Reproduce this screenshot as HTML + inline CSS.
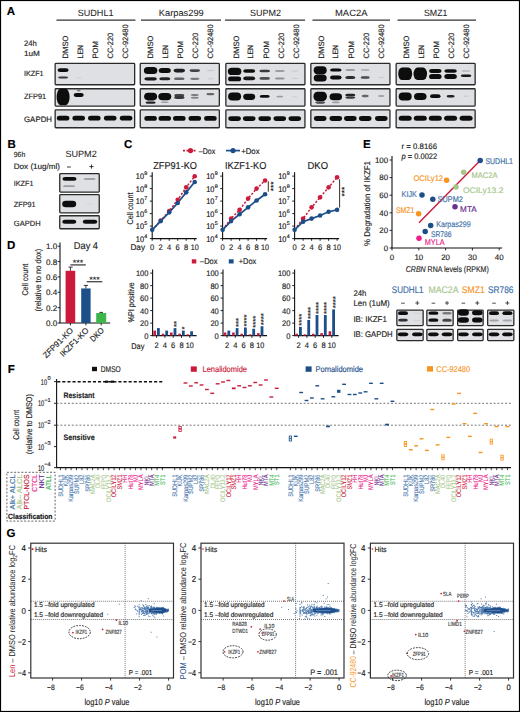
<!DOCTYPE html><html><head><meta charset="utf-8"><style>html,body{margin:0;padding:0;background:#fff;}svg{display:block;}</style></head><body><svg width="520" height="712" viewBox="0 0 520 712" font-family='"Liberation Sans", sans-serif' text-rendering="geometricPrecision">
<defs><filter id="bl" x="-50%" y="-50%" width="200%" height="200%"><feGaussianBlur stdDeviation="0.75"/></filter><filter id="bl2" x="-50%" y="-50%" width="200%" height="200%"><feGaussianBlur stdDeviation="0.9"/></filter></defs>
<rect x="0.00" y="0.00" width="520.00" height="712.00" fill="#fff" />
<text x="6.80" y="15.48" font-size="11.5" fill="#000" stroke="#000" stroke-width="0.15" font-weight="bold" >A</text>
<text x="7.60" y="147.78" font-size="11.5" fill="#000" stroke="#000" stroke-width="0.15" font-weight="bold" >B</text>
<text x="124.00" y="148.28" font-size="11.5" fill="#000" stroke="#000" stroke-width="0.15" font-weight="bold" >C</text>
<text x="7.00" y="248.78" font-size="11.5" fill="#000" stroke="#000" stroke-width="0.15" font-weight="bold" >D</text>
<text x="363.00" y="147.98" font-size="11.5" fill="#000" stroke="#000" stroke-width="0.15" font-weight="bold" >E</text>
<text x="7.80" y="373.08" font-size="11.5" fill="#000" stroke="#000" stroke-width="0.15" font-weight="bold" >F</text>
<text x="6.40" y="536.98" font-size="11.5" fill="#000" stroke="#000" stroke-width="0.15" font-weight="bold" >G</text>
<text x="77.70" y="16.08" font-size="9.1" fill="#222" stroke="#222" stroke-width="0.05" textLength="35.8" lengthAdjust="spacingAndGlyphs" >SUDHL1</text>
<line x1="56.50" y1="20.10" x2="135.40" y2="20.10" stroke="#333" stroke-width="1.1" />
<text x="158.80" y="16.08" font-size="9.1" fill="#222" stroke="#222" stroke-width="0.05" textLength="45.0" lengthAdjust="spacingAndGlyphs" >Karpas299</text>
<line x1="141.00" y1="20.10" x2="221.00" y2="20.10" stroke="#333" stroke-width="1.1" />
<text x="250.00" y="16.08" font-size="9.1" fill="#222" stroke="#222" stroke-width="0.05" textLength="31.0" lengthAdjust="spacingAndGlyphs" >SUPM2</text>
<line x1="225.00" y1="20.10" x2="305.00" y2="20.10" stroke="#333" stroke-width="1.1" />
<text x="335.00" y="16.08" font-size="9.1" fill="#222" stroke="#222" stroke-width="0.05" textLength="32.5" lengthAdjust="spacingAndGlyphs" >MAC2A</text>
<line x1="312.50" y1="20.10" x2="390.00" y2="20.10" stroke="#333" stroke-width="1.1" />
<text x="424.00" y="16.08" font-size="9.1" fill="#222" stroke="#222" stroke-width="0.05" textLength="23.5" lengthAdjust="spacingAndGlyphs" >SMZ1</text>
<line x1="397.50" y1="20.10" x2="476.00" y2="20.10" stroke="#333" stroke-width="1.1" />
<text transform="translate(68.01,58.40) rotate(-90)" font-size="7.8" fill="#222" stroke="#222" stroke-width="0.15" textLength="22.8" lengthAdjust="spacingAndGlyphs" >DMSO</text>
<text transform="translate(82.61,58.40) rotate(-90)" font-size="7.8" fill="#222" stroke="#222" stroke-width="0.15" textLength="13.5" lengthAdjust="spacingAndGlyphs" >LEN</text>
<text transform="translate(97.81,58.40) rotate(-90)" font-size="7.8" fill="#222" stroke="#222" stroke-width="0.15" textLength="17.1" lengthAdjust="spacingAndGlyphs" >POM</text>
<text transform="translate(112.81,58.40) rotate(-90)" font-size="7.8" fill="#222" stroke="#222" stroke-width="0.15" textLength="25.6" lengthAdjust="spacingAndGlyphs" >CC-220</text>
<text transform="translate(128.31,58.40) rotate(-90)" font-size="7.8" fill="#222" stroke="#222" stroke-width="0.15" textLength="34.1" lengthAdjust="spacingAndGlyphs" >CC-92480</text>
<text transform="translate(153.11,58.40) rotate(-90)" font-size="7.8" fill="#222" stroke="#222" stroke-width="0.15" textLength="22.8" lengthAdjust="spacingAndGlyphs" >DMSO</text>
<text transform="translate(167.71,58.40) rotate(-90)" font-size="7.8" fill="#222" stroke="#222" stroke-width="0.15" textLength="13.5" lengthAdjust="spacingAndGlyphs" >LEN</text>
<text transform="translate(182.91,58.40) rotate(-90)" font-size="7.8" fill="#222" stroke="#222" stroke-width="0.15" textLength="17.1" lengthAdjust="spacingAndGlyphs" >POM</text>
<text transform="translate(197.91,58.40) rotate(-90)" font-size="7.8" fill="#222" stroke="#222" stroke-width="0.15" textLength="25.6" lengthAdjust="spacingAndGlyphs" >CC-220</text>
<text transform="translate(213.41,58.40) rotate(-90)" font-size="7.8" fill="#222" stroke="#222" stroke-width="0.15" textLength="34.1" lengthAdjust="spacingAndGlyphs" >CC-92480</text>
<text transform="translate(238.71,58.40) rotate(-90)" font-size="7.8" fill="#222" stroke="#222" stroke-width="0.15" textLength="22.8" lengthAdjust="spacingAndGlyphs" >DMSO</text>
<text transform="translate(253.31,58.40) rotate(-90)" font-size="7.8" fill="#222" stroke="#222" stroke-width="0.15" textLength="13.5" lengthAdjust="spacingAndGlyphs" >LEN</text>
<text transform="translate(268.51,58.40) rotate(-90)" font-size="7.8" fill="#222" stroke="#222" stroke-width="0.15" textLength="17.1" lengthAdjust="spacingAndGlyphs" >POM</text>
<text transform="translate(283.51,58.40) rotate(-90)" font-size="7.8" fill="#222" stroke="#222" stroke-width="0.15" textLength="25.6" lengthAdjust="spacingAndGlyphs" >CC-220</text>
<text transform="translate(299.01,58.40) rotate(-90)" font-size="7.8" fill="#222" stroke="#222" stroke-width="0.15" textLength="34.1" lengthAdjust="spacingAndGlyphs" >CC-92480</text>
<text transform="translate(323.71,58.40) rotate(-90)" font-size="7.8" fill="#222" stroke="#222" stroke-width="0.15" textLength="22.8" lengthAdjust="spacingAndGlyphs" >DMSO</text>
<text transform="translate(338.31,58.40) rotate(-90)" font-size="7.8" fill="#222" stroke="#222" stroke-width="0.15" textLength="13.5" lengthAdjust="spacingAndGlyphs" >LEN</text>
<text transform="translate(353.51,58.40) rotate(-90)" font-size="7.8" fill="#222" stroke="#222" stroke-width="0.15" textLength="17.1" lengthAdjust="spacingAndGlyphs" >POM</text>
<text transform="translate(368.51,58.40) rotate(-90)" font-size="7.8" fill="#222" stroke="#222" stroke-width="0.15" textLength="25.6" lengthAdjust="spacingAndGlyphs" >CC-220</text>
<text transform="translate(384.01,58.40) rotate(-90)" font-size="7.8" fill="#222" stroke="#222" stroke-width="0.15" textLength="34.1" lengthAdjust="spacingAndGlyphs" >CC-92480</text>
<text transform="translate(409.01,58.40) rotate(-90)" font-size="7.8" fill="#222" stroke="#222" stroke-width="0.15" textLength="22.8" lengthAdjust="spacingAndGlyphs" >DMSO</text>
<text transform="translate(423.61,58.40) rotate(-90)" font-size="7.8" fill="#222" stroke="#222" stroke-width="0.15" textLength="13.5" lengthAdjust="spacingAndGlyphs" >LEN</text>
<text transform="translate(438.81,58.40) rotate(-90)" font-size="7.8" fill="#222" stroke="#222" stroke-width="0.15" textLength="17.1" lengthAdjust="spacingAndGlyphs" >POM</text>
<text transform="translate(453.81,58.40) rotate(-90)" font-size="7.8" fill="#222" stroke="#222" stroke-width="0.15" textLength="25.6" lengthAdjust="spacingAndGlyphs" >CC-220</text>
<text transform="translate(469.31,58.40) rotate(-90)" font-size="7.8" fill="#222" stroke="#222" stroke-width="0.15" textLength="34.1" lengthAdjust="spacingAndGlyphs" >CC-92480</text>
<text x="24.00" y="46.34" font-size="7.9" fill="#222" stroke="#222" stroke-width="0.15" textLength="12.8" lengthAdjust="spacingAndGlyphs" >24h</text>
<text x="24.00" y="55.84" font-size="7.6" fill="#222" stroke="#222" stroke-width="0.15" textLength="15.9" lengthAdjust="spacingAndGlyphs" >1uM</text>
<text x="24.00" y="75.96" font-size="7.4" fill="#222" stroke="#222" stroke-width="0.15" textLength="19.6" lengthAdjust="spacingAndGlyphs" >IKZF1</text>
<text x="24.00" y="99.17" font-size="7.7" fill="#222" stroke="#222" stroke-width="0.15" textLength="22.2" lengthAdjust="spacingAndGlyphs" >ZFP91</text>
<text x="24.00" y="121.74" font-size="7.9" fill="#222" stroke="#222" stroke-width="0.15" textLength="28.0" lengthAdjust="spacingAndGlyphs" >GAPDH</text>
<rect x="55.15" y="63.35" width="79.50" height="21.40" fill="#dfe0e4" stroke="#2a2a2a" stroke-width="1.3" rx="0.8" />
<rect x="57.60" y="68.20" width="11.00" height="3.80" rx="2.60" ry="1.90" fill="#0d0d0d" fill-opacity="1" filter="url(#bl)"/>
<rect x="58.10" y="76.40" width="10.00" height="2.20" rx="2.60" ry="1.10" fill="#0d0d0d" fill-opacity="0.8" filter="url(#bl)"/>
<rect x="75.20" y="77.20" width="7.00" height="1.20" rx="2.60" ry="0.60" fill="#0d0d0d" fill-opacity="0.07" filter="url(#bl)"/>
<rect x="55.15" y="88.75" width="79.50" height="17.40" fill="#dfe0e4" stroke="#2a2a2a" stroke-width="1.3" rx="0.8" />
<rect x="56.60" y="88.75" width="13.00" height="16.50" rx="4.00" ry="8.25" fill="#0d0d0d" fill-opacity="1" filter="url(#bl)"/>
<rect x="73.70" y="93.00" width="10.00" height="4.00" rx="2.60" ry="2.00" fill="#0d0d0d" fill-opacity="1" filter="url(#bl)"/>
<rect x="76.70" y="89.70" width="4.00" height="1.80" rx="2.00" ry="0.90" fill="#0d0d0d" fill-opacity="0.45" filter="url(#bl)"/>
<rect x="55.15" y="109.95" width="79.50" height="17.80" fill="#dfe0e4" stroke="#2a2a2a" stroke-width="1.3" rx="0.8" />
<rect x="56.85" y="115.80" width="12.50" height="4.80" rx="2.80" ry="2.40" fill="#0d0d0d" fill-opacity="1" filter="url(#bl)"/>
<rect x="72.45" y="115.80" width="12.50" height="4.80" rx="2.80" ry="2.40" fill="#0d0d0d" fill-opacity="1" filter="url(#bl)"/>
<rect x="88.05" y="115.80" width="12.50" height="4.80" rx="2.80" ry="2.40" fill="#0d0d0d" fill-opacity="1" filter="url(#bl)"/>
<rect x="103.95" y="115.80" width="12.50" height="4.80" rx="2.80" ry="2.40" fill="#0d0d0d" fill-opacity="1" filter="url(#bl)"/>
<rect x="119.85" y="115.80" width="12.50" height="4.80" rx="2.80" ry="2.40" fill="#0d0d0d" fill-opacity="1" filter="url(#bl)"/>
<rect x="140.25" y="63.35" width="79.10" height="21.40" fill="#dfe0e4" stroke="#2a2a2a" stroke-width="1.3" rx="0.8" />
<rect x="143.85" y="66.90" width="13.50" height="7.00" rx="3.90" ry="3.50" fill="#0d0d0d" fill-opacity="1" filter="url(#bl)"/>
<rect x="144.35" y="77.20" width="12.50" height="3.20" rx="2.60" ry="1.60" fill="#0d0d0d" fill-opacity="0.95" filter="url(#bl)"/>
<rect x="158.80" y="68.00" width="12.00" height="5.00" rx="2.90" ry="2.50" fill="#0d0d0d" fill-opacity="1" filter="url(#bl)"/>
<rect x="159.30" y="77.30" width="11.00" height="3.00" rx="2.60" ry="1.50" fill="#0d0d0d" fill-opacity="0.9" filter="url(#bl)"/>
<rect x="173.55" y="68.80" width="11.50" height="3.60" rx="2.60" ry="1.80" fill="#0d0d0d" fill-opacity="0.92" filter="url(#bl)"/>
<rect x="174.05" y="77.50" width="10.50" height="2.60" rx="2.60" ry="1.30" fill="#0d0d0d" fill-opacity="0.6" filter="url(#bl)"/>
<rect x="189.55" y="69.20" width="10.50" height="2.80" rx="2.60" ry="1.40" fill="#0d0d0d" fill-opacity="0.75" filter="url(#bl)"/>
<rect x="190.05" y="77.70" width="9.50" height="2.20" rx="2.60" ry="1.10" fill="#0d0d0d" fill-opacity="0.45" filter="url(#bl)"/>
<rect x="206.40" y="69.85" width="8.00" height="1.50" rx="2.60" ry="0.75" fill="#0d0d0d" fill-opacity="0.1" filter="url(#bl)"/>
<rect x="206.90" y="78.10" width="7.00" height="1.40" rx="2.60" ry="0.70" fill="#0d0d0d" fill-opacity="0.07" filter="url(#bl)"/>
<rect x="140.25" y="88.75" width="79.10" height="17.40" fill="#dfe0e4" stroke="#2a2a2a" stroke-width="1.3" rx="0.8" />
<rect x="144.10" y="92.80" width="13.00" height="7.60" rx="4.00" ry="3.80" fill="#0d0d0d" fill-opacity="1" filter="url(#bl)"/>
<rect x="145.60" y="101.40" width="10.00" height="2.40" rx="2.60" ry="1.20" fill="#0d0d0d" fill-opacity="0.9" filter="url(#bl)"/>
<rect x="158.30" y="92.90" width="13.00" height="7.40" rx="4.00" ry="3.70" fill="#0d0d0d" fill-opacity="1" filter="url(#bl)"/>
<rect x="160.80" y="101.40" width="8.00" height="1.60" rx="2.60" ry="0.80" fill="#0d0d0d" fill-opacity="0.3" filter="url(#bl)"/>
<rect x="174.30" y="94.00" width="10.00" height="2.80" rx="2.60" ry="1.40" fill="#0d0d0d" fill-opacity="0.75" filter="url(#bl)"/>
<rect x="174.05" y="96.20" width="10.50" height="2.80" rx="2.60" ry="1.40" fill="#0d0d0d" fill-opacity="0.8" filter="url(#bl)"/>
<rect x="190.80" y="94.00" width="8.00" height="2.00" rx="2.60" ry="1.00" fill="#0d0d0d" fill-opacity="0.45" filter="url(#bl)"/>
<rect x="190.80" y="96.80" width="8.00" height="2.00" rx="2.60" ry="1.00" fill="#0d0d0d" fill-opacity="0.4" filter="url(#bl)"/>
<rect x="206.40" y="93.10" width="8.00" height="2.20" rx="2.60" ry="1.10" fill="#0d0d0d" fill-opacity="0.6" filter="url(#bl)"/>
<rect x="140.25" y="109.95" width="79.10" height="17.80" fill="#dfe0e4" stroke="#2a2a2a" stroke-width="1.3" rx="0.8" />
<rect x="144.35" y="116.10" width="12.50" height="4.60" rx="2.70" ry="2.30" fill="#0d0d0d" fill-opacity="1" filter="url(#bl)"/>
<rect x="158.55" y="116.10" width="12.50" height="4.60" rx="2.70" ry="2.30" fill="#0d0d0d" fill-opacity="1" filter="url(#bl)"/>
<rect x="173.05" y="116.10" width="12.50" height="4.60" rx="2.70" ry="2.30" fill="#0d0d0d" fill-opacity="1" filter="url(#bl)"/>
<rect x="188.55" y="116.10" width="12.50" height="4.60" rx="2.70" ry="2.30" fill="#0d0d0d" fill-opacity="1" filter="url(#bl)"/>
<rect x="204.15" y="116.10" width="12.50" height="4.60" rx="2.70" ry="2.30" fill="#0d0d0d" fill-opacity="1" filter="url(#bl)"/>
<rect x="225.85" y="63.35" width="79.10" height="21.40" fill="#dfe0e4" stroke="#2a2a2a" stroke-width="1.3" rx="0.8" />
<rect x="227.85" y="67.70" width="13.50" height="7.40" rx="4.00" ry="3.70" fill="#0d0d0d" fill-opacity="1" filter="url(#bl)"/>
<rect x="228.10" y="76.50" width="13.00" height="4.80" rx="2.80" ry="2.40" fill="#0d0d0d" fill-opacity="1" filter="url(#bl)"/>
<rect x="243.20" y="69.20" width="12.00" height="3.60" rx="2.60" ry="1.80" fill="#0d0d0d" fill-opacity="1" filter="url(#bl)"/>
<rect x="243.20" y="76.60" width="12.00" height="3.60" rx="2.60" ry="1.80" fill="#0d0d0d" fill-opacity="0.95" filter="url(#bl)"/>
<rect x="259.45" y="69.70" width="10.50" height="2.60" rx="2.60" ry="1.30" fill="#0d0d0d" fill-opacity="0.8" filter="url(#bl)"/>
<rect x="259.45" y="77.10" width="10.50" height="2.60" rx="2.60" ry="1.30" fill="#0d0d0d" fill-opacity="0.7" filter="url(#bl)"/>
<rect x="274.80" y="70.00" width="10.00" height="2.00" rx="2.60" ry="1.00" fill="#0d0d0d" fill-opacity="0.3" filter="url(#bl)"/>
<rect x="274.80" y="77.40" width="10.00" height="2.00" rx="2.60" ry="1.00" fill="#0d0d0d" fill-opacity="0.35" filter="url(#bl)"/>
<rect x="290.80" y="70.30" width="8.00" height="1.40" rx="2.60" ry="0.70" fill="#0d0d0d" fill-opacity="0.08" filter="url(#bl)"/>
<rect x="290.80" y="77.70" width="8.00" height="1.40" rx="2.60" ry="0.70" fill="#0d0d0d" fill-opacity="0.08" filter="url(#bl)"/>
<rect x="225.85" y="88.75" width="79.10" height="17.40" fill="#dfe0e4" stroke="#2a2a2a" stroke-width="1.3" rx="0.8" />
<rect x="228.10" y="92.60" width="13.00" height="8.00" rx="4.00" ry="4.00" fill="#0d0d0d" fill-opacity="1" filter="url(#bl)"/>
<rect x="243.20" y="93.70" width="12.00" height="6.20" rx="3.50" ry="3.10" fill="#0d0d0d" fill-opacity="1" filter="url(#bl)"/>
<rect x="259.70" y="95.00" width="10.00" height="2.80" rx="2.60" ry="1.40" fill="#0d0d0d" fill-opacity="1" filter="url(#bl)"/>
<rect x="276.30" y="95.70" width="7.00" height="1.80" rx="2.60" ry="0.90" fill="#0d0d0d" fill-opacity="0.3" filter="url(#bl)"/>
<rect x="291.80" y="95.90" width="6.00" height="1.40" rx="2.60" ry="0.70" fill="#0d0d0d" fill-opacity="0.07" filter="url(#bl)"/>
<rect x="225.85" y="109.95" width="79.10" height="17.80" fill="#dfe0e4" stroke="#2a2a2a" stroke-width="1.3" rx="0.8" />
<rect x="228.35" y="116.20" width="12.50" height="4.80" rx="2.80" ry="2.40" fill="#0d0d0d" fill-opacity="1" filter="url(#bl)"/>
<rect x="242.95" y="116.20" width="12.50" height="4.80" rx="2.80" ry="2.40" fill="#0d0d0d" fill-opacity="1" filter="url(#bl)"/>
<rect x="258.45" y="116.20" width="12.50" height="4.80" rx="2.80" ry="2.40" fill="#0d0d0d" fill-opacity="1" filter="url(#bl)"/>
<rect x="273.55" y="116.20" width="12.50" height="4.80" rx="2.80" ry="2.40" fill="#0d0d0d" fill-opacity="1" filter="url(#bl)"/>
<rect x="288.55" y="116.20" width="12.50" height="4.80" rx="2.80" ry="2.40" fill="#0d0d0d" fill-opacity="1" filter="url(#bl)"/>
<rect x="310.85" y="63.35" width="79.10" height="21.40" fill="#dfe0e4" stroke="#2a2a2a" stroke-width="1.3" rx="0.8" />
<rect x="313.70" y="66.30" width="13.00" height="8.00" rx="4.00" ry="4.00" fill="#0d0d0d" fill-opacity="1" filter="url(#bl)"/>
<rect x="313.70" y="74.40" width="13.00" height="7.00" rx="3.90" ry="3.50" fill="#0d0d0d" fill-opacity="1" filter="url(#bl)"/>
<rect x="330.05" y="68.40" width="11.50" height="3.20" rx="2.60" ry="1.60" fill="#0d0d0d" fill-opacity="1" filter="url(#bl)"/>
<rect x="330.05" y="75.40" width="11.50" height="4.20" rx="2.60" ry="2.10" fill="#0d0d0d" fill-opacity="1" filter="url(#bl)"/>
<rect x="345.30" y="69.00" width="10.00" height="2.00" rx="2.60" ry="1.00" fill="#0d0d0d" fill-opacity="0.3" filter="url(#bl)"/>
<rect x="345.30" y="76.00" width="10.00" height="3.00" rx="2.60" ry="1.50" fill="#0d0d0d" fill-opacity="0.85" filter="url(#bl)"/>
<rect x="360.70" y="69.10" width="9.00" height="1.80" rx="2.60" ry="0.90" fill="#0d0d0d" fill-opacity="0.2" filter="url(#bl)"/>
<rect x="360.70" y="76.20" width="9.00" height="2.60" rx="2.60" ry="1.30" fill="#0d0d0d" fill-opacity="0.7" filter="url(#bl)"/>
<rect x="377.80" y="76.80" width="7.00" height="1.40" rx="2.60" ry="0.70" fill="#0d0d0d" fill-opacity="0.08" filter="url(#bl)"/>
<rect x="310.85" y="88.75" width="79.10" height="17.40" fill="#dfe0e4" stroke="#2a2a2a" stroke-width="1.3" rx="0.8" />
<rect x="313.45" y="91.65" width="13.50" height="9.50" rx="4.00" ry="4.75" fill="#0d0d0d" fill-opacity="1" filter="url(#bl)"/>
<rect x="315.20" y="101.50" width="10.00" height="2.20" rx="2.60" ry="1.10" fill="#0d0d0d" fill-opacity="0.7" filter="url(#bl)"/>
<rect x="329.55" y="93.30" width="12.50" height="7.00" rx="3.90" ry="3.50" fill="#0d0d0d" fill-opacity="1" filter="url(#bl)"/>
<rect x="331.80" y="101.60" width="8.00" height="1.60" rx="2.60" ry="0.80" fill="#0d0d0d" fill-opacity="0.3" filter="url(#bl)"/>
<rect x="345.30" y="93.80" width="10.00" height="2.40" rx="2.60" ry="1.20" fill="#0d0d0d" fill-opacity="0.9" filter="url(#bl)"/>
<rect x="345.30" y="96.50" width="10.00" height="2.20" rx="2.60" ry="1.10" fill="#0d0d0d" fill-opacity="0.8" filter="url(#bl)"/>
<rect x="361.70" y="94.80" width="7.00" height="2.40" rx="2.60" ry="1.20" fill="#0d0d0d" fill-opacity="0.6" filter="url(#bl)"/>
<rect x="378.05" y="95.10" width="6.50" height="1.80" rx="2.60" ry="0.90" fill="#0d0d0d" fill-opacity="0.28" filter="url(#bl)"/>
<rect x="310.85" y="109.95" width="79.10" height="17.80" fill="#dfe0e4" stroke="#2a2a2a" stroke-width="1.3" rx="0.8" />
<rect x="313.95" y="116.10" width="12.50" height="4.80" rx="2.80" ry="2.40" fill="#0d0d0d" fill-opacity="1" filter="url(#bl)"/>
<rect x="329.55" y="116.10" width="12.50" height="4.80" rx="2.80" ry="2.40" fill="#0d0d0d" fill-opacity="1" filter="url(#bl)"/>
<rect x="344.05" y="116.10" width="12.50" height="4.80" rx="2.80" ry="2.40" fill="#0d0d0d" fill-opacity="1" filter="url(#bl)"/>
<rect x="358.95" y="116.10" width="12.50" height="4.80" rx="2.80" ry="2.40" fill="#0d0d0d" fill-opacity="1" filter="url(#bl)"/>
<rect x="375.05" y="116.10" width="12.50" height="4.80" rx="2.80" ry="2.40" fill="#0d0d0d" fill-opacity="1" filter="url(#bl)"/>
<rect x="396.15" y="63.35" width="79.00" height="21.40" fill="#dfe0e4" stroke="#2a2a2a" stroke-width="1.3" rx="0.8" />
<rect x="398.20" y="67.50" width="14.00" height="12.60" rx="4.00" ry="6.30" fill="#0d0d0d" fill-opacity="1" filter="url(#bl)"/>
<rect x="413.55" y="67.60" width="13.50" height="12.40" rx="4.00" ry="6.20" fill="#0d0d0d" fill-opacity="1" filter="url(#bl)"/>
<rect x="429.05" y="69.10" width="12.50" height="3.80" rx="2.60" ry="1.90" fill="#0d0d0d" fill-opacity="1" filter="url(#bl)"/>
<rect x="429.05" y="73.90" width="12.50" height="5.20" rx="3.00" ry="2.60" fill="#0d0d0d" fill-opacity="1" filter="url(#bl)"/>
<rect x="444.35" y="69.20" width="12.50" height="3.60" rx="2.60" ry="1.80" fill="#0d0d0d" fill-opacity="1" filter="url(#bl)"/>
<rect x="444.35" y="74.00" width="12.50" height="5.00" rx="2.90" ry="2.50" fill="#0d0d0d" fill-opacity="1" filter="url(#bl)"/>
<rect x="461.60" y="70.30" width="9.00" height="1.40" rx="2.60" ry="0.70" fill="#0d0d0d" fill-opacity="0.2" filter="url(#bl)"/>
<rect x="460.85" y="74.50" width="10.50" height="2.60" rx="2.60" ry="1.30" fill="#0d0d0d" fill-opacity="0.95" filter="url(#bl)"/>
<rect x="396.15" y="88.75" width="79.00" height="17.40" fill="#dfe0e4" stroke="#2a2a2a" stroke-width="1.3" rx="0.8" />
<rect x="398.70" y="92.60" width="13.00" height="7.80" rx="4.00" ry="3.90" fill="#0d0d0d" fill-opacity="1" filter="url(#bl)"/>
<rect x="414.05" y="93.00" width="12.50" height="7.00" rx="3.90" ry="3.50" fill="#0d0d0d" fill-opacity="1" filter="url(#bl)"/>
<rect x="430.05" y="94.30" width="10.50" height="3.80" rx="2.60" ry="1.90" fill="#0d0d0d" fill-opacity="1" filter="url(#bl)"/>
<rect x="446.60" y="95.00" width="8.00" height="2.40" rx="2.60" ry="1.20" fill="#0d0d0d" fill-opacity="0.9" filter="url(#bl)"/>
<rect x="463.10" y="95.50" width="6.00" height="1.40" rx="2.60" ry="0.70" fill="#0d0d0d" fill-opacity="0.08" filter="url(#bl)"/>
<rect x="396.15" y="109.95" width="79.00" height="17.80" fill="#dfe0e4" stroke="#2a2a2a" stroke-width="1.3" rx="0.8" />
<rect x="398.70" y="115.70" width="13.00" height="5.00" rx="2.90" ry="2.50" fill="#0d0d0d" fill-opacity="1" filter="url(#bl)"/>
<rect x="413.80" y="115.70" width="13.00" height="5.00" rx="2.90" ry="2.50" fill="#0d0d0d" fill-opacity="1" filter="url(#bl)"/>
<rect x="428.80" y="115.70" width="13.00" height="5.00" rx="2.90" ry="2.50" fill="#0d0d0d" fill-opacity="1" filter="url(#bl)"/>
<rect x="444.10" y="115.70" width="13.00" height="5.00" rx="2.90" ry="2.50" fill="#0d0d0d" fill-opacity="1" filter="url(#bl)"/>
<rect x="459.60" y="115.70" width="13.00" height="5.00" rx="2.90" ry="2.50" fill="#0d0d0d" fill-opacity="1" filter="url(#bl)"/>
<text x="13.80" y="156.86" font-size="7.4" fill="#222" stroke="#222" stroke-width="0.15" textLength="11.4" lengthAdjust="spacingAndGlyphs" >96h</text>
<text x="65.40" y="156.58" font-size="9.1" fill="#222" stroke="#222" stroke-width="0.05" textLength="31.3" lengthAdjust="spacingAndGlyphs" >SUPM2</text>
<text x="13.80" y="169.41" font-size="7.8" fill="#222" stroke="#222" stroke-width="0.15" textLength="46.2" lengthAdjust="spacingAndGlyphs" >Dox (1ug/ml)</text>
<line x1="67.00" y1="167.00" x2="70.80" y2="167.00" stroke="#222" stroke-width="0.9" />
<line x1="89.40" y1="166.60" x2="93.60" y2="166.60" stroke="#222" stroke-width="0.9" />
<line x1="91.50" y1="164.50" x2="91.50" y2="168.70" stroke="#222" stroke-width="0.9" />
<text x="13.80" y="185.86" font-size="7.4" fill="#222" stroke="#222" stroke-width="0.15" textLength="19.6" lengthAdjust="spacingAndGlyphs" >IKZF1</text>
<text x="13.80" y="207.26" font-size="7.4" fill="#222" stroke="#222" stroke-width="0.15" textLength="21.8" lengthAdjust="spacingAndGlyphs" >ZFP91</text>
<text x="13.80" y="225.74" font-size="7.6" fill="#222" stroke="#222" stroke-width="0.15" textLength="26.8" lengthAdjust="spacingAndGlyphs" >GAPDH</text>
<rect x="59.75" y="173.65" width="39.50" height="18.40" fill="#dfe0e4" stroke="#2a2a2a" stroke-width="1.3" rx="0.8" />
<rect x="59.75" y="194.65" width="39.50" height="18.20" fill="#dfe0e4" stroke="#2a2a2a" stroke-width="1.3" rx="0.8" />
<rect x="59.75" y="215.75" width="39.50" height="13.00" fill="#dfe0e4" stroke="#2a2a2a" stroke-width="1.3" rx="0.8" />
<rect x="62.50" y="177.10" width="14.00" height="3.60" rx="2.60" ry="1.80" fill="#0d0d0d" fill-opacity="1" filter="url(#bl)"/>
<rect x="63.00" y="185.30" width="12.00" height="1.80" rx="2.60" ry="0.90" fill="#0d0d0d" fill-opacity="0.3" filter="url(#bl)"/>
<rect x="83.60" y="178.00" width="12.00" height="2.00" rx="2.60" ry="1.00" fill="#0d0d0d" fill-opacity="0.28" filter="url(#bl)"/>
<rect x="62.20" y="200.70" width="14.00" height="6.60" rx="3.70" ry="3.30" fill="#0d0d0d" fill-opacity="1" filter="url(#bl)"/>
<rect x="85.60" y="203.45" width="8.00" height="1.50" rx="2.60" ry="0.75" fill="#0d0d0d" fill-opacity="0.04" filter="url(#bl)"/>
<rect x="62.30" y="219.80" width="14.00" height="4.00" rx="2.60" ry="2.00" fill="#0d0d0d" fill-opacity="1" filter="url(#bl)"/>
<rect x="82.75" y="219.80" width="14.50" height="4.00" rx="2.60" ry="2.00" fill="#0d0d0d" fill-opacity="1" filter="url(#bl)"/>
<text x="198.80" y="153.55" font-size="8.2" fill="#222" stroke="#222" stroke-width="0.15" textLength="16.4" lengthAdjust="spacingAndGlyphs" >–Dox</text>
<text x="241.20" y="153.55" font-size="8.2" fill="#222" stroke="#222" stroke-width="0.15" textLength="18.4" lengthAdjust="spacingAndGlyphs" >+Dox</text>
<line x1="183.00" y1="150.60" x2="197.00" y2="150.60" stroke="#cc1a3a" stroke-width="1.6" stroke-dasharray="2,1.5" />
<circle cx="190.50" cy="150.60" r="2.6" fill="#cc1a3a"/>
<line x1="226.00" y1="150.60" x2="240.00" y2="150.60" stroke="#1c4f8a" stroke-width="1.7" />
<circle cx="233.00" cy="150.60" r="2.6" fill="#1c4f8a"/>
<text x="153.20" y="168.80" font-size="10.0" fill="#222" stroke="#222" stroke-width="0.15" textLength="43.8" lengthAdjust="spacingAndGlyphs" >ZFP91-KO</text>
<line x1="152.20" y1="172.20" x2="152.20" y2="238.60" stroke="#111" stroke-width="1.1" />
<line x1="151.70" y1="238.60" x2="196.70" y2="238.60" stroke="#111" stroke-width="1.1" />
<line x1="149.80" y1="238.60" x2="152.20" y2="238.60" stroke="#111" stroke-width="0.9" />
<text x="144.00" y="241.60" font-size="8.2" fill="#111" stroke="#111" stroke-width="0.15" text-anchor="end" textLength="8.2" lengthAdjust="spacingAndGlyphs" >10</text>
<text x="144.30" y="237.60" font-size="5.4" fill="#111" stroke="#111" stroke-width="0.15" >4</text>
<line x1="149.80" y1="226.10" x2="152.20" y2="226.10" stroke="#111" stroke-width="0.9" />
<text x="144.00" y="229.10" font-size="8.2" fill="#111" stroke="#111" stroke-width="0.15" text-anchor="end" textLength="8.2" lengthAdjust="spacingAndGlyphs" >10</text>
<text x="144.30" y="225.10" font-size="5.4" fill="#111" stroke="#111" stroke-width="0.15" >5</text>
<line x1="149.80" y1="213.60" x2="152.20" y2="213.60" stroke="#111" stroke-width="0.9" />
<text x="144.00" y="216.60" font-size="8.2" fill="#111" stroke="#111" stroke-width="0.15" text-anchor="end" textLength="8.2" lengthAdjust="spacingAndGlyphs" >10</text>
<text x="144.30" y="212.60" font-size="5.4" fill="#111" stroke="#111" stroke-width="0.15" >6</text>
<line x1="149.80" y1="201.10" x2="152.20" y2="201.10" stroke="#111" stroke-width="0.9" />
<text x="144.00" y="204.10" font-size="8.2" fill="#111" stroke="#111" stroke-width="0.15" text-anchor="end" textLength="8.2" lengthAdjust="spacingAndGlyphs" >10</text>
<text x="144.30" y="200.10" font-size="5.4" fill="#111" stroke="#111" stroke-width="0.15" >7</text>
<line x1="149.80" y1="188.60" x2="152.20" y2="188.60" stroke="#111" stroke-width="0.9" />
<text x="144.00" y="191.60" font-size="8.2" fill="#111" stroke="#111" stroke-width="0.15" text-anchor="end" textLength="8.2" lengthAdjust="spacingAndGlyphs" >10</text>
<text x="144.30" y="187.60" font-size="5.4" fill="#111" stroke="#111" stroke-width="0.15" >8</text>
<line x1="149.80" y1="176.10" x2="152.20" y2="176.10" stroke="#111" stroke-width="0.9" />
<text x="144.00" y="179.10" font-size="8.2" fill="#111" stroke="#111" stroke-width="0.15" text-anchor="end" textLength="8.2" lengthAdjust="spacingAndGlyphs" >10</text>
<text x="144.30" y="175.10" font-size="5.4" fill="#111" stroke="#111" stroke-width="0.15" >9</text>
<line x1="152.20" y1="238.60" x2="152.20" y2="240.80" stroke="#111" stroke-width="0.9" />
<text x="152.20" y="249.60" font-size="8.0" fill="#222" stroke="#222" stroke-width="0.15" text-anchor="middle" textLength="4.2" lengthAdjust="spacingAndGlyphs" >0</text>
<line x1="160.70" y1="238.60" x2="160.70" y2="240.80" stroke="#111" stroke-width="0.9" />
<text x="160.70" y="249.60" font-size="8.0" fill="#222" stroke="#222" stroke-width="0.15" text-anchor="middle" textLength="4.2" lengthAdjust="spacingAndGlyphs" >2</text>
<line x1="169.20" y1="238.60" x2="169.20" y2="240.80" stroke="#111" stroke-width="0.9" />
<text x="169.20" y="249.60" font-size="8.0" fill="#222" stroke="#222" stroke-width="0.15" text-anchor="middle" textLength="4.2" lengthAdjust="spacingAndGlyphs" >4</text>
<line x1="177.70" y1="238.60" x2="177.70" y2="240.80" stroke="#111" stroke-width="0.9" />
<text x="177.70" y="249.60" font-size="8.0" fill="#222" stroke="#222" stroke-width="0.15" text-anchor="middle" textLength="4.2" lengthAdjust="spacingAndGlyphs" >6</text>
<line x1="186.20" y1="238.60" x2="186.20" y2="240.80" stroke="#111" stroke-width="0.9" />
<text x="186.20" y="249.60" font-size="8.0" fill="#222" stroke="#222" stroke-width="0.15" text-anchor="middle" textLength="4.2" lengthAdjust="spacingAndGlyphs" >8</text>
<line x1="194.70" y1="238.60" x2="194.70" y2="240.80" stroke="#111" stroke-width="0.9" />
<text x="194.70" y="249.60" font-size="8.0" fill="#222" stroke="#222" stroke-width="0.15" text-anchor="middle" textLength="8.0" lengthAdjust="spacingAndGlyphs" >10</text>
<polyline points="152.20,229.85 160.70,220.47 169.20,211.10 177.70,199.85 186.20,187.35 194.70,176.22" fill="none" stroke="#cc1a3a" stroke-width="1.5" stroke-dasharray="2.2,1.6"/>
<polyline points="152.20,229.85 160.70,221.10 169.20,212.35 177.70,202.97 186.20,192.35 194.70,181.97" fill="none" stroke="#1c4f8a" stroke-width="1.7"/>
<circle cx="160.70" cy="220.47" r="2.3" fill="#cc1a3a"/>
<circle cx="169.20" cy="211.10" r="2.3" fill="#cc1a3a"/>
<circle cx="177.70" cy="199.85" r="2.3" fill="#cc1a3a"/>
<circle cx="186.20" cy="187.35" r="2.3" fill="#cc1a3a"/>
<circle cx="194.70" cy="176.22" r="2.3" fill="#cc1a3a"/>
<circle cx="152.20" cy="229.85" r="2.3" fill="#1c4f8a"/>
<circle cx="160.70" cy="221.10" r="2.3" fill="#1c4f8a"/>
<circle cx="169.20" cy="212.35" r="2.3" fill="#1c4f8a"/>
<circle cx="177.70" cy="202.97" r="2.3" fill="#1c4f8a"/>
<circle cx="186.20" cy="192.35" r="2.3" fill="#1c4f8a"/>
<circle cx="194.70" cy="181.97" r="2.3" fill="#1c4f8a"/>
<text x="225.00" y="168.80" font-size="10.0" fill="#222" stroke="#222" stroke-width="0.15" textLength="41.3" lengthAdjust="spacingAndGlyphs" >IKZF1-KO</text>
<line x1="222.60" y1="172.20" x2="222.60" y2="238.60" stroke="#111" stroke-width="1.1" />
<line x1="222.10" y1="238.60" x2="267.10" y2="238.60" stroke="#111" stroke-width="1.1" />
<line x1="220.20" y1="238.60" x2="222.60" y2="238.60" stroke="#111" stroke-width="0.9" />
<text x="214.40" y="241.60" font-size="8.2" fill="#111" stroke="#111" stroke-width="0.15" text-anchor="end" textLength="8.2" lengthAdjust="spacingAndGlyphs" >10</text>
<text x="214.70" y="237.60" font-size="5.4" fill="#111" stroke="#111" stroke-width="0.15" >4</text>
<line x1="220.20" y1="226.10" x2="222.60" y2="226.10" stroke="#111" stroke-width="0.9" />
<text x="214.40" y="229.10" font-size="8.2" fill="#111" stroke="#111" stroke-width="0.15" text-anchor="end" textLength="8.2" lengthAdjust="spacingAndGlyphs" >10</text>
<text x="214.70" y="225.10" font-size="5.4" fill="#111" stroke="#111" stroke-width="0.15" >5</text>
<line x1="220.20" y1="213.60" x2="222.60" y2="213.60" stroke="#111" stroke-width="0.9" />
<text x="214.40" y="216.60" font-size="8.2" fill="#111" stroke="#111" stroke-width="0.15" text-anchor="end" textLength="8.2" lengthAdjust="spacingAndGlyphs" >10</text>
<text x="214.70" y="212.60" font-size="5.4" fill="#111" stroke="#111" stroke-width="0.15" >6</text>
<line x1="220.20" y1="201.10" x2="222.60" y2="201.10" stroke="#111" stroke-width="0.9" />
<text x="214.40" y="204.10" font-size="8.2" fill="#111" stroke="#111" stroke-width="0.15" text-anchor="end" textLength="8.2" lengthAdjust="spacingAndGlyphs" >10</text>
<text x="214.70" y="200.10" font-size="5.4" fill="#111" stroke="#111" stroke-width="0.15" >7</text>
<line x1="220.20" y1="188.60" x2="222.60" y2="188.60" stroke="#111" stroke-width="0.9" />
<text x="214.40" y="191.60" font-size="8.2" fill="#111" stroke="#111" stroke-width="0.15" text-anchor="end" textLength="8.2" lengthAdjust="spacingAndGlyphs" >10</text>
<text x="214.70" y="187.60" font-size="5.4" fill="#111" stroke="#111" stroke-width="0.15" >8</text>
<line x1="220.20" y1="176.10" x2="222.60" y2="176.10" stroke="#111" stroke-width="0.9" />
<text x="214.40" y="179.10" font-size="8.2" fill="#111" stroke="#111" stroke-width="0.15" text-anchor="end" textLength="8.2" lengthAdjust="spacingAndGlyphs" >10</text>
<text x="214.70" y="175.10" font-size="5.4" fill="#111" stroke="#111" stroke-width="0.15" >9</text>
<line x1="222.60" y1="238.60" x2="222.60" y2="240.80" stroke="#111" stroke-width="0.9" />
<text x="222.60" y="249.60" font-size="8.0" fill="#222" stroke="#222" stroke-width="0.15" text-anchor="middle" textLength="4.2" lengthAdjust="spacingAndGlyphs" >0</text>
<line x1="231.10" y1="238.60" x2="231.10" y2="240.80" stroke="#111" stroke-width="0.9" />
<text x="231.10" y="249.60" font-size="8.0" fill="#222" stroke="#222" stroke-width="0.15" text-anchor="middle" textLength="4.2" lengthAdjust="spacingAndGlyphs" >2</text>
<line x1="239.60" y1="238.60" x2="239.60" y2="240.80" stroke="#111" stroke-width="0.9" />
<text x="239.60" y="249.60" font-size="8.0" fill="#222" stroke="#222" stroke-width="0.15" text-anchor="middle" textLength="4.2" lengthAdjust="spacingAndGlyphs" >4</text>
<line x1="248.10" y1="238.60" x2="248.10" y2="240.80" stroke="#111" stroke-width="0.9" />
<text x="248.10" y="249.60" font-size="8.0" fill="#222" stroke="#222" stroke-width="0.15" text-anchor="middle" textLength="4.2" lengthAdjust="spacingAndGlyphs" >6</text>
<line x1="256.60" y1="238.60" x2="256.60" y2="240.80" stroke="#111" stroke-width="0.9" />
<text x="256.60" y="249.60" font-size="8.0" fill="#222" stroke="#222" stroke-width="0.15" text-anchor="middle" textLength="4.2" lengthAdjust="spacingAndGlyphs" >8</text>
<line x1="265.10" y1="238.60" x2="265.10" y2="240.80" stroke="#111" stroke-width="0.9" />
<text x="265.10" y="249.60" font-size="8.0" fill="#222" stroke="#222" stroke-width="0.15" text-anchor="middle" textLength="8.0" lengthAdjust="spacingAndGlyphs" >10</text>
<polyline points="222.60,229.85 231.10,218.60 239.60,209.85 248.10,198.60 256.60,188.60 265.10,180.47" fill="none" stroke="#cc1a3a" stroke-width="1.5" stroke-dasharray="2.2,1.6"/>
<polyline points="222.60,229.85 231.10,221.10 239.60,214.22 248.10,207.35 256.60,200.47 265.10,194.22" fill="none" stroke="#1c4f8a" stroke-width="1.7"/>
<circle cx="231.10" cy="218.60" r="2.3" fill="#cc1a3a"/>
<circle cx="239.60" cy="209.85" r="2.3" fill="#cc1a3a"/>
<circle cx="248.10" cy="198.60" r="2.3" fill="#cc1a3a"/>
<circle cx="256.60" cy="188.60" r="2.3" fill="#cc1a3a"/>
<circle cx="265.10" cy="180.47" r="2.3" fill="#cc1a3a"/>
<circle cx="222.60" cy="229.85" r="2.3" fill="#1c4f8a"/>
<circle cx="231.10" cy="221.10" r="2.3" fill="#1c4f8a"/>
<circle cx="239.60" cy="214.22" r="2.3" fill="#1c4f8a"/>
<circle cx="248.10" cy="207.35" r="2.3" fill="#1c4f8a"/>
<circle cx="256.60" cy="200.47" r="2.3" fill="#1c4f8a"/>
<circle cx="265.10" cy="194.22" r="2.3" fill="#1c4f8a"/>
<line x1="268.30" y1="181.30" x2="268.30" y2="191.70" stroke="#333" stroke-width="1.0" />
<text transform="translate(275.55,191.20) rotate(-90)" font-size="7.6" fill="#111" stroke="#111" stroke-width="0.15" textLength="9.75" lengthAdjust="spacingAndGlyphs" >***</text>
<text x="307.50" y="168.80" font-size="10.0" fill="#222" stroke="#222" stroke-width="0.15" textLength="20.5" lengthAdjust="spacingAndGlyphs" >DKO</text>
<line x1="294.60" y1="172.20" x2="294.60" y2="238.60" stroke="#111" stroke-width="1.1" />
<line x1="294.10" y1="238.60" x2="339.10" y2="238.60" stroke="#111" stroke-width="1.1" />
<line x1="292.20" y1="238.60" x2="294.60" y2="238.60" stroke="#111" stroke-width="0.9" />
<text x="286.40" y="241.60" font-size="8.2" fill="#111" stroke="#111" stroke-width="0.15" text-anchor="end" textLength="8.2" lengthAdjust="spacingAndGlyphs" >10</text>
<text x="286.70" y="237.60" font-size="5.4" fill="#111" stroke="#111" stroke-width="0.15" >4</text>
<line x1="292.20" y1="226.10" x2="294.60" y2="226.10" stroke="#111" stroke-width="0.9" />
<text x="286.40" y="229.10" font-size="8.2" fill="#111" stroke="#111" stroke-width="0.15" text-anchor="end" textLength="8.2" lengthAdjust="spacingAndGlyphs" >10</text>
<text x="286.70" y="225.10" font-size="5.4" fill="#111" stroke="#111" stroke-width="0.15" >5</text>
<line x1="292.20" y1="213.60" x2="294.60" y2="213.60" stroke="#111" stroke-width="0.9" />
<text x="286.40" y="216.60" font-size="8.2" fill="#111" stroke="#111" stroke-width="0.15" text-anchor="end" textLength="8.2" lengthAdjust="spacingAndGlyphs" >10</text>
<text x="286.70" y="212.60" font-size="5.4" fill="#111" stroke="#111" stroke-width="0.15" >6</text>
<line x1="292.20" y1="201.10" x2="294.60" y2="201.10" stroke="#111" stroke-width="0.9" />
<text x="286.40" y="204.10" font-size="8.2" fill="#111" stroke="#111" stroke-width="0.15" text-anchor="end" textLength="8.2" lengthAdjust="spacingAndGlyphs" >10</text>
<text x="286.70" y="200.10" font-size="5.4" fill="#111" stroke="#111" stroke-width="0.15" >7</text>
<line x1="292.20" y1="188.60" x2="294.60" y2="188.60" stroke="#111" stroke-width="0.9" />
<text x="286.40" y="191.60" font-size="8.2" fill="#111" stroke="#111" stroke-width="0.15" text-anchor="end" textLength="8.2" lengthAdjust="spacingAndGlyphs" >10</text>
<text x="286.70" y="187.60" font-size="5.4" fill="#111" stroke="#111" stroke-width="0.15" >8</text>
<line x1="292.20" y1="176.10" x2="294.60" y2="176.10" stroke="#111" stroke-width="0.9" />
<text x="286.40" y="179.10" font-size="8.2" fill="#111" stroke="#111" stroke-width="0.15" text-anchor="end" textLength="8.2" lengthAdjust="spacingAndGlyphs" >10</text>
<text x="286.70" y="175.10" font-size="5.4" fill="#111" stroke="#111" stroke-width="0.15" >9</text>
<line x1="294.60" y1="238.60" x2="294.60" y2="240.80" stroke="#111" stroke-width="0.9" />
<text x="294.60" y="249.60" font-size="8.0" fill="#222" stroke="#222" stroke-width="0.15" text-anchor="middle" textLength="4.2" lengthAdjust="spacingAndGlyphs" >0</text>
<line x1="303.10" y1="238.60" x2="303.10" y2="240.80" stroke="#111" stroke-width="0.9" />
<text x="303.10" y="249.60" font-size="8.0" fill="#222" stroke="#222" stroke-width="0.15" text-anchor="middle" textLength="4.2" lengthAdjust="spacingAndGlyphs" >2</text>
<line x1="311.60" y1="238.60" x2="311.60" y2="240.80" stroke="#111" stroke-width="0.9" />
<text x="311.60" y="249.60" font-size="8.0" fill="#222" stroke="#222" stroke-width="0.15" text-anchor="middle" textLength="4.2" lengthAdjust="spacingAndGlyphs" >4</text>
<line x1="320.10" y1="238.60" x2="320.10" y2="240.80" stroke="#111" stroke-width="0.9" />
<text x="320.10" y="249.60" font-size="8.0" fill="#222" stroke="#222" stroke-width="0.15" text-anchor="middle" textLength="4.2" lengthAdjust="spacingAndGlyphs" >6</text>
<line x1="328.60" y1="238.60" x2="328.60" y2="240.80" stroke="#111" stroke-width="0.9" />
<text x="328.60" y="249.60" font-size="8.0" fill="#222" stroke="#222" stroke-width="0.15" text-anchor="middle" textLength="4.2" lengthAdjust="spacingAndGlyphs" >8</text>
<line x1="337.10" y1="238.60" x2="337.10" y2="240.80" stroke="#111" stroke-width="0.9" />
<text x="337.10" y="249.60" font-size="8.0" fill="#222" stroke="#222" stroke-width="0.15" text-anchor="middle" textLength="8.0" lengthAdjust="spacingAndGlyphs" >10</text>
<polyline points="294.60,229.85 303.10,218.60 311.60,207.35 320.10,197.35 328.60,187.35 337.10,177.35" fill="none" stroke="#cc1a3a" stroke-width="1.5" stroke-dasharray="2.2,1.6"/>
<polyline points="294.60,229.85 303.10,221.72 311.60,218.60 320.10,215.47 328.60,211.72 337.10,209.85" fill="none" stroke="#1c4f8a" stroke-width="1.7"/>
<circle cx="303.10" cy="218.60" r="2.3" fill="#cc1a3a"/>
<circle cx="311.60" cy="207.35" r="2.3" fill="#cc1a3a"/>
<circle cx="320.10" cy="197.35" r="2.3" fill="#cc1a3a"/>
<circle cx="328.60" cy="187.35" r="2.3" fill="#cc1a3a"/>
<circle cx="337.10" cy="177.35" r="2.3" fill="#cc1a3a"/>
<circle cx="294.60" cy="229.85" r="2.3" fill="#1c4f8a"/>
<circle cx="303.10" cy="221.72" r="2.3" fill="#1c4f8a"/>
<circle cx="311.60" cy="218.60" r="2.3" fill="#1c4f8a"/>
<circle cx="320.10" cy="215.47" r="2.3" fill="#1c4f8a"/>
<circle cx="328.60" cy="211.72" r="2.3" fill="#1c4f8a"/>
<circle cx="337.10" cy="209.85" r="2.3" fill="#1c4f8a"/>
<line x1="339.60" y1="179.20" x2="339.60" y2="207.60" stroke="#333" stroke-width="1.0" />
<text transform="translate(346.95,196.50) rotate(-90)" font-size="7.6" fill="#111" stroke="#111" stroke-width="0.15" textLength="9.75" lengthAdjust="spacingAndGlyphs" >***</text>
<text x="130.40" y="249.75" font-size="8.2" fill="#222" stroke="#222" stroke-width="0.15" textLength="14.6" lengthAdjust="spacingAndGlyphs" >Day</text>
<text transform="translate(132.82,224.60) rotate(-90)" font-size="8.4" fill="#222" stroke="#222" stroke-width="0.15" textLength="32.2" lengthAdjust="spacingAndGlyphs" >Cell count</text>
<rect x="191.80" y="259.30" width="4.50" height="4.20" fill="#cc1a3a" />
<text x="200.00" y="264.25" font-size="8.2" fill="#222" stroke="#222" stroke-width="0.15" textLength="17.5" lengthAdjust="spacingAndGlyphs" >–Dox</text>
<rect x="228.80" y="259.30" width="4.80" height="4.20" fill="#1c4f8a" />
<text x="238.80" y="264.25" font-size="8.2" fill="#222" stroke="#222" stroke-width="0.15" textLength="17.5" lengthAdjust="spacingAndGlyphs" >+Dox</text>
<line x1="152.60" y1="269.40" x2="152.60" y2="335.60" stroke="#111" stroke-width="1.1" />
<line x1="152.10" y1="335.60" x2="196.60" y2="335.60" stroke="#111" stroke-width="1.1" />
<line x1="150.20" y1="335.60" x2="152.60" y2="335.60" stroke="#111" stroke-width="0.9" />
<text x="148.40" y="338.60" font-size="8.0" fill="#222" stroke="#222" stroke-width="0.15" text-anchor="end" textLength="4.2" lengthAdjust="spacingAndGlyphs" >0</text>
<line x1="150.20" y1="323.10" x2="152.60" y2="323.10" stroke="#111" stroke-width="0.9" />
<text x="148.40" y="326.10" font-size="8.0" fill="#222" stroke="#222" stroke-width="0.15" text-anchor="end" textLength="8.4" lengthAdjust="spacingAndGlyphs" >20</text>
<line x1="150.20" y1="310.60" x2="152.60" y2="310.60" stroke="#111" stroke-width="0.9" />
<text x="148.40" y="313.60" font-size="8.0" fill="#222" stroke="#222" stroke-width="0.15" text-anchor="end" textLength="8.4" lengthAdjust="spacingAndGlyphs" >40</text>
<line x1="150.20" y1="298.10" x2="152.60" y2="298.10" stroke="#111" stroke-width="0.9" />
<text x="148.40" y="301.10" font-size="8.0" fill="#222" stroke="#222" stroke-width="0.15" text-anchor="end" textLength="8.4" lengthAdjust="spacingAndGlyphs" >60</text>
<line x1="150.20" y1="285.60" x2="152.60" y2="285.60" stroke="#111" stroke-width="0.9" />
<text x="148.40" y="288.60" font-size="8.0" fill="#222" stroke="#222" stroke-width="0.15" text-anchor="end" textLength="8.4" lengthAdjust="spacingAndGlyphs" >80</text>
<line x1="150.20" y1="273.10" x2="152.60" y2="273.10" stroke="#111" stroke-width="0.9" />
<text x="148.40" y="276.10" font-size="8.0" fill="#222" stroke="#222" stroke-width="0.15" text-anchor="end" textLength="12.5" lengthAdjust="spacingAndGlyphs" >100</text>
<line x1="156.60" y1="335.60" x2="156.60" y2="337.80" stroke="#111" stroke-width="0.9" />
<rect x="153.40" y="330.60" width="2.60" height="5.00" fill="#cc1a3a" />
<rect x="157.00" y="328.10" width="2.80" height="7.50" fill="#1c4f8a" />
<text x="156.60" y="348.40" font-size="8.0" fill="#222" stroke="#222" stroke-width="0.15" text-anchor="middle" textLength="4.2" lengthAdjust="spacingAndGlyphs" >2</text>
<line x1="164.90" y1="335.60" x2="164.90" y2="337.80" stroke="#111" stroke-width="0.9" />
<rect x="161.70" y="333.73" width="2.60" height="1.88" fill="#cc1a3a" />
<rect x="165.30" y="330.60" width="2.80" height="5.00" fill="#1c4f8a" />
<text x="164.90" y="348.40" font-size="8.0" fill="#222" stroke="#222" stroke-width="0.15" text-anchor="middle" textLength="4.2" lengthAdjust="spacingAndGlyphs" >4</text>
<line x1="173.20" y1="335.60" x2="173.20" y2="337.80" stroke="#111" stroke-width="0.9" />
<rect x="170.00" y="332.48" width="2.60" height="3.12" fill="#cc1a3a" />
<rect x="173.60" y="328.10" width="2.80" height="7.50" fill="#1c4f8a" />
<text x="173.20" y="348.40" font-size="8.0" fill="#222" stroke="#222" stroke-width="0.15" text-anchor="middle" textLength="4.2" lengthAdjust="spacingAndGlyphs" >6</text>
<text transform="translate(178.95,327.10) rotate(-90)" font-size="7.6" fill="#111" stroke="#111" stroke-width="0.15" textLength="6.0" lengthAdjust="spacingAndGlyphs" >**</text>
<line x1="181.50" y1="335.60" x2="181.50" y2="337.80" stroke="#111" stroke-width="0.9" />
<rect x="178.30" y="333.73" width="2.60" height="1.88" fill="#cc1a3a" />
<rect x="181.90" y="330.60" width="2.80" height="5.00" fill="#1c4f8a" />
<text x="181.50" y="348.40" font-size="8.0" fill="#222" stroke="#222" stroke-width="0.15" text-anchor="middle" textLength="4.2" lengthAdjust="spacingAndGlyphs" >8</text>
<text transform="translate(187.25,329.60) rotate(-90)" font-size="7.6" fill="#111" stroke="#111" stroke-width="0.15" textLength="3.0" lengthAdjust="spacingAndGlyphs" >*</text>
<line x1="189.80" y1="335.60" x2="189.80" y2="337.80" stroke="#111" stroke-width="0.9" />
<rect x="186.60" y="334.35" width="2.60" height="1.25" fill="#cc1a3a" />
<rect x="190.20" y="331.23" width="2.80" height="4.38" fill="#1c4f8a" />
<text x="189.80" y="348.40" font-size="8.0" fill="#222" stroke="#222" stroke-width="0.15" text-anchor="middle" textLength="8.0" lengthAdjust="spacingAndGlyphs" >10</text>
<line x1="223.00" y1="269.40" x2="223.00" y2="335.60" stroke="#111" stroke-width="1.1" />
<line x1="222.50" y1="335.60" x2="267.00" y2="335.60" stroke="#111" stroke-width="1.1" />
<line x1="220.60" y1="335.60" x2="223.00" y2="335.60" stroke="#111" stroke-width="0.9" />
<text x="218.80" y="338.60" font-size="8.0" fill="#222" stroke="#222" stroke-width="0.15" text-anchor="end" textLength="4.2" lengthAdjust="spacingAndGlyphs" >0</text>
<line x1="220.60" y1="323.10" x2="223.00" y2="323.10" stroke="#111" stroke-width="0.9" />
<text x="218.80" y="326.10" font-size="8.0" fill="#222" stroke="#222" stroke-width="0.15" text-anchor="end" textLength="8.4" lengthAdjust="spacingAndGlyphs" >20</text>
<line x1="220.60" y1="310.60" x2="223.00" y2="310.60" stroke="#111" stroke-width="0.9" />
<text x="218.80" y="313.60" font-size="8.0" fill="#222" stroke="#222" stroke-width="0.15" text-anchor="end" textLength="8.4" lengthAdjust="spacingAndGlyphs" >40</text>
<line x1="220.60" y1="298.10" x2="223.00" y2="298.10" stroke="#111" stroke-width="0.9" />
<text x="218.80" y="301.10" font-size="8.0" fill="#222" stroke="#222" stroke-width="0.15" text-anchor="end" textLength="8.4" lengthAdjust="spacingAndGlyphs" >60</text>
<line x1="220.60" y1="285.60" x2="223.00" y2="285.60" stroke="#111" stroke-width="0.9" />
<text x="218.80" y="288.60" font-size="8.0" fill="#222" stroke="#222" stroke-width="0.15" text-anchor="end" textLength="8.4" lengthAdjust="spacingAndGlyphs" >80</text>
<line x1="220.60" y1="273.10" x2="223.00" y2="273.10" stroke="#111" stroke-width="0.9" />
<text x="218.80" y="276.10" font-size="8.0" fill="#222" stroke="#222" stroke-width="0.15" text-anchor="end" textLength="12.5" lengthAdjust="spacingAndGlyphs" >100</text>
<line x1="227.00" y1="335.60" x2="227.00" y2="337.80" stroke="#111" stroke-width="0.9" />
<rect x="223.80" y="332.48" width="2.60" height="3.12" fill="#cc1a3a" />
<rect x="227.40" y="330.60" width="2.80" height="5.00" fill="#1c4f8a" />
<text x="227.00" y="348.40" font-size="8.0" fill="#222" stroke="#222" stroke-width="0.15" text-anchor="middle" textLength="4.2" lengthAdjust="spacingAndGlyphs" >2</text>
<line x1="235.30" y1="335.60" x2="235.30" y2="337.80" stroke="#111" stroke-width="0.9" />
<rect x="232.10" y="332.48" width="2.60" height="3.12" fill="#cc1a3a" />
<rect x="235.70" y="328.10" width="2.80" height="7.50" fill="#1c4f8a" />
<text x="235.30" y="348.40" font-size="8.0" fill="#222" stroke="#222" stroke-width="0.15" text-anchor="middle" textLength="4.2" lengthAdjust="spacingAndGlyphs" >4</text>
<text transform="translate(241.05,327.10) rotate(-90)" font-size="7.6" fill="#111" stroke="#111" stroke-width="0.15" textLength="9.0" lengthAdjust="spacingAndGlyphs" >***</text>
<line x1="243.60" y1="335.60" x2="243.60" y2="337.80" stroke="#111" stroke-width="0.9" />
<rect x="240.40" y="333.73" width="2.60" height="1.88" fill="#cc1a3a" />
<rect x="244.00" y="327.48" width="2.80" height="8.12" fill="#1c4f8a" />
<text x="243.60" y="348.40" font-size="8.0" fill="#222" stroke="#222" stroke-width="0.15" text-anchor="middle" textLength="4.2" lengthAdjust="spacingAndGlyphs" >6</text>
<text transform="translate(249.35,326.48) rotate(-90)" font-size="7.6" fill="#111" stroke="#111" stroke-width="0.15" textLength="12.0" lengthAdjust="spacingAndGlyphs" >****</text>
<line x1="251.90" y1="335.60" x2="251.90" y2="337.80" stroke="#111" stroke-width="0.9" />
<rect x="248.70" y="334.35" width="2.60" height="1.25" fill="#cc1a3a" />
<rect x="252.30" y="328.73" width="2.80" height="6.88" fill="#1c4f8a" />
<text x="251.90" y="348.40" font-size="8.0" fill="#222" stroke="#222" stroke-width="0.15" text-anchor="middle" textLength="4.2" lengthAdjust="spacingAndGlyphs" >8</text>
<text transform="translate(257.65,327.73) rotate(-90)" font-size="7.6" fill="#111" stroke="#111" stroke-width="0.15" textLength="12.0" lengthAdjust="spacingAndGlyphs" >****</text>
<line x1="260.20" y1="335.60" x2="260.20" y2="337.80" stroke="#111" stroke-width="0.9" />
<rect x="257.00" y="333.10" width="2.60" height="2.50" fill="#cc1a3a" />
<rect x="260.60" y="326.23" width="2.80" height="9.38" fill="#1c4f8a" />
<text x="260.20" y="348.40" font-size="8.0" fill="#222" stroke="#222" stroke-width="0.15" text-anchor="middle" textLength="8.0" lengthAdjust="spacingAndGlyphs" >10</text>
<text transform="translate(265.95,325.23) rotate(-90)" font-size="7.6" fill="#111" stroke="#111" stroke-width="0.15" textLength="12.0" lengthAdjust="spacingAndGlyphs" >****</text>
<line x1="294.60" y1="269.40" x2="294.60" y2="335.60" stroke="#111" stroke-width="1.1" />
<line x1="294.10" y1="335.60" x2="338.60" y2="335.60" stroke="#111" stroke-width="1.1" />
<line x1="292.20" y1="335.60" x2="294.60" y2="335.60" stroke="#111" stroke-width="0.9" />
<text x="290.40" y="338.60" font-size="8.0" fill="#222" stroke="#222" stroke-width="0.15" text-anchor="end" textLength="4.2" lengthAdjust="spacingAndGlyphs" >0</text>
<line x1="292.20" y1="323.10" x2="294.60" y2="323.10" stroke="#111" stroke-width="0.9" />
<text x="290.40" y="326.10" font-size="8.0" fill="#222" stroke="#222" stroke-width="0.15" text-anchor="end" textLength="8.4" lengthAdjust="spacingAndGlyphs" >20</text>
<line x1="292.20" y1="310.60" x2="294.60" y2="310.60" stroke="#111" stroke-width="0.9" />
<text x="290.40" y="313.60" font-size="8.0" fill="#222" stroke="#222" stroke-width="0.15" text-anchor="end" textLength="8.4" lengthAdjust="spacingAndGlyphs" >40</text>
<line x1="292.20" y1="298.10" x2="294.60" y2="298.10" stroke="#111" stroke-width="0.9" />
<text x="290.40" y="301.10" font-size="8.0" fill="#222" stroke="#222" stroke-width="0.15" text-anchor="end" textLength="8.4" lengthAdjust="spacingAndGlyphs" >60</text>
<line x1="292.20" y1="285.60" x2="294.60" y2="285.60" stroke="#111" stroke-width="0.9" />
<text x="290.40" y="288.60" font-size="8.0" fill="#222" stroke="#222" stroke-width="0.15" text-anchor="end" textLength="8.4" lengthAdjust="spacingAndGlyphs" >80</text>
<line x1="292.20" y1="273.10" x2="294.60" y2="273.10" stroke="#111" stroke-width="0.9" />
<text x="290.40" y="276.10" font-size="8.0" fill="#222" stroke="#222" stroke-width="0.15" text-anchor="end" textLength="12.5" lengthAdjust="spacingAndGlyphs" >100</text>
<line x1="298.60" y1="335.60" x2="298.60" y2="337.80" stroke="#111" stroke-width="0.9" />
<rect x="295.40" y="333.73" width="2.60" height="1.88" fill="#cc1a3a" />
<rect x="299.00" y="326.85" width="2.80" height="8.75" fill="#1c4f8a" />
<text x="298.60" y="348.40" font-size="8.0" fill="#222" stroke="#222" stroke-width="0.15" text-anchor="middle" textLength="4.2" lengthAdjust="spacingAndGlyphs" >2</text>
<text transform="translate(304.35,325.85) rotate(-90)" font-size="7.6" fill="#111" stroke="#111" stroke-width="0.15" textLength="12.0" lengthAdjust="spacingAndGlyphs" >****</text>
<line x1="306.90" y1="335.60" x2="306.90" y2="337.80" stroke="#111" stroke-width="0.9" />
<rect x="303.70" y="334.35" width="2.60" height="1.25" fill="#cc1a3a" />
<rect x="307.30" y="319.98" width="2.80" height="15.62" fill="#1c4f8a" />
<text x="306.90" y="348.40" font-size="8.0" fill="#222" stroke="#222" stroke-width="0.15" text-anchor="middle" textLength="4.2" lengthAdjust="spacingAndGlyphs" >4</text>
<text transform="translate(312.65,318.98) rotate(-90)" font-size="7.6" fill="#111" stroke="#111" stroke-width="0.15" textLength="12.0" lengthAdjust="spacingAndGlyphs" >****</text>
<line x1="315.20" y1="335.60" x2="315.20" y2="337.80" stroke="#111" stroke-width="0.9" />
<rect x="312.00" y="333.73" width="2.60" height="1.88" fill="#cc1a3a" />
<rect x="315.60" y="314.98" width="2.80" height="20.62" fill="#1c4f8a" />
<text x="315.20" y="348.40" font-size="8.0" fill="#222" stroke="#222" stroke-width="0.15" text-anchor="middle" textLength="4.2" lengthAdjust="spacingAndGlyphs" >6</text>
<text transform="translate(320.95,313.98) rotate(-90)" font-size="7.6" fill="#111" stroke="#111" stroke-width="0.15" textLength="12.0" lengthAdjust="spacingAndGlyphs" >****</text>
<line x1="323.50" y1="335.60" x2="323.50" y2="337.80" stroke="#111" stroke-width="0.9" />
<rect x="320.30" y="333.10" width="2.60" height="2.50" fill="#cc1a3a" />
<rect x="323.90" y="314.98" width="2.80" height="20.62" fill="#1c4f8a" />
<text x="323.50" y="348.40" font-size="8.0" fill="#222" stroke="#222" stroke-width="0.15" text-anchor="middle" textLength="4.2" lengthAdjust="spacingAndGlyphs" >8</text>
<text transform="translate(329.25,313.98) rotate(-90)" font-size="7.6" fill="#111" stroke="#111" stroke-width="0.15" textLength="12.0" lengthAdjust="spacingAndGlyphs" >****</text>
<line x1="331.80" y1="335.60" x2="331.80" y2="337.80" stroke="#111" stroke-width="0.9" />
<rect x="328.60" y="331.23" width="2.60" height="4.38" fill="#cc1a3a" />
<rect x="332.20" y="309.35" width="2.80" height="26.25" fill="#1c4f8a" />
<text x="331.80" y="348.40" font-size="8.0" fill="#222" stroke="#222" stroke-width="0.15" text-anchor="middle" textLength="8.0" lengthAdjust="spacingAndGlyphs" >10</text>
<text transform="translate(337.55,308.35) rotate(-90)" font-size="7.6" fill="#111" stroke="#111" stroke-width="0.15" textLength="12.0" lengthAdjust="spacingAndGlyphs" >****</text>
<text x="131.20" y="348.55" font-size="8.2" fill="#222" stroke="#222" stroke-width="0.15" textLength="13.2" lengthAdjust="spacingAndGlyphs" >Day</text>
<text transform="translate(133.82,322.60) rotate(-90)" font-size="8.4" fill="#222" stroke="#222" stroke-width="0.15" textLength="40.2" lengthAdjust="spacingAndGlyphs" >%PI positive</text>
<text x="73.80" y="249.20" font-size="10.0" fill="#222" stroke="#222" stroke-width="0.15" textLength="24.2" lengthAdjust="spacingAndGlyphs" >Day 4</text>
<line x1="60.00" y1="242.60" x2="60.00" y2="323.00" stroke="#111" stroke-width="1.1" />
<line x1="59.50" y1="323.00" x2="110.20" y2="323.00" stroke="#111" stroke-width="1.1" />
<line x1="57.60" y1="323.00" x2="60.00" y2="323.00" stroke="#111" stroke-width="0.9" />
<text x="57.20" y="326.00" font-size="8.0" fill="#222" stroke="#222" stroke-width="0.15" text-anchor="end" textLength="11.2" lengthAdjust="spacingAndGlyphs" >0.0</text>
<line x1="57.60" y1="307.64" x2="60.00" y2="307.64" stroke="#111" stroke-width="0.9" />
<text x="57.20" y="310.64" font-size="8.0" fill="#222" stroke="#222" stroke-width="0.15" text-anchor="end" textLength="11.2" lengthAdjust="spacingAndGlyphs" >0.2</text>
<line x1="57.60" y1="292.28" x2="60.00" y2="292.28" stroke="#111" stroke-width="0.9" />
<text x="57.20" y="295.28" font-size="8.0" fill="#222" stroke="#222" stroke-width="0.15" text-anchor="end" textLength="11.2" lengthAdjust="spacingAndGlyphs" >0.4</text>
<line x1="57.60" y1="276.92" x2="60.00" y2="276.92" stroke="#111" stroke-width="0.9" />
<text x="57.20" y="279.92" font-size="8.0" fill="#222" stroke="#222" stroke-width="0.15" text-anchor="end" textLength="11.2" lengthAdjust="spacingAndGlyphs" >0.6</text>
<line x1="57.60" y1="261.56" x2="60.00" y2="261.56" stroke="#111" stroke-width="0.9" />
<text x="57.20" y="264.56" font-size="8.0" fill="#222" stroke="#222" stroke-width="0.15" text-anchor="end" textLength="11.2" lengthAdjust="spacingAndGlyphs" >0.8</text>
<line x1="57.60" y1="246.20" x2="60.00" y2="246.20" stroke="#111" stroke-width="0.9" />
<text x="57.20" y="249.20" font-size="8.0" fill="#222" stroke="#222" stroke-width="0.15" text-anchor="end" textLength="11.2" lengthAdjust="spacingAndGlyphs" >1.0</text>
<rect x="65.60" y="270.78" width="9.60" height="52.22" fill="#cc1a3a" />
<line x1="70.40" y1="270.78" x2="70.40" y2="267.10" stroke="#222" stroke-width="0.9" />
<line x1="68.50" y1="267.10" x2="72.70" y2="267.10" stroke="#222" stroke-width="0.9" />
<rect x="81.20" y="288.44" width="9.40" height="34.56" fill="#1c4f8a" />
<line x1="85.90" y1="288.44" x2="85.90" y2="285.40" stroke="#222" stroke-width="0.9" />
<line x1="83.80" y1="285.40" x2="88.00" y2="285.40" stroke="#222" stroke-width="0.9" />
<rect x="96.20" y="313.02" width="10.00" height="9.98" fill="#3cb54a" />
<line x1="101.20" y1="313.02" x2="101.20" y2="312.40" stroke="#222" stroke-width="0.9" />
<line x1="99.40" y1="312.40" x2="103.00" y2="312.40" stroke="#222" stroke-width="0.9" />
<line x1="70.40" y1="323.00" x2="70.40" y2="325.40" stroke="#111" stroke-width="0.9" />
<line x1="85.90" y1="323.00" x2="85.90" y2="325.40" stroke="#111" stroke-width="0.9" />
<line x1="101.20" y1="323.00" x2="101.20" y2="325.40" stroke="#111" stroke-width="0.9" />
<line x1="70.40" y1="264.90" x2="85.80" y2="264.90" stroke="#444" stroke-width="1.3" />
<text x="77.90" y="264.77" font-size="7.6" fill="#111" stroke="#111" stroke-width="0.15" text-anchor="middle" textLength="10.5" lengthAdjust="spacingAndGlyphs" >***</text>
<line x1="86.70" y1="281.70" x2="102.30" y2="281.70" stroke="#444" stroke-width="1.3" />
<text x="94.50" y="281.97" font-size="7.6" fill="#111" stroke="#111" stroke-width="0.15" text-anchor="middle" textLength="10.5" lengthAdjust="spacingAndGlyphs" >***</text>
<text transform="translate(28.22,295.60) rotate(-90)" font-size="8.4" fill="#222" stroke="#222" stroke-width="0.15" textLength="31.8" lengthAdjust="spacingAndGlyphs" >Cell count</text>
<text transform="translate(40.62,311.40) rotate(-90)" font-size="8.4" fill="#222" stroke="#222" stroke-width="0.15" textLength="62.6" lengthAdjust="spacingAndGlyphs" >(relative to no dox)</text>
<text transform="translate(73.80,331.00) rotate(-45)" font-size="8.2" fill="#222" stroke="#222" stroke-width="0.15" text-anchor="end" textLength="39" lengthAdjust="spacingAndGlyphs" >ZFP91-KO</text>
<text transform="translate(89.30,331.00) rotate(-45)" font-size="8.2" fill="#222" stroke="#222" stroke-width="0.15" text-anchor="end" textLength="37" lengthAdjust="spacingAndGlyphs" >IKZF1-KO</text>
<text transform="translate(104.60,331.00) rotate(-45)" font-size="8.2" fill="#222" stroke="#222" stroke-width="0.15" text-anchor="end" textLength="16" lengthAdjust="spacingAndGlyphs" >DKO</text>
<text x="401.60" y="149.48" font-size="8.0" fill="#222" stroke="#222" stroke-width="0.15" textLength="35.4" lengthAdjust="spacingAndGlyphs" >r = 0.8166</text>
<text x="401.60" y="158.90" font-size="8.0" fill="#222" stroke="#222" stroke-width="0.15" textLength="35.6" lengthAdjust="spacingAndGlyphs" ><tspan font-style="italic">p</tspan> = 0.0022</text>
<line x1="392.00" y1="156.00" x2="392.00" y2="248.00" stroke="#111" stroke-width="1.1" />
<line x1="391.50" y1="248.00" x2="502.20" y2="248.00" stroke="#111" stroke-width="1.1" />
<line x1="389.60" y1="248.00" x2="392.00" y2="248.00" stroke="#111" stroke-width="0.9" />
<text x="388.10" y="250.85" font-size="7.9" fill="#222" stroke="#222" stroke-width="0.15" text-anchor="end" >0</text>
<line x1="389.60" y1="230.40" x2="392.00" y2="230.40" stroke="#111" stroke-width="0.9" />
<text x="388.10" y="233.25" font-size="7.9" fill="#222" stroke="#222" stroke-width="0.15" text-anchor="end" >20</text>
<line x1="389.60" y1="212.80" x2="392.00" y2="212.80" stroke="#111" stroke-width="0.9" />
<text x="388.10" y="215.65" font-size="7.9" fill="#222" stroke="#222" stroke-width="0.15" text-anchor="end" >40</text>
<line x1="389.60" y1="195.20" x2="392.00" y2="195.20" stroke="#111" stroke-width="0.9" />
<text x="388.10" y="198.05" font-size="7.9" fill="#222" stroke="#222" stroke-width="0.15" text-anchor="end" >60</text>
<line x1="389.60" y1="177.60" x2="392.00" y2="177.60" stroke="#111" stroke-width="0.9" />
<text x="388.10" y="180.45" font-size="7.9" fill="#222" stroke="#222" stroke-width="0.15" text-anchor="end" >80</text>
<line x1="389.60" y1="160.00" x2="392.00" y2="160.00" stroke="#111" stroke-width="0.9" />
<text x="388.10" y="162.85" font-size="7.9" fill="#222" stroke="#222" stroke-width="0.15" text-anchor="end" >100</text>
<line x1="392.00" y1="248.00" x2="392.00" y2="250.40" stroke="#111" stroke-width="0.9" />
<text x="392.00" y="259.80" font-size="7.9" fill="#222" stroke="#222" stroke-width="0.15" text-anchor="middle" >0</text>
<line x1="418.80" y1="248.00" x2="418.80" y2="250.40" stroke="#111" stroke-width="0.9" />
<text x="418.80" y="259.80" font-size="7.9" fill="#222" stroke="#222" stroke-width="0.15" text-anchor="middle" >10</text>
<line x1="445.60" y1="248.00" x2="445.60" y2="250.40" stroke="#111" stroke-width="0.9" />
<text x="445.60" y="259.80" font-size="7.9" fill="#222" stroke="#222" stroke-width="0.15" text-anchor="middle" >20</text>
<line x1="472.40" y1="248.00" x2="472.40" y2="250.40" stroke="#111" stroke-width="0.9" />
<text x="472.40" y="259.80" font-size="7.9" fill="#222" stroke="#222" stroke-width="0.15" text-anchor="middle" >30</text>
<line x1="499.20" y1="248.00" x2="499.20" y2="250.40" stroke="#111" stroke-width="0.9" />
<text x="499.20" y="259.80" font-size="7.9" fill="#222" stroke="#222" stroke-width="0.15" text-anchor="middle" >40</text>
<text x="405.80" y="272.00" font-size="8.4" fill="#222" stroke="#222" stroke-width="0.15" textLength="83.0" lengthAdjust="spacingAndGlyphs" ><tspan font-style="italic">CRBN</tspan> RNA levels (RPKM)</text>
<text transform="translate(370.02,246.00) rotate(-90)" font-size="8.4" fill="#222" stroke="#222" stroke-width="0.15" textLength="85.0" lengthAdjust="spacingAndGlyphs" >% Degradation of IKZF1</text>
<line x1="419.00" y1="222.80" x2="480.20" y2="160.60" stroke="#cc1a3a" stroke-width="1.4" />
<circle cx="480.20" cy="160.50" r="2.75" fill="#1c4f8a"/>
<text x="485.40" y="163.75" font-size="8.2" fill="#3a6ea8" stroke="#3a6ea8" stroke-width="0.15" textLength="27.6" lengthAdjust="spacingAndGlyphs" >SUDHL1</text>
<circle cx="463.60" cy="172.20" r="2.75" fill="#a6c68a"/>
<text x="471.50" y="178.15" font-size="8.2" fill="#a6c68a" stroke="#a6c68a" stroke-width="0.15" textLength="26.0" lengthAdjust="spacingAndGlyphs" >MAC2A</text>
<circle cx="446.60" cy="180.20" r="2.75" fill="#f7941d"/>
<text x="413.40" y="180.75" font-size="8.2" fill="#f7941d" stroke="#f7941d" stroke-width="0.15" textLength="29.7" lengthAdjust="spacingAndGlyphs" >OCILy12</text>
<circle cx="456.00" cy="187.10" r="2.75" fill="#a6c68a"/>
<text x="462.90" y="192.55" font-size="8.2" fill="#a6c68a" stroke="#a6c68a" stroke-width="0.15" textLength="40.5" lengthAdjust="spacingAndGlyphs" >OCILy13.2</text>
<circle cx="422.00" cy="195.00" r="2.75" fill="#1c4f8a"/>
<text x="401.60" y="197.35" font-size="8.2" fill="#3a6ea8" stroke="#3a6ea8" stroke-width="0.15" textLength="15.2" lengthAdjust="spacingAndGlyphs" >KIJK</text>
<circle cx="432.80" cy="199.20" r="2.75" fill="#1c4f8a"/>
<text x="437.60" y="202.15" font-size="8.2" fill="#3a6ea8" stroke="#3a6ea8" stroke-width="0.15" textLength="25.3" lengthAdjust="spacingAndGlyphs" >SUPM2</text>
<circle cx="455.00" cy="206.80" r="2.75" fill="#6b2d8f"/>
<text x="460.10" y="211.85" font-size="8.2" fill="#6b2d8f" stroke="#6b2d8f" stroke-width="0.15" textLength="16.6" lengthAdjust="spacingAndGlyphs" >MTA</text>
<circle cx="418.60" cy="213.80" r="2.75" fill="#f7941d"/>
<text x="396.00" y="213.25" font-size="8.2" fill="#f7941d" stroke="#f7941d" stroke-width="0.15" textLength="18.4" lengthAdjust="spacingAndGlyphs" >SMZ1</text>
<circle cx="430.70" cy="225.50" r="2.75" fill="#1c4f8a"/>
<text x="436.20" y="227.15" font-size="8.2" fill="#3a6ea8" stroke="#3a6ea8" stroke-width="0.15" textLength="34.6" lengthAdjust="spacingAndGlyphs" >Karpas299</text>
<circle cx="425.20" cy="231.40" r="2.75" fill="#1c4f8a"/>
<text x="431.00" y="236.75" font-size="8.2" fill="#3a6ea8" stroke="#3a6ea8" stroke-width="0.15" textLength="20.5" lengthAdjust="spacingAndGlyphs" >SR786</text>
<circle cx="419.00" cy="238.30" r="2.75" fill="#ec1c8c"/>
<text x="424.80" y="245.05" font-size="8.2" fill="#ec1c8c" stroke="#ec1c8c" stroke-width="0.15" textLength="19.7" lengthAdjust="spacingAndGlyphs" >MYLA</text>
<text x="353.40" y="295.95" font-size="8.2" fill="#222" stroke="#222" stroke-width="0.15" textLength="13.0" lengthAdjust="spacingAndGlyphs" >24h</text>
<text x="353.40" y="305.85" font-size="8.2" fill="#222" stroke="#222" stroke-width="0.15" textLength="36.4" lengthAdjust="spacingAndGlyphs" >Len (1uM)</text>
<text x="391.80" y="293.26" font-size="9.6" fill="#3a6ea8" stroke="#3a6ea8" stroke-width="0.15" textLength="31.8" lengthAdjust="spacingAndGlyphs" >SUDHL1</text>
<text x="428.50" y="293.26" font-size="9.6" fill="#a6c68a" stroke="#a6c68a" stroke-width="0.15" textLength="30.0" lengthAdjust="spacingAndGlyphs" >MAC2A</text>
<text x="461.80" y="293.26" font-size="9.6" fill="#f7941d" stroke="#f7941d" stroke-width="0.15" textLength="22.9" lengthAdjust="spacingAndGlyphs" >SMZ1</text>
<text x="488.00" y="293.26" font-size="9.6" fill="#3a6ea8" stroke="#3a6ea8" stroke-width="0.15" textLength="25.5" lengthAdjust="spacingAndGlyphs" >SR786</text>
<text x="353.40" y="322.15" font-size="8.2" fill="#222" stroke="#222" stroke-width="0.15" textLength="33.4" lengthAdjust="spacingAndGlyphs" >IB: IKZF1</text>
<text x="353.40" y="336.95" font-size="8.2" fill="#222" stroke="#222" stroke-width="0.15" textLength="39.2" lengthAdjust="spacingAndGlyphs" >IB: GAPDH</text>
<line x1="401.20" y1="303.20" x2="404.80" y2="303.20" stroke="#222" stroke-width="0.8" />
<line x1="415.30" y1="303.00" x2="419.30" y2="303.00" stroke="#222" stroke-width="0.8" />
<line x1="417.30" y1="301.00" x2="417.30" y2="305.00" stroke="#222" stroke-width="0.8" />
<line x1="431.60" y1="303.20" x2="435.20" y2="303.20" stroke="#222" stroke-width="0.8" />
<line x1="445.00" y1="303.00" x2="449.00" y2="303.00" stroke="#222" stroke-width="0.8" />
<line x1="447.00" y1="301.00" x2="447.00" y2="305.00" stroke="#222" stroke-width="0.8" />
<line x1="461.60" y1="303.20" x2="465.20" y2="303.20" stroke="#222" stroke-width="0.8" />
<line x1="475.30" y1="303.00" x2="479.30" y2="303.00" stroke="#222" stroke-width="0.8" />
<line x1="477.30" y1="301.00" x2="477.30" y2="305.00" stroke="#222" stroke-width="0.8" />
<line x1="492.20" y1="303.20" x2="495.80" y2="303.20" stroke="#222" stroke-width="0.8" />
<line x1="505.40" y1="303.00" x2="509.40" y2="303.00" stroke="#222" stroke-width="0.8" />
<line x1="507.40" y1="301.00" x2="507.40" y2="305.00" stroke="#222" stroke-width="0.8" />
<rect x="396.85" y="310.05" width="26.30" height="15.60" fill="#dfe0e4" stroke="#2a2a2a" stroke-width="1.3" rx="0.8" />
<rect x="396.85" y="329.35" width="26.30" height="11.30" fill="#dfe0e4" stroke="#2a2a2a" stroke-width="1.3" rx="0.8" />
<rect x="426.85" y="310.05" width="26.30" height="15.60" fill="#dfe0e4" stroke="#2a2a2a" stroke-width="1.3" rx="0.8" />
<rect x="426.85" y="329.35" width="26.30" height="11.30" fill="#dfe0e4" stroke="#2a2a2a" stroke-width="1.3" rx="0.8" />
<rect x="457.65" y="310.05" width="25.50" height="15.60" fill="#dfe0e4" stroke="#2a2a2a" stroke-width="1.3" rx="0.8" />
<rect x="457.65" y="329.35" width="25.50" height="11.30" fill="#dfe0e4" stroke="#2a2a2a" stroke-width="1.3" rx="0.8" />
<rect x="487.65" y="310.05" width="26.20" height="15.60" fill="#dfe0e4" stroke="#2a2a2a" stroke-width="1.3" rx="0.8" />
<rect x="487.65" y="329.35" width="26.20" height="11.30" fill="#dfe0e4" stroke="#2a2a2a" stroke-width="1.3" rx="0.8" />
<rect x="398.00" y="311.30" width="10.00" height="3.80" rx="2.60" ry="1.90" fill="#0d0d0d" fill-opacity="1" filter="url(#bl)"/>
<rect x="398.25" y="318.80" width="9.50" height="2.80" rx="2.60" ry="1.40" fill="#0d0d0d" fill-opacity="0.85" filter="url(#bl)"/>
<rect x="413.05" y="312.70" width="8.50" height="1.40" rx="2.60" ry="0.70" fill="#0d0d0d" fill-opacity="0.06" filter="url(#bl)"/>
<rect x="413.30" y="319.70" width="8.00" height="1.40" rx="2.60" ry="0.70" fill="#0d0d0d" fill-opacity="0.06" filter="url(#bl)"/>
<rect x="397.75" y="332.40" width="10.50" height="3.80" rx="2.60" ry="1.90" fill="#0d0d0d" fill-opacity="1" filter="url(#bl)"/>
<rect x="412.05" y="332.40" width="10.50" height="3.80" rx="2.60" ry="1.90" fill="#0d0d0d" fill-opacity="1" filter="url(#bl)"/>
<rect x="428.40" y="311.60" width="10.00" height="3.20" rx="2.60" ry="1.60" fill="#0d0d0d" fill-opacity="1" filter="url(#bl)"/>
<rect x="428.40" y="318.60" width="10.00" height="3.20" rx="2.60" ry="1.60" fill="#0d0d0d" fill-opacity="1" filter="url(#bl)"/>
<rect x="442.25" y="311.90" width="9.50" height="2.60" rx="2.60" ry="1.30" fill="#0d0d0d" fill-opacity="0.45" filter="url(#bl)"/>
<rect x="442.25" y="318.70" width="9.50" height="3.00" rx="2.60" ry="1.50" fill="#0d0d0d" fill-opacity="0.75" filter="url(#bl)"/>
<rect x="428.15" y="332.40" width="10.50" height="3.80" rx="2.60" ry="1.90" fill="#0d0d0d" fill-opacity="1" filter="url(#bl)"/>
<rect x="441.75" y="332.40" width="10.50" height="3.80" rx="2.60" ry="1.90" fill="#0d0d0d" fill-opacity="1" filter="url(#bl)"/>
<rect x="457.90" y="309.15" width="11.00" height="6.50" rx="3.65" ry="3.25" fill="#0d0d0d" fill-opacity="1" filter="url(#bl)"/>
<rect x="457.90" y="317.25" width="11.00" height="5.50" rx="3.15" ry="2.75" fill="#0d0d0d" fill-opacity="1" filter="url(#bl)"/>
<rect x="472.05" y="310.30" width="10.50" height="5.00" rx="2.90" ry="2.50" fill="#0d0d0d" fill-opacity="1" filter="url(#bl)"/>
<rect x="472.05" y="317.50" width="10.50" height="5.00" rx="2.90" ry="2.50" fill="#0d0d0d" fill-opacity="1" filter="url(#bl)"/>
<rect x="458.15" y="332.40" width="10.50" height="3.80" rx="2.60" ry="1.90" fill="#0d0d0d" fill-opacity="1" filter="url(#bl)"/>
<rect x="472.05" y="332.40" width="10.50" height="3.80" rx="2.60" ry="1.90" fill="#0d0d0d" fill-opacity="1" filter="url(#bl)"/>
<rect x="489.00" y="311.30" width="10.00" height="3.80" rx="2.60" ry="1.90" fill="#0d0d0d" fill-opacity="1" filter="url(#bl)"/>
<rect x="489.25" y="319.40" width="9.50" height="2.00" rx="2.60" ry="1.00" fill="#0d0d0d" fill-opacity="0.28" filter="url(#bl)"/>
<rect x="502.40" y="311.30" width="10.00" height="3.80" rx="2.60" ry="1.90" fill="#0d0d0d" fill-opacity="1" filter="url(#bl)"/>
<rect x="502.65" y="319.40" width="9.50" height="2.00" rx="2.60" ry="1.00" fill="#0d0d0d" fill-opacity="0.25" filter="url(#bl)"/>
<rect x="488.75" y="332.40" width="10.50" height="3.80" rx="2.60" ry="1.90" fill="#0d0d0d" fill-opacity="1" filter="url(#bl)"/>
<rect x="502.15" y="332.40" width="10.50" height="3.80" rx="2.60" ry="1.90" fill="#0d0d0d" fill-opacity="1" filter="url(#bl)"/>
<line x1="56.60" y1="379.00" x2="56.60" y2="467.60" stroke="#111" stroke-width="1.1" />
<line x1="56.10" y1="467.60" x2="511.00" y2="467.60" stroke="#111" stroke-width="1.1" />
<line x1="54.00" y1="381.60" x2="56.60" y2="381.60" stroke="#111" stroke-width="0.9" />
<text x="50.60" y="380.00" font-size="5.6" fill="#222" stroke="#222" stroke-width="0.15" text-anchor="end" >0</text>
<text x="47.00" y="384.60" font-size="8.2" fill="#222" stroke="#222" stroke-width="0.15" text-anchor="end" textLength="6.2" lengthAdjust="spacingAndGlyphs" >10</text>
<line x1="54.00" y1="403.30" x2="56.60" y2="403.30" stroke="#111" stroke-width="0.9" />
<text x="50.60" y="401.70" font-size="5.6" fill="#222" stroke="#222" stroke-width="0.15" text-anchor="end" >−1</text>
<text x="44.20" y="406.30" font-size="8.2" fill="#222" stroke="#222" stroke-width="0.15" text-anchor="end" textLength="6.2" lengthAdjust="spacingAndGlyphs" >10</text>
<line x1="54.00" y1="425.20" x2="56.60" y2="425.20" stroke="#111" stroke-width="0.9" />
<text x="50.60" y="423.60" font-size="5.6" fill="#222" stroke="#222" stroke-width="0.15" text-anchor="end" >−2</text>
<text x="44.20" y="428.20" font-size="8.2" fill="#222" stroke="#222" stroke-width="0.15" text-anchor="end" textLength="6.2" lengthAdjust="spacingAndGlyphs" >10</text>
<line x1="54.00" y1="446.60" x2="56.60" y2="446.60" stroke="#111" stroke-width="0.9" />
<text x="50.60" y="445.00" font-size="5.6" fill="#222" stroke="#222" stroke-width="0.15" text-anchor="end" >−3</text>
<text x="44.20" y="449.60" font-size="8.2" fill="#222" stroke="#222" stroke-width="0.15" text-anchor="end" textLength="6.2" lengthAdjust="spacingAndGlyphs" >10</text>
<line x1="54.00" y1="467.60" x2="56.60" y2="467.60" stroke="#111" stroke-width="0.9" />
<text x="50.60" y="466.00" font-size="5.6" fill="#222" stroke="#222" stroke-width="0.15" text-anchor="end" >−4</text>
<text x="44.20" y="470.60" font-size="8.2" fill="#222" stroke="#222" stroke-width="0.15" text-anchor="end" textLength="6.2" lengthAdjust="spacingAndGlyphs" >10</text>
<line x1="56.60" y1="403.30" x2="512.00" y2="403.30" stroke="#555" stroke-width="0.8" stroke-dasharray="2,1.8" />
<line x1="56.60" y1="425.20" x2="512.00" y2="425.20" stroke="#555" stroke-width="0.8" stroke-dasharray="2,1.8" />
<line x1="57.20" y1="381.70" x2="162.40" y2="381.70" stroke="#111" stroke-width="1.4" stroke-dasharray="3.1,2.0" />
<rect x="105.00" y="380.60" width="3.20" height="2.20" fill="#111" />
<rect x="110.80" y="380.60" width="3.20" height="2.20" fill="#111" />
<text x="63.50" y="397.88" font-size="8.0" fill="#222" stroke="#222" stroke-width="0.15" font-weight="bold" textLength="31.1" lengthAdjust="spacingAndGlyphs" >Resistant</text>
<text x="63.50" y="439.78" font-size="8.0" fill="#222" stroke="#222" stroke-width="0.15" font-weight="bold" textLength="31.1" lengthAdjust="spacingAndGlyphs" >Sensitive</text>
<text transform="translate(19.42,439.80) rotate(-90)" font-size="8.4" fill="#222" stroke="#222" stroke-width="0.15" textLength="29.8" lengthAdjust="spacingAndGlyphs" >Cell count</text>
<text transform="translate(31.82,454.20) rotate(-90)" font-size="8.4" fill="#222" stroke="#222" stroke-width="0.15" textLength="60.0" lengthAdjust="spacingAndGlyphs" >(relative to DMSO)</text>
<rect x="92.00" y="366.80" width="5.00" height="4.40" fill="#111" />
<text x="100.80" y="372.02" font-size="8.4" fill="#222" stroke="#222" stroke-width="0.15" textLength="20.0" lengthAdjust="spacingAndGlyphs" >DMSO</text>
<rect x="190.80" y="366.40" width="6.00" height="5.40" fill="#cc1a3a" />
<text x="202.50" y="372.42" font-size="8.4" fill="#cc1a3a" stroke="#cc1a3a" stroke-width="0.15" textLength="44.5" lengthAdjust="spacingAndGlyphs" >Lenalidomide</text>
<rect x="305.60" y="366.40" width="6.00" height="5.40" fill="#1c4f8a" />
<text x="315.50" y="371.92" font-size="8.4" fill="#1c4f8a" stroke="#1c4f8a" stroke-width="0.15" textLength="47.5" lengthAdjust="spacingAndGlyphs" >Pomalidomide</text>
<rect x="427.00" y="366.20" width="6.00" height="5.40" fill="#f7941d" />
<text x="436.30" y="371.92" font-size="8.4" fill="#f7941d" stroke="#f7941d" stroke-width="0.15" textLength="33.7" lengthAdjust="spacingAndGlyphs" >CC-92480</text>
<line x1="60.40" y1="467.60" x2="60.40" y2="470.20" stroke="#111" stroke-width="0.8" />
<text transform="translate(62.70,474.6) rotate(-90) scale(0.84,1)" font-size="6.7" fill="#3a6ea8" text-anchor="end" stroke="#3a6ea8" stroke-width="0.08">SUDHL1</text>
<line x1="65.77" y1="467.60" x2="65.77" y2="470.20" stroke="#111" stroke-width="0.8" />
<text transform="translate(68.07,474.6) rotate(-90) scale(0.84,1)" font-size="6.7" fill="#3a6ea8" text-anchor="end" stroke="#3a6ea8" stroke-width="0.08">KIJK</text>
<line x1="71.14" y1="467.60" x2="71.14" y2="470.20" stroke="#111" stroke-width="0.8" />
<text transform="translate(73.44,474.6) rotate(-90) scale(0.84,1)" font-size="6.7" fill="#3a6ea8" text-anchor="end" stroke="#3a6ea8" stroke-width="0.08">Karpas299</text>
<line x1="76.51" y1="467.60" x2="76.51" y2="470.20" stroke="#111" stroke-width="0.8" />
<text transform="translate(78.81,474.6) rotate(-90) scale(0.84,1)" font-size="6.7" fill="#3a6ea8" text-anchor="end" stroke="#3a6ea8" stroke-width="0.08">SUPM2</text>
<line x1="81.88" y1="467.60" x2="81.88" y2="470.20" stroke="#111" stroke-width="0.8" />
<text transform="translate(84.18,474.6) rotate(-90) scale(0.84,1)" font-size="6.7" fill="#3a6ea8" text-anchor="end" stroke="#3a6ea8" stroke-width="0.08">L82</text>
<line x1="87.25" y1="467.60" x2="87.25" y2="470.20" stroke="#111" stroke-width="0.8" />
<text transform="translate(89.55,474.6) rotate(-90) scale(0.84,1)" font-size="6.7" fill="#3a6ea8" text-anchor="end" stroke="#3a6ea8" stroke-width="0.08">SR786</text>
<line x1="92.62" y1="467.60" x2="92.62" y2="470.20" stroke="#111" stroke-width="0.8" />
<text transform="translate(94.92,474.6) rotate(-90) scale(0.84,1)" font-size="6.7" fill="#a6c68a" text-anchor="end" stroke="#a6c68a" stroke-width="0.08">MAC2A</text>
<line x1="97.99" y1="467.60" x2="97.99" y2="470.20" stroke="#111" stroke-width="0.8" />
<text transform="translate(100.29,474.6) rotate(-90) scale(0.84,1)" font-size="6.7" fill="#a6c68a" text-anchor="end" stroke="#a6c68a" stroke-width="0.08">DL40</text>
<line x1="103.36" y1="467.60" x2="103.36" y2="470.20" stroke="#111" stroke-width="0.8" />
<text transform="translate(105.66,474.6) rotate(-90) scale(0.84,1)" font-size="6.7" fill="#a6c68a" text-anchor="end" stroke="#a6c68a" stroke-width="0.08">FEPD</text>
<line x1="108.73" y1="467.60" x2="108.73" y2="470.20" stroke="#111" stroke-width="0.8" />
<text transform="translate(111.03,474.6) rotate(-90) scale(0.84,1)" font-size="6.7" fill="#a6c68a" text-anchor="end" stroke="#a6c68a" stroke-width="0.08">OCILY13.2</text>
<line x1="114.10" y1="467.60" x2="114.10" y2="470.20" stroke="#111" stroke-width="0.8" />
<text transform="translate(116.40,474.6) rotate(-90) scale(0.84,1)" font-size="6.7" fill="#cc1a3a" text-anchor="end" stroke="#cc1a3a" stroke-width="0.08">OCILY12</text>
<line x1="119.47" y1="467.60" x2="119.47" y2="470.20" stroke="#111" stroke-width="0.8" />
<text transform="translate(121.77,474.6) rotate(-90) scale(0.84,1)" font-size="6.7" fill="#cc1a3a" text-anchor="end" stroke="#cc1a3a" stroke-width="0.08">SMZ1</text>
<line x1="124.84" y1="467.60" x2="124.84" y2="470.20" stroke="#111" stroke-width="0.8" />
<text transform="translate(127.14,474.6) rotate(-90) scale(0.84,1)" font-size="6.7" fill="#ec1c8c" text-anchor="end" stroke="#ec1c8c" stroke-width="0.08">HH</text>
<line x1="130.21" y1="467.60" x2="130.21" y2="470.20" stroke="#111" stroke-width="0.8" />
<text transform="translate(132.51,474.6) rotate(-90) scale(0.84,1)" font-size="6.7" fill="#ec1c8c" text-anchor="end" stroke="#ec1c8c" stroke-width="0.08">Hut78</text>
<line x1="135.58" y1="467.60" x2="135.58" y2="470.20" stroke="#111" stroke-width="0.8" />
<text transform="translate(137.88,474.6) rotate(-90) scale(0.84,1)" font-size="6.7" fill="#ec1c8c" text-anchor="end" stroke="#ec1c8c" stroke-width="0.08">MJ</text>
<line x1="140.95" y1="467.60" x2="140.95" y2="470.20" stroke="#111" stroke-width="0.8" />
<text transform="translate(143.25,474.6) rotate(-90) scale(0.84,1)" font-size="6.7" fill="#ec1c8c" text-anchor="end" stroke="#ec1c8c" stroke-width="0.08">MYLA</text>
<line x1="146.32" y1="467.60" x2="146.32" y2="470.20" stroke="#111" stroke-width="0.8" />
<text transform="translate(148.62,474.6) rotate(-90) scale(0.84,1)" font-size="6.7" fill="#6b2d8f" text-anchor="end" stroke="#6b2d8f" stroke-width="0.08">NKL</text>
<line x1="151.69" y1="467.60" x2="151.69" y2="470.20" stroke="#111" stroke-width="0.8" />
<text transform="translate(153.99,474.6) rotate(-90) scale(0.84,1)" font-size="6.7" fill="#6b2d8f" text-anchor="end" stroke="#6b2d8f" stroke-width="0.08">MTA</text>
<line x1="157.06" y1="467.60" x2="157.06" y2="470.20" stroke="#111" stroke-width="0.8" />
<text transform="translate(159.36,474.6) rotate(-90) scale(0.84,1)" font-size="6.7" fill="#3cb54a" text-anchor="end" stroke="#3cb54a" stroke-width="0.08">MT4</text>
<line x1="162.43" y1="467.60" x2="162.43" y2="470.20" stroke="#111" stroke-width="0.8" />
<text transform="translate(164.73,474.6) rotate(-90) scale(0.84,1)" font-size="6.7" fill="#3cb54a" text-anchor="end" stroke="#3cb54a" stroke-width="0.08">ST1</text>
<line x1="174.70" y1="467.60" x2="174.70" y2="470.20" stroke="#111" stroke-width="0.8" />
<text transform="translate(177.00,474.6) rotate(-90) scale(0.84,1)" font-size="6.7" fill="#3a6ea8" text-anchor="end" stroke="#3a6ea8" stroke-width="0.08">SUDHL1</text>
<line x1="180.07" y1="467.60" x2="180.07" y2="470.20" stroke="#111" stroke-width="0.8" />
<text transform="translate(182.37,474.6) rotate(-90) scale(0.84,1)" font-size="6.7" fill="#3a6ea8" text-anchor="end" stroke="#3a6ea8" stroke-width="0.08">KIJK</text>
<line x1="185.44" y1="467.60" x2="185.44" y2="470.20" stroke="#111" stroke-width="0.8" />
<text transform="translate(187.74,474.6) rotate(-90) scale(0.84,1)" font-size="6.7" fill="#3a6ea8" text-anchor="end" stroke="#3a6ea8" stroke-width="0.08">Karpas299</text>
<line x1="190.81" y1="467.60" x2="190.81" y2="470.20" stroke="#111" stroke-width="0.8" />
<text transform="translate(193.11,474.6) rotate(-90) scale(0.84,1)" font-size="6.7" fill="#3a6ea8" text-anchor="end" stroke="#3a6ea8" stroke-width="0.08">SUPM2</text>
<line x1="196.18" y1="467.60" x2="196.18" y2="470.20" stroke="#111" stroke-width="0.8" />
<text transform="translate(198.48,474.6) rotate(-90) scale(0.84,1)" font-size="6.7" fill="#3a6ea8" text-anchor="end" stroke="#3a6ea8" stroke-width="0.08">L82</text>
<line x1="201.55" y1="467.60" x2="201.55" y2="470.20" stroke="#111" stroke-width="0.8" />
<text transform="translate(203.85,474.6) rotate(-90) scale(0.84,1)" font-size="6.7" fill="#3a6ea8" text-anchor="end" stroke="#3a6ea8" stroke-width="0.08">SR786</text>
<line x1="206.92" y1="467.60" x2="206.92" y2="470.20" stroke="#111" stroke-width="0.8" />
<text transform="translate(209.22,474.6) rotate(-90) scale(0.84,1)" font-size="6.7" fill="#a6c68a" text-anchor="end" stroke="#a6c68a" stroke-width="0.08">MAC2A</text>
<line x1="212.29" y1="467.60" x2="212.29" y2="470.20" stroke="#111" stroke-width="0.8" />
<text transform="translate(214.59,474.6) rotate(-90) scale(0.84,1)" font-size="6.7" fill="#a6c68a" text-anchor="end" stroke="#a6c68a" stroke-width="0.08">DL40</text>
<line x1="217.66" y1="467.60" x2="217.66" y2="470.20" stroke="#111" stroke-width="0.8" />
<text transform="translate(219.96,474.6) rotate(-90) scale(0.84,1)" font-size="6.7" fill="#a6c68a" text-anchor="end" stroke="#a6c68a" stroke-width="0.08">FEPD</text>
<line x1="223.03" y1="467.60" x2="223.03" y2="470.20" stroke="#111" stroke-width="0.8" />
<text transform="translate(225.33,474.6) rotate(-90) scale(0.84,1)" font-size="6.7" fill="#a6c68a" text-anchor="end" stroke="#a6c68a" stroke-width="0.08">OCILY13.2</text>
<line x1="228.40" y1="467.60" x2="228.40" y2="470.20" stroke="#111" stroke-width="0.8" />
<text transform="translate(230.70,474.6) rotate(-90) scale(0.84,1)" font-size="6.7" fill="#cc1a3a" text-anchor="end" stroke="#cc1a3a" stroke-width="0.08">OCILY12</text>
<line x1="233.77" y1="467.60" x2="233.77" y2="470.20" stroke="#111" stroke-width="0.8" />
<text transform="translate(236.07,474.6) rotate(-90) scale(0.84,1)" font-size="6.7" fill="#cc1a3a" text-anchor="end" stroke="#cc1a3a" stroke-width="0.08">SMZ1</text>
<line x1="239.14" y1="467.60" x2="239.14" y2="470.20" stroke="#111" stroke-width="0.8" />
<text transform="translate(241.44,474.6) rotate(-90) scale(0.84,1)" font-size="6.7" fill="#ec1c8c" text-anchor="end" stroke="#ec1c8c" stroke-width="0.08">HH</text>
<line x1="244.51" y1="467.60" x2="244.51" y2="470.20" stroke="#111" stroke-width="0.8" />
<text transform="translate(246.81,474.6) rotate(-90) scale(0.84,1)" font-size="6.7" fill="#ec1c8c" text-anchor="end" stroke="#ec1c8c" stroke-width="0.08">Hut78</text>
<line x1="249.88" y1="467.60" x2="249.88" y2="470.20" stroke="#111" stroke-width="0.8" />
<text transform="translate(252.18,474.6) rotate(-90) scale(0.84,1)" font-size="6.7" fill="#ec1c8c" text-anchor="end" stroke="#ec1c8c" stroke-width="0.08">MJ</text>
<line x1="255.25" y1="467.60" x2="255.25" y2="470.20" stroke="#111" stroke-width="0.8" />
<text transform="translate(257.55,474.6) rotate(-90) scale(0.84,1)" font-size="6.7" fill="#ec1c8c" text-anchor="end" stroke="#ec1c8c" stroke-width="0.08">MYLA</text>
<line x1="260.62" y1="467.60" x2="260.62" y2="470.20" stroke="#111" stroke-width="0.8" />
<text transform="translate(262.92,474.6) rotate(-90) scale(0.84,1)" font-size="6.7" fill="#6b2d8f" text-anchor="end" stroke="#6b2d8f" stroke-width="0.08">NKL</text>
<line x1="265.99" y1="467.60" x2="265.99" y2="470.20" stroke="#111" stroke-width="0.8" />
<text transform="translate(268.29,474.6) rotate(-90) scale(0.84,1)" font-size="6.7" fill="#6b2d8f" text-anchor="end" stroke="#6b2d8f" stroke-width="0.08">MTA</text>
<line x1="271.36" y1="467.60" x2="271.36" y2="470.20" stroke="#111" stroke-width="0.8" />
<text transform="translate(273.66,474.6) rotate(-90) scale(0.84,1)" font-size="6.7" fill="#3cb54a" text-anchor="end" stroke="#3cb54a" stroke-width="0.08">MT4</text>
<line x1="276.73" y1="467.60" x2="276.73" y2="470.20" stroke="#111" stroke-width="0.8" />
<text transform="translate(279.03,474.6) rotate(-90) scale(0.84,1)" font-size="6.7" fill="#3cb54a" text-anchor="end" stroke="#3cb54a" stroke-width="0.08">ST1</text>
<line x1="290.40" y1="467.60" x2="290.40" y2="470.20" stroke="#111" stroke-width="0.8" />
<text transform="translate(292.70,474.6) rotate(-90) scale(0.84,1)" font-size="6.7" fill="#3a6ea8" text-anchor="end" stroke="#3a6ea8" stroke-width="0.08">SUDHL1</text>
<line x1="295.77" y1="467.60" x2="295.77" y2="470.20" stroke="#111" stroke-width="0.8" />
<text transform="translate(298.07,474.6) rotate(-90) scale(0.84,1)" font-size="6.7" fill="#3a6ea8" text-anchor="end" stroke="#3a6ea8" stroke-width="0.08">KIJK</text>
<line x1="301.14" y1="467.60" x2="301.14" y2="470.20" stroke="#111" stroke-width="0.8" />
<text transform="translate(303.44,474.6) rotate(-90) scale(0.84,1)" font-size="6.7" fill="#3a6ea8" text-anchor="end" stroke="#3a6ea8" stroke-width="0.08">Karpas299</text>
<line x1="306.51" y1="467.60" x2="306.51" y2="470.20" stroke="#111" stroke-width="0.8" />
<text transform="translate(308.81,474.6) rotate(-90) scale(0.84,1)" font-size="6.7" fill="#3a6ea8" text-anchor="end" stroke="#3a6ea8" stroke-width="0.08">SUPM2</text>
<line x1="311.88" y1="467.60" x2="311.88" y2="470.20" stroke="#111" stroke-width="0.8" />
<text transform="translate(314.18,474.6) rotate(-90) scale(0.84,1)" font-size="6.7" fill="#3a6ea8" text-anchor="end" stroke="#3a6ea8" stroke-width="0.08">L82</text>
<line x1="317.25" y1="467.60" x2="317.25" y2="470.20" stroke="#111" stroke-width="0.8" />
<text transform="translate(319.55,474.6) rotate(-90) scale(0.84,1)" font-size="6.7" fill="#3a6ea8" text-anchor="end" stroke="#3a6ea8" stroke-width="0.08">SR786</text>
<line x1="322.62" y1="467.60" x2="322.62" y2="470.20" stroke="#111" stroke-width="0.8" />
<text transform="translate(324.92,474.6) rotate(-90) scale(0.84,1)" font-size="6.7" fill="#a6c68a" text-anchor="end" stroke="#a6c68a" stroke-width="0.08">MAC2A</text>
<line x1="327.99" y1="467.60" x2="327.99" y2="470.20" stroke="#111" stroke-width="0.8" />
<text transform="translate(330.29,474.6) rotate(-90) scale(0.84,1)" font-size="6.7" fill="#a6c68a" text-anchor="end" stroke="#a6c68a" stroke-width="0.08">DL40</text>
<line x1="333.36" y1="467.60" x2="333.36" y2="470.20" stroke="#111" stroke-width="0.8" />
<text transform="translate(335.66,474.6) rotate(-90) scale(0.84,1)" font-size="6.7" fill="#a6c68a" text-anchor="end" stroke="#a6c68a" stroke-width="0.08">FEPD</text>
<line x1="338.73" y1="467.60" x2="338.73" y2="470.20" stroke="#111" stroke-width="0.8" />
<text transform="translate(341.03,474.6) rotate(-90) scale(0.84,1)" font-size="6.7" fill="#a6c68a" text-anchor="end" stroke="#a6c68a" stroke-width="0.08">OCILY13.2</text>
<line x1="344.10" y1="467.60" x2="344.10" y2="470.20" stroke="#111" stroke-width="0.8" />
<text transform="translate(346.40,474.6) rotate(-90) scale(0.84,1)" font-size="6.7" fill="#cc1a3a" text-anchor="end" stroke="#cc1a3a" stroke-width="0.08">OCILY12</text>
<line x1="349.47" y1="467.60" x2="349.47" y2="470.20" stroke="#111" stroke-width="0.8" />
<text transform="translate(351.77,474.6) rotate(-90) scale(0.84,1)" font-size="6.7" fill="#cc1a3a" text-anchor="end" stroke="#cc1a3a" stroke-width="0.08">SMZ1</text>
<line x1="354.84" y1="467.60" x2="354.84" y2="470.20" stroke="#111" stroke-width="0.8" />
<text transform="translate(357.14,474.6) rotate(-90) scale(0.84,1)" font-size="6.7" fill="#ec1c8c" text-anchor="end" stroke="#ec1c8c" stroke-width="0.08">HH</text>
<line x1="360.21" y1="467.60" x2="360.21" y2="470.20" stroke="#111" stroke-width="0.8" />
<text transform="translate(362.51,474.6) rotate(-90) scale(0.84,1)" font-size="6.7" fill="#ec1c8c" text-anchor="end" stroke="#ec1c8c" stroke-width="0.08">Hut78</text>
<line x1="365.58" y1="467.60" x2="365.58" y2="470.20" stroke="#111" stroke-width="0.8" />
<text transform="translate(367.88,474.6) rotate(-90) scale(0.84,1)" font-size="6.7" fill="#ec1c8c" text-anchor="end" stroke="#ec1c8c" stroke-width="0.08">MJ</text>
<line x1="370.95" y1="467.60" x2="370.95" y2="470.20" stroke="#111" stroke-width="0.8" />
<text transform="translate(373.25,474.6) rotate(-90) scale(0.84,1)" font-size="6.7" fill="#ec1c8c" text-anchor="end" stroke="#ec1c8c" stroke-width="0.08">MYLA</text>
<line x1="376.32" y1="467.60" x2="376.32" y2="470.20" stroke="#111" stroke-width="0.8" />
<text transform="translate(378.62,474.6) rotate(-90) scale(0.84,1)" font-size="6.7" fill="#6b2d8f" text-anchor="end" stroke="#6b2d8f" stroke-width="0.08">NKL</text>
<line x1="381.69" y1="467.60" x2="381.69" y2="470.20" stroke="#111" stroke-width="0.8" />
<text transform="translate(383.99,474.6) rotate(-90) scale(0.84,1)" font-size="6.7" fill="#6b2d8f" text-anchor="end" stroke="#6b2d8f" stroke-width="0.08">MTA</text>
<line x1="387.06" y1="467.60" x2="387.06" y2="470.20" stroke="#111" stroke-width="0.8" />
<text transform="translate(389.36,474.6) rotate(-90) scale(0.84,1)" font-size="6.7" fill="#3cb54a" text-anchor="end" stroke="#3cb54a" stroke-width="0.08">MT4</text>
<line x1="392.43" y1="467.60" x2="392.43" y2="470.20" stroke="#111" stroke-width="0.8" />
<text transform="translate(394.73,474.6) rotate(-90) scale(0.84,1)" font-size="6.7" fill="#3cb54a" text-anchor="end" stroke="#3cb54a" stroke-width="0.08">ST1</text>
<line x1="405.40" y1="467.60" x2="405.40" y2="470.20" stroke="#111" stroke-width="0.8" />
<text transform="translate(407.70,474.6) rotate(-90) scale(0.84,1)" font-size="6.7" fill="#3a6ea8" text-anchor="end" stroke="#3a6ea8" stroke-width="0.08">SUDHL1</text>
<line x1="410.77" y1="467.60" x2="410.77" y2="470.20" stroke="#111" stroke-width="0.8" />
<text transform="translate(413.07,474.6) rotate(-90) scale(0.84,1)" font-size="6.7" fill="#3a6ea8" text-anchor="end" stroke="#3a6ea8" stroke-width="0.08">KIJK</text>
<line x1="416.14" y1="467.60" x2="416.14" y2="470.20" stroke="#111" stroke-width="0.8" />
<text transform="translate(418.44,474.6) rotate(-90) scale(0.84,1)" font-size="6.7" fill="#3a6ea8" text-anchor="end" stroke="#3a6ea8" stroke-width="0.08">Karpas299</text>
<line x1="421.51" y1="467.60" x2="421.51" y2="470.20" stroke="#111" stroke-width="0.8" />
<text transform="translate(423.81,474.6) rotate(-90) scale(0.84,1)" font-size="6.7" fill="#3a6ea8" text-anchor="end" stroke="#3a6ea8" stroke-width="0.08">SUPM2</text>
<line x1="426.88" y1="467.60" x2="426.88" y2="470.20" stroke="#111" stroke-width="0.8" />
<text transform="translate(429.18,474.6) rotate(-90) scale(0.84,1)" font-size="6.7" fill="#3a6ea8" text-anchor="end" stroke="#3a6ea8" stroke-width="0.08">L82</text>
<line x1="432.25" y1="467.60" x2="432.25" y2="470.20" stroke="#111" stroke-width="0.8" />
<text transform="translate(434.55,474.6) rotate(-90) scale(0.84,1)" font-size="6.7" fill="#3a6ea8" text-anchor="end" stroke="#3a6ea8" stroke-width="0.08">SR786</text>
<line x1="437.62" y1="467.60" x2="437.62" y2="470.20" stroke="#111" stroke-width="0.8" />
<text transform="translate(439.92,474.6) rotate(-90) scale(0.84,1)" font-size="6.7" fill="#a6c68a" text-anchor="end" stroke="#a6c68a" stroke-width="0.08">MAC2A</text>
<line x1="442.99" y1="467.60" x2="442.99" y2="470.20" stroke="#111" stroke-width="0.8" />
<text transform="translate(445.29,474.6) rotate(-90) scale(0.84,1)" font-size="6.7" fill="#a6c68a" text-anchor="end" stroke="#a6c68a" stroke-width="0.08">DL40</text>
<line x1="448.36" y1="467.60" x2="448.36" y2="470.20" stroke="#111" stroke-width="0.8" />
<text transform="translate(450.66,474.6) rotate(-90) scale(0.84,1)" font-size="6.7" fill="#a6c68a" text-anchor="end" stroke="#a6c68a" stroke-width="0.08">FEPD</text>
<line x1="453.73" y1="467.60" x2="453.73" y2="470.20" stroke="#111" stroke-width="0.8" />
<text transform="translate(456.03,474.6) rotate(-90) scale(0.84,1)" font-size="6.7" fill="#a6c68a" text-anchor="end" stroke="#a6c68a" stroke-width="0.08">OCILY13.2</text>
<line x1="459.10" y1="467.60" x2="459.10" y2="470.20" stroke="#111" stroke-width="0.8" />
<text transform="translate(461.40,474.6) rotate(-90) scale(0.84,1)" font-size="6.7" fill="#cc1a3a" text-anchor="end" stroke="#cc1a3a" stroke-width="0.08">OCILY12</text>
<line x1="464.47" y1="467.60" x2="464.47" y2="470.20" stroke="#111" stroke-width="0.8" />
<text transform="translate(466.77,474.6) rotate(-90) scale(0.84,1)" font-size="6.7" fill="#cc1a3a" text-anchor="end" stroke="#cc1a3a" stroke-width="0.08">SMZ1</text>
<line x1="469.84" y1="467.60" x2="469.84" y2="470.20" stroke="#111" stroke-width="0.8" />
<text transform="translate(472.14,474.6) rotate(-90) scale(0.84,1)" font-size="6.7" fill="#ec1c8c" text-anchor="end" stroke="#ec1c8c" stroke-width="0.08">HH</text>
<line x1="475.21" y1="467.60" x2="475.21" y2="470.20" stroke="#111" stroke-width="0.8" />
<text transform="translate(477.51,474.6) rotate(-90) scale(0.84,1)" font-size="6.7" fill="#ec1c8c" text-anchor="end" stroke="#ec1c8c" stroke-width="0.08">Hut78</text>
<line x1="480.58" y1="467.60" x2="480.58" y2="470.20" stroke="#111" stroke-width="0.8" />
<text transform="translate(482.88,474.6) rotate(-90) scale(0.84,1)" font-size="6.7" fill="#ec1c8c" text-anchor="end" stroke="#ec1c8c" stroke-width="0.08">MJ</text>
<line x1="485.95" y1="467.60" x2="485.95" y2="470.20" stroke="#111" stroke-width="0.8" />
<text transform="translate(488.25,474.6) rotate(-90) scale(0.84,1)" font-size="6.7" fill="#ec1c8c" text-anchor="end" stroke="#ec1c8c" stroke-width="0.08">MYLA</text>
<line x1="491.32" y1="467.60" x2="491.32" y2="470.20" stroke="#111" stroke-width="0.8" />
<text transform="translate(493.62,474.6) rotate(-90) scale(0.84,1)" font-size="6.7" fill="#6b2d8f" text-anchor="end" stroke="#6b2d8f" stroke-width="0.08">NKL</text>
<line x1="496.69" y1="467.60" x2="496.69" y2="470.20" stroke="#111" stroke-width="0.8" />
<text transform="translate(498.99,474.6) rotate(-90) scale(0.84,1)" font-size="6.7" fill="#6b2d8f" text-anchor="end" stroke="#6b2d8f" stroke-width="0.08">MTA</text>
<line x1="502.06" y1="467.60" x2="502.06" y2="470.20" stroke="#111" stroke-width="0.8" />
<text transform="translate(504.36,474.6) rotate(-90) scale(0.84,1)" font-size="6.7" fill="#3cb54a" text-anchor="end" stroke="#3cb54a" stroke-width="0.08">MT4</text>
<line x1="507.43" y1="467.60" x2="507.43" y2="470.20" stroke="#111" stroke-width="0.8" />
<text transform="translate(509.73,474.6) rotate(-90) scale(0.84,1)" font-size="6.7" fill="#3cb54a" text-anchor="end" stroke="#3cb54a" stroke-width="0.08">ST1</text>
<rect x="173.20" y="436.40" width="3.00" height="2.20" fill="#cc1a3a" />
<rect x="178.87" y="426.40" width="2.40" height="2.20" fill="none" stroke="#cc1a3a" stroke-width="0.8" />
<rect x="178.87" y="429.20" width="2.40" height="2.20" fill="none" stroke="#cc1a3a" stroke-width="0.8" />
<rect x="183.54" y="382.30" width="3.80" height="1.40" fill="#cc1a3a" />
<rect x="188.91" y="385.30" width="3.80" height="1.40" fill="#cc1a3a" />
<rect x="194.28" y="382.10" width="3.80" height="1.40" fill="#cc1a3a" />
<rect x="199.65" y="384.30" width="3.80" height="1.40" fill="#cc1a3a" />
<rect x="205.02" y="388.80" width="3.80" height="1.40" fill="#cc1a3a" />
<rect x="210.39" y="392.60" width="3.80" height="1.40" fill="#cc1a3a" />
<rect x="215.76" y="383.10" width="3.80" height="1.40" fill="#cc1a3a" />
<rect x="221.13" y="381.30" width="3.80" height="1.40" fill="#cc1a3a" />
<rect x="226.50" y="379.80" width="3.80" height="1.40" fill="#cc1a3a" />
<rect x="231.87" y="387.40" width="3.80" height="1.80" fill="#cc1a3a" />
<rect x="237.24" y="385.10" width="3.80" height="1.40" fill="#cc1a3a" />
<rect x="242.61" y="386.80" width="3.80" height="1.40" fill="#cc1a3a" />
<rect x="247.98" y="385.10" width="3.80" height="1.40" fill="#cc1a3a" />
<rect x="253.35" y="381.80" width="3.80" height="1.40" fill="#cc1a3a" />
<rect x="258.72" y="384.30" width="3.80" height="1.40" fill="#cc1a3a" />
<rect x="264.09" y="379.30" width="3.80" height="1.40" fill="#cc1a3a" />
<rect x="269.46" y="396.30" width="3.80" height="1.40" fill="#cc1a3a" />
<rect x="274.83" y="387.60" width="3.80" height="1.40" fill="#cc1a3a" />
<rect x="289.20" y="436.00" width="2.40" height="2.20" fill="none" stroke="#1c4f8a" stroke-width="0.8" />
<rect x="289.20" y="438.80" width="2.40" height="2.20" fill="none" stroke="#1c4f8a" stroke-width="0.8" />
<rect x="293.87" y="435.60" width="3.80" height="1.40" fill="#1c4f8a" />
<rect x="299.24" y="391.80" width="3.80" height="1.40" fill="#1c4f8a" />
<rect x="304.61" y="399.80" width="3.80" height="1.40" fill="#1c4f8a" />
<rect x="309.98" y="397.30" width="3.80" height="1.40" fill="#1c4f8a" />
<rect x="315.35" y="385.10" width="3.80" height="1.40" fill="#1c4f8a" />
<rect x="320.72" y="398.10" width="3.80" height="1.40" fill="#1c4f8a" />
<rect x="326.09" y="425.50" width="3.80" height="1.80" fill="#1c4f8a" />
<rect x="331.46" y="396.10" width="3.80" height="1.40" fill="#1c4f8a" />
<rect x="337.03" y="389.80" width="3.40" height="3.00" fill="#1c4f8a" />
<rect x="342.20" y="383.60" width="3.80" height="1.40" fill="#1c4f8a" />
<rect x="347.57" y="393.80" width="3.80" height="1.40" fill="#1c4f8a" />
<rect x="352.94" y="393.80" width="3.80" height="1.40" fill="#1c4f8a" />
<rect x="358.31" y="392.30" width="3.80" height="1.40" fill="#1c4f8a" />
<rect x="363.68" y="391.10" width="3.80" height="1.40" fill="#1c4f8a" />
<rect x="369.05" y="382.60" width="3.80" height="1.40" fill="#1c4f8a" />
<rect x="374.42" y="398.10" width="3.80" height="1.40" fill="#1c4f8a" />
<rect x="379.79" y="382.60" width="3.80" height="1.40" fill="#1c4f8a" />
<rect x="385.16" y="423.70" width="3.80" height="1.80" fill="#1c4f8a" />
<rect x="390.53" y="400.60" width="3.80" height="1.40" fill="#1c4f8a" />
<rect x="404.20" y="441.50" width="2.40" height="2.20" fill="none" stroke="#f7941d" stroke-width="0.8" />
<rect x="404.20" y="444.30" width="2.40" height="2.20" fill="none" stroke="#f7941d" stroke-width="0.8" />
<rect x="408.87" y="449.00" width="3.80" height="1.40" fill="#f7941d" />
<rect x="414.24" y="445.10" width="3.80" height="1.40" fill="#f7941d" />
<rect x="419.61" y="438.10" width="3.80" height="1.40" fill="#f7941d" />
<rect x="424.98" y="449.70" width="3.80" height="1.40" fill="#f7941d" />
<rect x="430.35" y="408.80" width="3.80" height="1.40" fill="#f7941d" />
<rect x="435.72" y="444.20" width="3.80" height="1.40" fill="#f7941d" />
<rect x="441.79" y="454.80" width="2.40" height="2.20" fill="none" stroke="#f7941d" stroke-width="0.8" />
<rect x="441.79" y="457.60" width="2.40" height="2.20" fill="none" stroke="#f7941d" stroke-width="0.8" />
<rect x="446.46" y="436.70" width="3.80" height="1.40" fill="#f7941d" />
<rect x="451.83" y="403.30" width="3.80" height="1.40" fill="#f7941d" />
<rect x="457.20" y="392.70" width="3.80" height="1.40" fill="#f7941d" />
<rect x="462.57" y="423.00" width="3.80" height="1.40" fill="#f7941d" />
<rect x="467.94" y="435.70" width="3.80" height="1.40" fill="#f7941d" />
<rect x="473.31" y="412.70" width="3.80" height="1.40" fill="#f7941d" />
<rect x="478.68" y="451.80" width="3.80" height="1.40" fill="#f7941d" />
<rect x="484.05" y="423.00" width="3.80" height="1.40" fill="#f7941d" />
<rect x="490.12" y="439.10" width="2.40" height="2.20" fill="none" stroke="#f7941d" stroke-width="0.8" />
<rect x="490.12" y="441.90" width="2.40" height="2.20" fill="none" stroke="#f7941d" stroke-width="0.8" />
<rect x="494.79" y="425.90" width="3.80" height="1.40" fill="#f7941d" />
<rect x="500.86" y="455.20" width="2.40" height="2.20" fill="none" stroke="#f7941d" stroke-width="0.8" />
<rect x="500.86" y="458.00" width="2.40" height="2.20" fill="none" stroke="#f7941d" stroke-width="0.8" />
<rect x="505.53" y="425.90" width="3.80" height="1.40" fill="#f7941d" />
<rect x="6.90" y="472.30" width="48.20" height="48.80" fill="none" stroke="#555" stroke-width="0.9" stroke-dasharray="2,1.6"/>
<text transform="translate(14.69,509.60) rotate(-90)" font-size="7.2" fill="#3a6ea8" stroke="#3a6ea8" stroke-width="0.15" textLength="35.2" lengthAdjust="spacingAndGlyphs" >Alk+ ALCL</text>
<text transform="translate(21.59,509.60) rotate(-90)" font-size="7.2" fill="#a6c68a" stroke="#a6c68a" stroke-width="0.15" textLength="35.2" lengthAdjust="spacingAndGlyphs" >Alk– ALCL</text>
<text transform="translate(28.89,509.60) rotate(-90)" font-size="7.2" fill="#cc1a3a" stroke="#cc1a3a" stroke-width="0.15" textLength="35.2" lengthAdjust="spacingAndGlyphs" >PTCL-NOS</text>
<text transform="translate(36.59,491.70) rotate(-90)" font-size="7.2" fill="#ec1c8c" stroke="#ec1c8c" stroke-width="0.15" textLength="17.3" lengthAdjust="spacingAndGlyphs" >CTCL</text>
<text transform="translate(43.59,488.30) rotate(-90)" font-size="7.2" fill="#6b2d8f" stroke="#6b2d8f" stroke-width="0.15" textLength="13.9" lengthAdjust="spacingAndGlyphs" >NKT</text>
<text transform="translate(51.09,490.00) rotate(-90)" font-size="7.2" fill="#3cb54a" stroke="#3cb54a" stroke-width="0.15" textLength="15.6" lengthAdjust="spacingAndGlyphs" >ATLL</text>
<text x="8.10" y="518.74" font-size="7.6" fill="#111" stroke="#111" stroke-width="0.15" font-weight="bold" textLength="44.4" lengthAdjust="spacingAndGlyphs" >Classification</text>
<line x1="125.10" y1="543.20" x2="125.10" y2="678.00" stroke="#444" stroke-width="0.8" stroke-dasharray="0.9,1.1" />
<line x1="30.80" y1="601.27" x2="173.50" y2="601.27" stroke="#444" stroke-width="0.8" stroke-dasharray="0.9,1.1" />
<line x1="30.80" y1="619.53" x2="173.50" y2="619.53" stroke="#444" stroke-width="0.8" stroke-dasharray="0.9,1.1" />
<path d="M151.3 607.1h1v1h-1zM167.2 610.3h1v1h-1zM153.8 609.8h1v1h-1zM154.8 612.2h1v1h-1zM165.5 609.8h1v1h-1zM161.0 610.9h1v1h-1zM168.0 609.9h1v1h-1zM148.4 608.7h1v1h-1zM163.9 607.9h1v1h-1zM165.5 610.0h1v1h-1zM152.0 609.5h1v1h-1zM156.2 610.4h1v1h-1zM165.3 609.2h1v1h-1zM159.0 609.7h1v1h-1zM154.0 609.2h1v1h-1zM167.1 609.5h1v1h-1zM165.3 609.1h1v1h-1zM167.4 609.8h1v1h-1zM159.4 611.2h1v1h-1zM162.9 610.4h1v1h-1zM142.3 610.2h1v1h-1zM159.6 609.2h1v1h-1zM164.4 611.1h1v1h-1zM155.5 610.5h1v1h-1zM158.7 611.6h1v1h-1zM162.4 608.7h1v1h-1zM149.4 612.6h1v1h-1zM150.7 610.0h1v1h-1zM158.6 609.7h1v1h-1zM164.1 610.7h1v1h-1zM160.4 608.6h1v1h-1zM162.4 611.3h1v1h-1zM158.2 608.9h1v1h-1zM145.5 610.1h1v1h-1zM155.2 610.1h1v1h-1zM164.9 609.9h1v1h-1zM148.5 609.0h1v1h-1zM150.7 610.2h1v1h-1zM161.8 609.5h1v1h-1zM138.7 610.0h1v1h-1zM166.0 610.7h1v1h-1zM162.0 610.5h1v1h-1zM138.7 610.5h1v1h-1zM155.3 610.7h1v1h-1zM166.1 609.1h1v1h-1zM166.8 609.9h1v1h-1zM163.0 611.5h1v1h-1zM151.9 611.9h1v1h-1zM162.4 611.0h1v1h-1zM155.4 610.5h1v1h-1zM143.4 608.1h1v1h-1zM160.2 610.2h1v1h-1zM153.1 610.0h1v1h-1zM160.6 609.1h1v1h-1zM150.4 610.6h1v1h-1zM157.1 610.9h1v1h-1zM158.8 609.7h1v1h-1zM160.5 608.6h1v1h-1zM153.1 612.3h1v1h-1zM161.1 611.8h1v1h-1zM167.3 608.9h1v1h-1zM165.6 610.2h1v1h-1zM165.9 609.9h1v1h-1zM167.8 610.3h1v1h-1zM154.0 608.4h1v1h-1zM165.3 609.7h1v1h-1zM159.5 608.7h1v1h-1zM163.0 609.3h1v1h-1zM164.7 610.7h1v1h-1zM161.6 608.9h1v1h-1zM155.3 609.7h1v1h-1zM160.7 609.6h1v1h-1zM146.4 606.7h1v1h-1zM159.2 610.0h1v1h-1zM149.2 612.3h1v1h-1zM165.6 609.9h1v1h-1zM155.5 607.9h1v1h-1zM157.2 608.0h1v1h-1zM161.0 611.1h1v1h-1zM161.6 607.1h1v1h-1zM163.4 610.9h1v1h-1zM164.9 608.8h1v1h-1zM154.6 608.6h1v1h-1zM160.1 608.4h1v1h-1zM157.9 609.5h1v1h-1zM142.0 611.0h1v1h-1zM159.1 607.6h1v1h-1zM156.7 606.7h1v1h-1zM167.6 610.4h1v1h-1zM168.1 609.8h1v1h-1zM165.5 610.0h1v1h-1zM154.0 613.8h1v1h-1zM160.9 610.2h1v1h-1zM144.4 614.9h1v1h-1zM163.7 610.9h1v1h-1zM159.4 609.1h1v1h-1zM162.7 608.6h1v1h-1zM160.3 609.6h1v1h-1zM152.8 608.3h1v1h-1zM163.7 608.9h1v1h-1zM156.0 607.2h1v1h-1zM166.1 610.0h1v1h-1zM164.6 609.2h1v1h-1zM145.4 610.2h1v1h-1zM163.3 609.4h1v1h-1zM156.7 612.4h1v1h-1zM157.2 610.4h1v1h-1zM153.4 611.7h1v1h-1zM138.7 609.1h1v1h-1zM166.1 608.9h1v1h-1zM161.2 609.6h1v1h-1zM160.4 610.3h1v1h-1zM167.1 610.7h1v1h-1zM161.3 610.7h1v1h-1zM162.3 609.2h1v1h-1zM156.2 611.4h1v1h-1zM141.9 611.5h1v1h-1zM157.2 608.6h1v1h-1zM165.2 609.8h1v1h-1zM144.6 607.7h1v1h-1zM162.3 611.7h1v1h-1zM158.4 608.4h1v1h-1zM165.6 610.6h1v1h-1zM159.7 610.3h1v1h-1zM159.1 609.4h1v1h-1zM155.1 611.2h1v1h-1zM155.2 610.7h1v1h-1zM164.2 608.5h1v1h-1zM167.1 610.0h1v1h-1zM165.4 610.2h1v1h-1zM147.7 606.8h1v1h-1zM158.7 609.7h1v1h-1zM154.5 610.0h1v1h-1zM162.2 609.5h1v1h-1zM166.9 609.0h1v1h-1zM145.2 606.7h1v1h-1zM143.1 605.1h1v1h-1zM158.9 610.5h1v1h-1zM167.8 609.3h1v1h-1zM152.8 608.4h1v1h-1zM166.3 609.9h1v1h-1zM157.2 610.0h1v1h-1zM156.4 610.8h1v1h-1zM166.3 609.7h1v1h-1zM138.7 614.0h1v1h-1zM161.9 610.0h1v1h-1zM164.2 608.8h1v1h-1zM151.9 610.2h1v1h-1zM160.8 611.4h1v1h-1zM167.2 609.2h1v1h-1zM164.6 609.4h1v1h-1zM158.9 609.4h1v1h-1zM154.0 610.1h1v1h-1zM157.3 611.5h1v1h-1zM156.0 610.4h1v1h-1zM164.0 609.2h1v1h-1zM157.8 607.5h1v1h-1zM159.4 610.5h1v1h-1zM159.8 608.6h1v1h-1zM152.7 611.1h1v1h-1zM168.0 609.8h1v1h-1zM167.9 609.7h1v1h-1zM163.4 610.0h1v1h-1zM151.6 608.7h1v1h-1zM162.2 608.2h1v1h-1zM142.1 609.7h1v1h-1zM159.4 608.7h1v1h-1zM166.6 610.1h1v1h-1zM160.5 610.1h1v1h-1zM161.9 612.8h1v1h-1zM163.1 610.6h1v1h-1zM155.8 608.8h1v1h-1zM158.6 610.4h1v1h-1zM162.4 610.2h1v1h-1zM165.3 610.0h1v1h-1zM156.7 607.0h1v1h-1zM158.7 612.5h1v1h-1zM156.4 612.0h1v1h-1zM165.1 610.3h1v1h-1zM161.1 609.6h1v1h-1zM163.9 611.1h1v1h-1zM168.0 609.7h1v1h-1zM145.0 610.9h1v1h-1zM152.6 610.6h1v1h-1zM159.6 611.0h1v1h-1zM158.7 609.2h1v1h-1zM168.0 609.8h1v1h-1zM159.9 610.9h1v1h-1zM163.9 610.0h1v1h-1zM163.7 609.5h1v1h-1zM161.0 609.3h1v1h-1zM161.8 610.8h1v1h-1zM153.5 608.5h1v1h-1zM167.9 609.8h1v1h-1zM153.0 610.3h1v1h-1zM159.8 610.9h1v1h-1zM159.9 611.7h1v1h-1zM167.0 609.2h1v1h-1zM158.9 609.8h1v1h-1zM153.8 608.8h1v1h-1zM143.8 613.1h1v1h-1zM165.1 608.9h1v1h-1zM163.3 609.8h1v1h-1zM141.4 610.3h1v1h-1zM156.1 607.7h1v1h-1zM159.7 610.6h1v1h-1zM159.1 612.2h1v1h-1zM154.1 608.0h1v1h-1zM166.6 610.7h1v1h-1zM150.9 613.2h1v1h-1zM151.6 610.5h1v1h-1zM163.7 609.3h1v1h-1zM164.7 608.9h1v1h-1zM167.9 610.1h1v1h-1zM159.5 611.7h1v1h-1zM159.0 608.7h1v1h-1zM157.3 608.0h1v1h-1zM138.7 607.8h1v1h-1zM161.6 611.3h1v1h-1zM164.9 608.3h1v1h-1zM161.2 610.0h1v1h-1zM164.1 611.4h1v1h-1zM157.2 611.7h1v1h-1zM140.2 607.7h1v1h-1zM155.5 610.2h1v1h-1zM163.6 610.8h1v1h-1zM162.2 609.2h1v1h-1zM148.1 606.5h1v1h-1zM161.7 610.0h1v1h-1zM157.3 610.7h1v1h-1zM160.0 609.2h1v1h-1zM167.9 609.1h1v1h-1zM159.6 609.9h1v1h-1zM165.6 609.8h1v1h-1zM155.7 611.4h1v1h-1zM163.6 610.4h1v1h-1zM164.6 609.0h1v1h-1zM165.6 609.0h1v1h-1zM168.0 609.2h1v1h-1zM162.0 611.6h1v1h-1zM151.9 610.3h1v1h-1zM142.5 609.6h1v1h-1zM166.1 610.7h1v1h-1zM160.2 609.3h1v1h-1zM149.7 607.6h1v1h-1zM152.1 607.8h1v1h-1zM138.7 612.1h1v1h-1zM165.7 611.7h1v1h-1zM158.0 608.7h1v1h-1zM158.0 610.4h1v1h-1zM155.8 609.9h1v1h-1zM167.6 609.9h1v1h-1zM154.8 609.3h1v1h-1zM163.7 609.1h1v1h-1zM164.0 611.1h1v1h-1zM149.3 609.8h1v1h-1zM161.8 609.4h1v1h-1zM157.6 609.9h1v1h-1zM146.1 612.7h1v1h-1zM160.6 611.1h1v1h-1zM153.6 610.1h1v1h-1zM161.3 610.8h1v1h-1zM166.8 611.6h1v1h-1zM165.4 609.5h1v1h-1zM156.4 611.1h1v1h-1zM167.4 609.9h1v1h-1zM157.6 609.0h1v1h-1zM146.6 607.3h1v1h-1zM149.8 611.6h1v1h-1zM150.7 611.9h1v1h-1zM146.5 609.7h1v1h-1zM156.1 611.6h1v1h-1zM158.9 610.8h1v1h-1zM155.4 611.5h1v1h-1zM147.1 611.4h1v1h-1zM155.4 612.1h1v1h-1zM161.0 611.2h1v1h-1zM162.1 609.3h1v1h-1zM161.2 612.0h1v1h-1zM160.9 610.1h1v1h-1zM160.6 611.0h1v1h-1zM164.2 609.8h1v1h-1zM146.6 610.1h1v1h-1zM157.3 609.3h1v1h-1zM166.7 610.0h1v1h-1zM138.7 610.2h1v1h-1zM163.3 610.7h1v1h-1zM161.4 611.2h1v1h-1zM165.8 609.5h1v1h-1zM160.3 610.5h1v1h-1zM146.2 607.9h1v1h-1zM155.7 610.1h1v1h-1zM146.8 610.2h1v1h-1zM158.8 608.3h1v1h-1zM162.6 611.6h1v1h-1zM165.9 609.0h1v1h-1zM166.2 609.1h1v1h-1zM157.3 607.7h1v1h-1zM160.3 610.7h1v1h-1zM162.3 607.4h1v1h-1zM161.3 611.8h1v1h-1zM140.6 608.7h1v1h-1zM159.9 610.6h1v1h-1zM148.0 608.4h1v1h-1zM166.2 610.3h1v1h-1zM162.6 610.3h1v1h-1zM154.2 610.2h1v1h-1zM150.1 611.6h1v1h-1zM160.1 610.5h1v1h-1zM161.1 610.0h1v1h-1zM154.7 607.9h1v1h-1zM154.1 607.8h1v1h-1zM166.9 609.0h1v1h-1zM165.9 610.4h1v1h-1zM157.8 609.1h1v1h-1zM162.1 609.9h1v1h-1zM166.4 609.7h1v1h-1zM145.7 612.8h1v1h-1zM167.4 609.8h1v1h-1zM161.3 611.8h1v1h-1zM150.6 610.5h1v1h-1zM154.4 607.3h1v1h-1zM153.3 608.1h1v1h-1zM157.2 609.1h1v1h-1zM155.4 609.9h1v1h-1zM163.5 609.4h1v1h-1zM161.9 610.9h1v1h-1zM160.2 610.3h1v1h-1zM165.5 610.5h1v1h-1zM144.3 613.0h1v1h-1zM164.1 609.9h1v1h-1zM160.5 612.0h1v1h-1zM162.7 609.1h1v1h-1zM142.5 612.8h1v1h-1zM146.4 607.1h1v1h-1zM167.7 610.2h1v1h-1zM166.1 610.0h1v1h-1zM156.3 608.2h1v1h-1zM156.2 609.4h1v1h-1zM158.1 608.8h1v1h-1zM152.9 613.2h1v1h-1zM163.6 609.8h1v1h-1zM166.0 610.1h1v1h-1zM167.1 609.6h1v1h-1zM165.5 609.8h1v1h-1zM154.1 612.0h1v1h-1zM158.3 612.2h1v1h-1zM161.4 610.8h1v1h-1zM144.7 614.7h1v1h-1zM162.0 610.5h1v1h-1zM139.7 607.4h1v1h-1zM157.9 610.6h1v1h-1zM154.9 611.2h1v1h-1zM163.5 609.9h1v1h-1zM160.0 608.9h1v1h-1zM159.7 607.6h1v1h-1zM151.0 608.6h1v1h-1zM163.2 611.3h1v1h-1zM164.2 611.2h1v1h-1zM167.7 608.5h1v1h-1zM151.1 606.4h1v1h-1zM152.5 612.7h1v1h-1zM162.7 609.8h1v1h-1zM162.4 610.9h1v1h-1zM142.2 604.2h1v1h-1zM152.5 609.3h1v1h-1zM161.7 609.7h1v1h-1zM151.9 608.1h1v1h-1zM165.9 610.0h1v1h-1zM162.5 610.0h1v1h-1zM166.4 610.1h1v1h-1zM155.5 609.6h1v1h-1zM166.9 610.4h1v1h-1zM152.2 607.5h1v1h-1zM159.1 612.2h1v1h-1zM163.6 609.0h1v1h-1zM167.6 609.2h1v1h-1zM162.4 609.1h1v1h-1zM161.3 612.5h1v1h-1zM162.8 610.1h1v1h-1zM159.9 610.9h1v1h-1zM147.4 610.2h1v1h-1zM157.8 611.7h1v1h-1zM141.0 611.2h1v1h-1zM162.8 610.6h1v1h-1zM161.2 609.0h1v1h-1zM162.2 610.0h1v1h-1zM158.5 608.5h1v1h-1zM145.0 608.7h1v1h-1zM161.5 610.6h1v1h-1zM164.5 609.2h1v1h-1zM158.2 608.0h1v1h-1zM152.2 609.9h1v1h-1zM150.9 606.4h1v1h-1zM162.8 609.2h1v1h-1zM138.7 606.4h1v1h-1zM139.5 609.1h1v1h-1zM138.7 613.4h1v1h-1zM156.2 613.0h1v1h-1zM147.4 611.8h1v1h-1zM157.6 608.6h1v1h-1zM138.7 614.2h1v1h-1zM163.8 611.2h1v1h-1zM167.8 610.4h1v1h-1zM150.6 610.9h1v1h-1zM156.2 608.9h1v1h-1zM152.1 610.2h1v1h-1zM164.4 609.5h1v1h-1zM161.7 611.1h1v1h-1zM161.2 610.3h1v1h-1zM150.2 608.2h1v1h-1zM162.4 609.8h1v1h-1zM158.3 610.2h1v1h-1zM160.1 609.3h1v1h-1zM157.3 611.2h1v1h-1zM163.6 609.7h1v1h-1zM157.0 611.5h1v1h-1zM156.1 607.2h1v1h-1zM155.7 609.7h1v1h-1zM156.3 611.8h1v1h-1zM162.3 607.9h1v1h-1zM146.8 612.6h1v1h-1zM157.4 610.8h1v1h-1zM160.7 611.1h1v1h-1zM146.1 611.3h1v1h-1zM164.5 611.3h1v1h-1zM158.1 609.9h1v1h-1zM161.6 608.3h1v1h-1zM166.1 610.7h1v1h-1zM154.9 609.8h1v1h-1zM150.9 612.2h1v1h-1zM164.9 610.0h1v1h-1zM159.5 611.0h1v1h-1zM164.0 609.3h1v1h-1zM167.6 610.0h1v1h-1zM160.0 609.2h1v1h-1zM151.7 611.9h1v1h-1zM152.0 610.3h1v1h-1zM153.2 610.9h1v1h-1zM152.0 610.3h1v1h-1zM154.6 613.6h1v1h-1zM152.7 608.5h1v1h-1zM164.2 609.3h1v1h-1zM150.8 610.0h1v1h-1zM138.7 612.4h1v1h-1zM158.4 608.3h1v1h-1zM146.8 610.0h1v1h-1zM156.6 610.5h1v1h-1zM143.1 606.3h1v1h-1zM152.7 611.5h1v1h-1zM144.2 613.3h1v1h-1zM160.8 610.8h1v1h-1zM145.4 608.9h1v1h-1zM153.0 607.8h1v1h-1zM156.4 609.7h1v1h-1zM161.8 609.8h1v1h-1zM159.8 608.9h1v1h-1zM160.1 609.8h1v1h-1zM166.4 608.7h1v1h-1zM159.0 610.4h1v1h-1zM158.0 609.9h1v1h-1zM146.8 610.2h1v1h-1zM163.1 610.8h1v1h-1zM165.6 610.7h1v1h-1zM164.8 610.8h1v1h-1zM147.7 610.5h1v1h-1zM162.3 609.6h1v1h-1zM158.9 610.1h1v1h-1zM158.3 609.7h1v1h-1zM138.7 609.0h1v1h-1zM151.2 608.1h1v1h-1zM165.2 610.2h1v1h-1zM138.7 616.3h1v1h-1zM152.7 610.6h1v1h-1zM150.1 605.9h1v1h-1zM162.1 610.0h1v1h-1zM155.2 610.4h1v1h-1zM165.0 610.2h1v1h-1zM167.1 609.5h1v1h-1zM145.1 609.3h1v1h-1zM153.7 612.2h1v1h-1zM165.6 610.2h1v1h-1zM153.2 608.2h1v1h-1zM163.8 608.9h1v1h-1zM162.7 610.2h1v1h-1zM164.4 610.2h1v1h-1zM146.7 606.6h1v1h-1zM163.3 608.9h1v1h-1zM144.5 607.3h1v1h-1zM157.3 610.0h1v1h-1zM140.4 609.6h1v1h-1zM159.4 610.1h1v1h-1zM167.4 610.4h1v1h-1zM166.4 609.9h1v1h-1zM149.0 610.1h1v1h-1zM138.7 613.4h1v1h-1zM166.3 609.1h1v1h-1zM147.6 608.5h1v1h-1zM162.9 610.4h1v1h-1zM165.0 608.8h1v1h-1zM162.2 609.6h1v1h-1zM162.5 608.7h1v1h-1zM141.1 614.0h1v1h-1zM150.6 610.5h1v1h-1zM160.1 608.9h1v1h-1zM164.4 608.7h1v1h-1zM167.1 609.5h1v1h-1zM158.2 608.8h1v1h-1zM158.7 608.4h1v1h-1zM156.8 607.2h1v1h-1zM162.6 611.0h1v1h-1zM157.3 609.5h1v1h-1zM161.2 611.3h1v1h-1zM157.7 612.6h1v1h-1zM162.0 608.8h1v1h-1zM164.8 609.6h1v1h-1zM161.7 609.3h1v1h-1zM154.3 608.8h1v1h-1zM163.2 611.0h1v1h-1zM164.4 610.4h1v1h-1zM162.8 608.8h1v1h-1zM157.9 610.8h1v1h-1zM165.5 609.9h1v1h-1zM162.0 608.6h1v1h-1zM160.1 609.5h1v1h-1zM152.1 614.7h1v1h-1zM158.5 608.4h1v1h-1zM165.3 609.9h1v1h-1zM164.7 609.5h1v1h-1zM168.0 609.1h1v1h-1zM166.5 610.1h1v1h-1zM149.6 608.4h1v1h-1zM159.0 609.2h1v1h-1zM167.6 609.7h1v1h-1zM161.1 609.8h1v1h-1zM143.6 606.3h1v1h-1zM161.8 610.5h1v1h-1zM163.6 610.5h1v1h-1zM156.7 610.0h1v1h-1zM156.6 610.3h1v1h-1zM161.9 611.3h1v1h-1zM158.2 611.4h1v1h-1zM159.0 610.8h1v1h-1zM160.3 611.3h1v1h-1zM151.5 610.3h1v1h-1zM155.4 610.2h1v1h-1zM153.3 611.4h1v1h-1zM164.0 610.0h1v1h-1zM160.0 609.9h1v1h-1zM165.1 609.1h1v1h-1zM158.6 610.2h1v1h-1zM166.0 609.1h1v1h-1zM155.0 609.6h1v1h-1zM158.1 609.1h1v1h-1zM158.9 611.2h1v1h-1zM143.9 611.3h1v1h-1zM164.8 611.0h1v1h-1zM157.1 609.7h1v1h-1zM165.0 610.3h1v1h-1zM161.9 610.2h1v1h-1zM161.5 610.4h1v1h-1zM154.3 612.6h1v1h-1zM154.1 606.9h1v1h-1zM154.5 607.2h1v1h-1zM157.8 608.9h1v1h-1zM155.0 608.4h1v1h-1zM165.7 608.9h1v1h-1zM162.7 611.1h1v1h-1zM138.7 609.5h1v1h-1zM151.7 611.2h1v1h-1zM155.9 608.6h1v1h-1zM157.4 610.9h1v1h-1zM164.9 610.9h1v1h-1zM141.3 606.9h1v1h-1zM153.2 608.6h1v1h-1zM154.2 609.3h1v1h-1zM148.3 609.1h1v1h-1zM164.3 609.9h1v1h-1zM162.6 609.6h1v1h-1zM155.9 610.0h1v1h-1zM163.2 607.4h1v1h-1zM152.1 611.4h1v1h-1zM160.3 611.9h1v1h-1zM167.4 608.9h1v1h-1zM167.0 609.2h1v1h-1zM163.3 609.5h1v1h-1zM163.2 611.9h1v1h-1zM157.6 607.3h1v1h-1zM157.2 608.2h1v1h-1zM145.7 610.0h1v1h-1zM155.0 609.3h1v1h-1zM160.3 609.2h1v1h-1zM162.4 610.8h1v1h-1zM162.3 611.2h1v1h-1zM163.7 609.9h1v1h-1zM155.3 612.8h1v1h-1zM159.3 608.3h1v1h-1zM156.2 609.8h1v1h-1zM159.4 613.1h1v1h-1zM140.5 609.1h1v1h-1zM149.7 607.3h1v1h-1zM158.7 608.1h1v1h-1zM158.5 609.2h1v1h-1zM149.4 610.5h1v1h-1zM165.0 610.7h1v1h-1zM153.1 609.5h1v1h-1zM165.1 611.1h1v1h-1zM163.2 609.0h1v1h-1zM151.7 610.5h1v1h-1zM145.7 611.9h1v1h-1zM160.6 609.0h1v1h-1zM165.8 609.8h1v1h-1zM160.7 609.6h1v1h-1zM166.1 610.8h1v1h-1zM164.9 610.5h1v1h-1zM148.6 605.1h1v1h-1zM153.6 613.6h1v1h-1zM155.1 609.7h1v1h-1zM153.9 612.0h1v1h-1zM154.3 611.0h1v1h-1zM167.1 609.9h1v1h-1zM155.8 614.0h1v1h-1zM152.0 611.4h1v1h-1zM162.8 609.3h1v1h-1zM163.3 611.9h1v1h-1zM160.2 610.1h1v1h-1zM154.6 610.9h1v1h-1zM147.3 608.1h1v1h-1zM148.8 611.2h1v1h-1zM162.0 611.4h1v1h-1zM158.9 611.2h1v1h-1zM167.8 609.0h1v1h-1zM154.4 608.3h1v1h-1zM155.4 608.6h1v1h-1zM158.7 611.0h1v1h-1zM158.5 610.0h1v1h-1zM138.7 609.3h1v1h-1zM164.1 609.3h1v1h-1zM153.0 608.7h1v1h-1zM147.7 610.2h1v1h-1zM161.4 608.7h1v1h-1zM153.5 609.3h1v1h-1zM161.2 609.6h1v1h-1zM157.8 609.1h1v1h-1zM160.8 608.0h1v1h-1zM163.3 609.5h1v1h-1zM145.1 611.8h1v1h-1zM164.6 611.0h1v1h-1zM166.7 610.4h1v1h-1zM161.8 609.3h1v1h-1zM161.9 609.2h1v1h-1zM160.8 609.8h1v1h-1zM161.3 609.3h1v1h-1zM160.4 608.0h1v1h-1zM159.7 610.1h1v1h-1zM144.2 607.7h1v1h-1zM153.5 610.9h1v1h-1zM161.4 609.5h1v1h-1zM164.4 610.1h1v1h-1zM167.1 610.1h1v1h-1zM167.8 610.4h1v1h-1zM160.9 611.2h1v1h-1zM156.9 608.6h1v1h-1zM159.4 609.5h1v1h-1zM160.2 609.3h1v1h-1zM147.9 615.4h1v1h-1zM152.6 607.2h1v1h-1zM164.9 608.7h1v1h-1zM158.8 608.6h1v1h-1zM147.3 607.7h1v1h-1zM164.4 609.0h1v1h-1zM162.1 608.2h1v1h-1zM153.0 611.2h1v1h-1zM167.8 610.3h1v1h-1zM145.2 608.3h1v1h-1zM158.5 607.7h1v1h-1zM150.4 610.7h1v1h-1zM147.7 607.3h1v1h-1zM161.5 610.5h1v1h-1zM164.0 609.0h1v1h-1zM147.6 606.5h1v1h-1zM161.8 611.7h1v1h-1zM146.1 606.3h1v1h-1zM154.3 607.9h1v1h-1zM168.1 609.9h1v1h-1zM161.8 609.4h1v1h-1zM167.0 610.4h1v1h-1zM150.2 609.6h1v1h-1zM166.0 609.0h1v1h-1zM154.2 613.2h1v1h-1zM142.4 610.0h1v1h-1zM146.2 610.7h1v1h-1zM159.0 609.4h1v1h-1zM148.0 607.5h1v1h-1zM156.6 608.5h1v1h-1zM164.3 609.8h1v1h-1zM162.7 608.2h1v1h-1zM139.3 611.5h1v1h-1zM163.2 610.1h1v1h-1zM166.4 610.1h1v1h-1zM155.6 609.1h1v1h-1zM151.2 610.6h1v1h-1zM162.4 608.8h1v1h-1zM159.5 610.0h1v1h-1zM151.1 606.8h1v1h-1zM145.6 610.4h1v1h-1zM142.0 607.6h1v1h-1zM144.2 608.7h1v1h-1zM164.8 609.5h1v1h-1zM159.2 610.5h1v1h-1zM153.3 609.4h1v1h-1zM143.3 610.2h1v1h-1zM138.7 604.2h1v1h-1zM160.9 611.9h1v1h-1zM160.2 610.8h1v1h-1zM155.9 610.9h1v1h-1zM152.9 610.8h1v1h-1zM155.6 610.8h1v1h-1zM152.5 608.8h1v1h-1zM165.1 609.5h1v1h-1zM146.5 612.3h1v1h-1zM163.6 608.2h1v1h-1zM162.9 611.4h1v1h-1zM138.7 604.3h1v1h-1zM163.8 611.0h1v1h-1zM155.2 608.6h1v1h-1zM140.1 609.3h1v1h-1zM161.6 609.1h1v1h-1zM150.5 610.8h1v1h-1zM155.1 610.8h1v1h-1zM151.3 612.7h1v1h-1zM153.6 609.2h1v1h-1zM167.7 609.9h1v1h-1zM161.9 609.2h1v1h-1zM161.9 607.8h1v1h-1zM164.4 609.6h1v1h-1zM161.7 608.8h1v1h-1zM149.4 616.1h1v1h-1zM157.4 611.4h1v1h-1zM163.5 609.8h1v1h-1zM151.6 612.5h1v1h-1zM164.7 607.9h1v1h-1zM151.9 610.7h1v1h-1zM164.3 610.1h1v1h-1zM153.4 606.3h1v1h-1zM167.5 609.7h1v1h-1zM163.8 608.6h1v1h-1zM167.4 609.5h1v1h-1zM165.6 609.1h1v1h-1zM167.2 610.4h1v1h-1zM143.2 615.0h1v1h-1zM165.8 610.1h1v1h-1zM156.2 606.8h1v1h-1zM163.7 610.3h1v1h-1zM156.5 609.4h1v1h-1zM168.0 610.0h1v1h-1zM159.4 608.0h1v1h-1zM165.3 610.0h1v1h-1zM151.7 611.4h1v1h-1zM158.5 610.9h1v1h-1zM159.6 610.0h1v1h-1zM162.9 609.6h1v1h-1zM162.4 610.2h1v1h-1zM167.2 609.5h1v1h-1zM138.7 607.3h1v1h-1zM151.0 605.6h1v1h-1zM166.6 610.3h1v1h-1zM166.5 609.9h1v1h-1zM164.8 609.9h1v1h-1zM167.8 609.3h1v1h-1zM145.9 609.7h1v1h-1zM147.4 607.8h1v1h-1zM152.5 609.4h1v1h-1zM165.4 609.3h1v1h-1zM155.5 609.8h1v1h-1zM153.3 608.3h1v1h-1zM165.3 609.5h1v1h-1zM163.7 610.6h1v1h-1zM155.5 610.6h1v1h-1zM165.3 609.9h1v1h-1zM162.0 609.8h1v1h-1zM154.5 611.6h1v1h-1zM154.8 610.4h1v1h-1zM165.0 610.6h1v1h-1zM155.9 609.2h1v1h-1zM161.0 611.8h1v1h-1zM144.6 611.3h1v1h-1zM152.9 610.8h1v1h-1zM153.2 609.9h1v1h-1zM160.9 611.2h1v1h-1zM159.2 611.0h1v1h-1zM143.9 609.0h1v1h-1zM160.9 611.1h1v1h-1zM146.3 611.5h1v1h-1zM160.2 610.5h1v1h-1zM161.5 608.6h1v1h-1zM154.3 609.4h1v1h-1zM160.7 610.4h1v1h-1zM149.1 608.8h1v1h-1zM150.1 611.3h1v1h-1zM159.1 610.8h1v1h-1zM150.8 608.8h1v1h-1zM153.9 607.6h1v1h-1zM146.4 609.7h1v1h-1zM167.5 610.3h1v1h-1zM156.3 609.8h1v1h-1zM148.7 611.9h1v1h-1zM162.0 610.4h1v1h-1zM162.4 609.7h1v1h-1zM149.4 610.1h1v1h-1zM154.3 608.1h1v1h-1zM150.8 610.6h1v1h-1zM164.4 607.9h1v1h-1zM165.6 610.3h1v1h-1zM166.5 610.6h1v1h-1zM157.0 610.5h1v1h-1zM164.4 609.1h1v1h-1zM153.8 610.2h1v1h-1zM164.7 610.1h1v1h-1zM158.4 607.0h1v1h-1zM154.0 611.4h1v1h-1zM161.4 610.5h1v1h-1zM161.0 609.4h1v1h-1zM145.3 603.9h1v1h-1zM167.1 611.0h1v1h-1zM147.7 609.9h1v1h-1zM162.7 608.9h1v1h-1zM166.6 610.0h1v1h-1zM156.7 608.6h1v1h-1zM157.1 611.1h1v1h-1zM160.8 608.5h1v1h-1zM158.7 610.4h1v1h-1zM158.1 610.2h1v1h-1zM156.9 609.8h1v1h-1zM155.1 608.9h1v1h-1zM141.7 609.9h1v1h-1zM167.8 610.7h1v1h-1zM157.9 610.0h1v1h-1zM161.5 609.4h1v1h-1zM155.5 608.8h1v1h-1zM161.2 609.9h1v1h-1zM138.7 613.8h1v1h-1zM167.2 609.9h1v1h-1zM148.5 608.6h1v1h-1zM165.2 610.1h1v1h-1zM151.9 609.8h1v1h-1zM166.8 609.8h1v1h-1zM159.1 609.9h1v1h-1zM164.7 609.3h1v1h-1zM158.7 610.2h1v1h-1zM167.2 609.5h1v1h-1zM160.8 610.4h1v1h-1zM154.6 610.5h1v1h-1zM161.6 609.0h1v1h-1zM159.8 609.8h1v1h-1zM154.0 612.1h1v1h-1zM166.5 609.5h1v1h-1zM163.2 610.1h1v1h-1zM160.7 612.1h1v1h-1zM153.1 607.3h1v1h-1zM165.8 609.7h1v1h-1zM165.4 609.3h1v1h-1zM156.2 610.8h1v1h-1zM162.9 611.2h1v1h-1zM161.7 609.4h1v1h-1zM167.9 610.1h1v1h-1zM145.3 611.2h1v1h-1zM166.1 609.4h1v1h-1zM167.9 609.4h1v1h-1zM168.1 609.8h1v1h-1zM168.0 609.6h1v1h-1zM159.7 608.8h1v1h-1zM154.6 611.6h1v1h-1zM148.6 612.8h1v1h-1zM157.7 609.0h1v1h-1zM167.3 608.9h1v1h-1zM147.5 613.3h1v1h-1zM163.0 610.2h1v1h-1zM147.1 608.1h1v1h-1zM156.0 611.1h1v1h-1zM141.6 612.9h1v1h-1zM167.7 610.4h1v1h-1zM156.4 609.5h1v1h-1zM156.4 608.9h1v1h-1zM161.3 609.8h1v1h-1zM159.8 608.6h1v1h-1zM153.9 611.8h1v1h-1zM159.6 608.8h1v1h-1zM163.2 610.2h1v1h-1zM152.3 608.7h1v1h-1zM166.4 609.0h1v1h-1zM155.9 607.3h1v1h-1zM163.0 609.0h1v1h-1zM142.2 611.6h1v1h-1zM146.3 612.2h1v1h-1zM166.1 610.1h1v1h-1zM161.9 608.8h1v1h-1zM147.2 610.2h1v1h-1zM163.7 609.2h1v1h-1zM153.0 610.4h1v1h-1zM137.2 606.1h1v1h-1zM144.7 614.6h1v1h-1zM143.5 610.9h1v1h-1zM134.9 608.4h1v1h-1zM162.8 610.5h1v1h-1zM134.4 605.2h1v1h-1zM157.4 609.8h1v1h-1zM153.8 603.2h1v1h-1zM151.5 610.6h1v1h-1zM135.1 609.1h1v1h-1zM142.5 608.3h1v1h-1zM159.6 609.8h1v1h-1zM152.5 608.4h1v1h-1zM156.8 611.1h1v1h-1zM154.3 617.3h1v1h-1zM147.3 610.4h1v1h-1zM136.2 613.4h1v1h-1zM137.2 610.9h1v1h-1zM146.1 614.0h1v1h-1zM152.9 609.3h1v1h-1zM150.6 607.8h1v1h-1zM140.5 608.9h1v1h-1zM159.7 609.4h1v1h-1zM152.7 607.9h1v1h-1zM162.2 612.9h1v1h-1zM143.1 606.3h1v1h-1zM137.3 605.7h1v1h-1zM157.8 607.3h1v1h-1zM153.3 615.7h1v1h-1zM143.3 612.9h1v1h-1zM133.7 606.9h1v1h-1zM149.1 609.6h1v1h-1zM162.6 606.8h1v1h-1zM146.7 608.8h1v1h-1zM159.6 607.2h1v1h-1zM141.2 608.6h1v1h-1zM146.5 605.2h1v1h-1zM136.6 610.0h1v1h-1zM146.3 613.4h1v1h-1zM161.6 609.5h1v1h-1zM161.8 613.6h1v1h-1zM163.2 615.6h1v1h-1zM158.3 611.3h1v1h-1zM138.3 607.3h1v1h-1zM156.1 611.3h1v1h-1zM134.8 606.2h1v1h-1zM154.8 610.6h1v1h-1zM150.6 610.7h1v1h-1zM135.5 609.2h1v1h-1zM143.8 606.7h1v1h-1zM146.5 614.1h1v1h-1zM143.2 612.1h1v1h-1zM153.9 612.0h1v1h-1zM147.8 607.1h1v1h-1zM146.5 607.5h1v1h-1zM150.7 631.7h1v1h-1zM156.5 636.4h1v1h-1zM118.8 603.7h1v1h-1zM107.2 613.8h1v1h-1zM140.6 600.2h1v1h-1zM147.8 598.2h1v1h-1z" fill="#2b5e9c" fill-opacity="0.8"/>
<path d="M149.0 609.0 L162.1 607.4 L168.9 610.4 L162.1 613.4 L149.0 611.8 Z" fill="#1d4f8c"/>
<path d="M151.2 610.6 L162.1 610.6" stroke="#fff" stroke-opacity="0.5" stroke-width="0.6"/>
<rect x="30.80" y="543.20" width="142.70" height="134.80" fill="none" stroke="#333" stroke-width="1.2" />
<line x1="28.20" y1="548.00" x2="30.80" y2="548.00" stroke="#222" stroke-width="0.9" />
<text x="25.90" y="551.10" font-size="8.6" fill="#222" stroke="#222" stroke-width="0.15" text-anchor="end" textLength="4.4" lengthAdjust="spacingAndGlyphs" >4</text>
<line x1="28.20" y1="579.20" x2="30.80" y2="579.20" stroke="#222" stroke-width="0.9" />
<text x="25.90" y="582.30" font-size="8.6" fill="#222" stroke="#222" stroke-width="0.15" text-anchor="end" textLength="4.4" lengthAdjust="spacingAndGlyphs" >2</text>
<line x1="28.20" y1="610.40" x2="30.80" y2="610.40" stroke="#222" stroke-width="0.9" />
<text x="25.90" y="613.50" font-size="8.6" fill="#222" stroke="#222" stroke-width="0.15" text-anchor="end" textLength="4.4" lengthAdjust="spacingAndGlyphs" >0</text>
<line x1="28.20" y1="641.60" x2="30.80" y2="641.60" stroke="#222" stroke-width="0.9" />
<text x="25.90" y="644.70" font-size="8.6" fill="#222" stroke="#222" stroke-width="0.15" text-anchor="end" textLength="8.2" lengthAdjust="spacingAndGlyphs" >−2</text>
<line x1="28.20" y1="672.80" x2="30.80" y2="672.80" stroke="#222" stroke-width="0.9" />
<text x="25.90" y="675.90" font-size="8.6" fill="#222" stroke="#222" stroke-width="0.15" text-anchor="end" textLength="8.2" lengthAdjust="spacingAndGlyphs" >−4</text>
<line x1="52.60" y1="678.00" x2="52.60" y2="680.60" stroke="#222" stroke-width="0.9" />
<text x="54.90" y="689.90" font-size="7.8" fill="#222" stroke="#222" stroke-width="0.15" text-anchor="end" textLength="7.8" lengthAdjust="spacingAndGlyphs" >−8</text>
<line x1="81.60" y1="678.00" x2="81.60" y2="680.60" stroke="#222" stroke-width="0.9" />
<text x="83.90" y="689.90" font-size="7.8" fill="#222" stroke="#222" stroke-width="0.15" text-anchor="end" textLength="7.8" lengthAdjust="spacingAndGlyphs" >−6</text>
<line x1="110.60" y1="678.00" x2="110.60" y2="680.60" stroke="#222" stroke-width="0.9" />
<text x="112.90" y="689.90" font-size="7.8" fill="#222" stroke="#222" stroke-width="0.15" text-anchor="end" textLength="7.8" lengthAdjust="spacingAndGlyphs" >−4</text>
<line x1="139.60" y1="678.00" x2="139.60" y2="680.60" stroke="#222" stroke-width="0.9" />
<text x="141.90" y="689.90" font-size="7.8" fill="#222" stroke="#222" stroke-width="0.15" text-anchor="end" textLength="7.8" lengthAdjust="spacingAndGlyphs" >−2</text>
<line x1="168.60" y1="678.00" x2="168.60" y2="680.60" stroke="#222" stroke-width="0.9" />
<text x="168.60" y="689.90" font-size="7.8" fill="#222" stroke="#222" stroke-width="0.15" text-anchor="middle" textLength="4.3" lengthAdjust="spacingAndGlyphs" >0</text>
<text x="106.97" y="704.60" font-size="8.8" fill="#222" stroke="#222" stroke-width="0.15" text-anchor="middle" textLength="45.0" lengthAdjust="spacingAndGlyphs" >log10 <tspan font-style="italic">P</tspan> value</text>
<text x="33.90" y="606.85" font-size="6.8" fill="#222" stroke="#222" stroke-width="0.15" textLength="60.6" lengthAdjust="spacingAndGlyphs" >1.5 –fold upregulated</text>
<text x="33.90" y="617.25" font-size="6.8" fill="#222" stroke="#222" stroke-width="0.15" textLength="69.2" lengthAdjust="spacingAndGlyphs" >1.5 –fold downregulated</text>
<text x="34.90" y="551.84" font-size="7.6" fill="#222" stroke="#222" stroke-width="0.15" textLength="12.1" lengthAdjust="spacingAndGlyphs" >Hits</text>
<circle cx="32.80" cy="549.00" r="0.8" fill="#cc1a3a"/>
<text x="128.80" y="675.19" font-size="7.2" fill="#222" stroke="#222" stroke-width="0.15" textLength="23.5" lengthAdjust="spacingAndGlyphs" >P = .001</text>
<circle cx="72.90" cy="632.55" r="0.85" fill="#cc1a3a"/>
<text x="75.50" y="634.26" font-size="6.0" fill="#333" stroke="#333" stroke-width="0.15" textLength="11.7" lengthAdjust="spacingAndGlyphs" >IKZF1</text>
<circle cx="102.62" cy="629.43" r="0.85" fill="#cc1a3a"/>
<text x="105.60" y="634.26" font-size="6.0" fill="#333" stroke="#333" stroke-width="0.15" textLength="16.2" lengthAdjust="spacingAndGlyphs" >ZNF827</text>
<circle cx="116.40" cy="620.07" r="0.85" fill="#cc1a3a"/>
<text x="118.40" y="624.96" font-size="6.0" fill="#333" stroke="#333" stroke-width="0.15" textLength="9.6" lengthAdjust="spacingAndGlyphs" >IL10</text>
<circle cx="32.30" cy="549.25" r="0.85" fill="#cc1a3a"/>
<ellipse cx="79.60" cy="632.10" rx="10.70" ry="6.60" fill="none" fill-opacity="1" stroke="#333" stroke-width="0.95" stroke-dasharray="1.8,1.1"/>
<text transform="translate(15.00,677.10) rotate(-90)" font-size="8.6" fill="#222" textLength="132.1" lengthAdjust="spacingAndGlyphs"><tspan fill="#cc1a3a">Len</tspan> – DMSO relative abundance log<tspan font-size="5.8" dy="1.8">2</tspan><tspan dy="-1.8">FC</tspan></text>
<line x1="295.60" y1="543.20" x2="295.60" y2="678.00" stroke="#444" stroke-width="0.8" stroke-dasharray="0.9,1.1" />
<line x1="201.00" y1="601.27" x2="344.00" y2="601.27" stroke="#444" stroke-width="0.8" stroke-dasharray="0.9,1.1" />
<line x1="201.00" y1="619.53" x2="344.00" y2="619.53" stroke="#444" stroke-width="0.8" stroke-dasharray="0.9,1.1" />
<path d="M299.5 611.9h1v1h-1zM331.7 609.8h1v1h-1zM324.1 611.9h1v1h-1zM331.4 610.6h1v1h-1zM319.9 611.3h1v1h-1zM329.7 610.2h1v1h-1zM322.8 609.3h1v1h-1zM329.1 613.4h1v1h-1zM317.9 610.6h1v1h-1zM325.7 609.6h1v1h-1zM334.6 609.9h1v1h-1zM323.7 609.6h1v1h-1zM311.8 606.7h1v1h-1zM316.6 610.3h1v1h-1zM338.3 609.8h1v1h-1zM334.3 609.5h1v1h-1zM299.5 610.6h1v1h-1zM333.6 610.3h1v1h-1zM314.2 612.2h1v1h-1zM334.9 611.4h1v1h-1zM336.1 611.0h1v1h-1zM308.9 604.6h1v1h-1zM328.6 610.1h1v1h-1zM337.9 610.7h1v1h-1zM317.8 609.4h1v1h-1zM299.5 609.5h1v1h-1zM305.8 609.9h1v1h-1zM316.7 606.8h1v1h-1zM323.0 610.9h1v1h-1zM302.9 612.5h1v1h-1zM335.3 610.7h1v1h-1zM335.9 609.3h1v1h-1zM335.3 610.3h1v1h-1zM327.1 610.4h1v1h-1zM325.9 610.5h1v1h-1zM312.3 610.8h1v1h-1zM317.6 610.0h1v1h-1zM325.1 611.3h1v1h-1zM334.1 609.4h1v1h-1zM299.5 610.4h1v1h-1zM333.7 610.1h1v1h-1zM326.6 611.7h1v1h-1zM329.1 610.3h1v1h-1zM338.4 610.1h1v1h-1zM330.6 610.5h1v1h-1zM333.4 608.3h1v1h-1zM322.0 608.7h1v1h-1zM330.7 610.5h1v1h-1zM329.8 607.8h1v1h-1zM314.1 608.4h1v1h-1zM322.4 609.6h1v1h-1zM326.3 608.2h1v1h-1zM301.1 606.3h1v1h-1zM310.8 609.3h1v1h-1zM325.3 609.8h1v1h-1zM334.7 610.3h1v1h-1zM327.8 608.3h1v1h-1zM334.7 609.8h1v1h-1zM328.6 609.9h1v1h-1zM323.0 609.6h1v1h-1zM317.1 611.9h1v1h-1zM326.6 609.2h1v1h-1zM320.0 609.5h1v1h-1zM335.7 611.0h1v1h-1zM314.8 611.8h1v1h-1zM320.9 611.8h1v1h-1zM326.3 609.7h1v1h-1zM330.5 610.6h1v1h-1zM323.4 609.0h1v1h-1zM332.2 610.2h1v1h-1zM323.6 610.6h1v1h-1zM328.9 610.0h1v1h-1zM325.6 610.2h1v1h-1zM324.3 610.8h1v1h-1zM316.5 609.6h1v1h-1zM334.8 609.7h1v1h-1zM328.5 609.8h1v1h-1zM318.2 608.5h1v1h-1zM299.5 610.3h1v1h-1zM299.5 613.8h1v1h-1zM336.5 609.3h1v1h-1zM338.5 609.3h1v1h-1zM316.4 612.3h1v1h-1zM335.2 610.4h1v1h-1zM319.8 608.9h1v1h-1zM333.9 609.9h1v1h-1zM331.5 609.7h1v1h-1zM336.5 610.3h1v1h-1zM329.7 609.5h1v1h-1zM337.2 609.5h1v1h-1zM319.3 610.1h1v1h-1zM329.5 608.5h1v1h-1zM329.7 607.7h1v1h-1zM311.2 610.7h1v1h-1zM319.6 609.1h1v1h-1zM333.7 610.0h1v1h-1zM320.1 608.9h1v1h-1zM335.4 609.6h1v1h-1zM333.2 610.6h1v1h-1zM299.6 610.7h1v1h-1zM327.5 610.5h1v1h-1zM321.9 610.1h1v1h-1zM312.3 609.5h1v1h-1zM326.6 609.3h1v1h-1zM324.6 611.6h1v1h-1zM319.6 609.7h1v1h-1zM321.6 608.9h1v1h-1zM332.6 608.8h1v1h-1zM325.9 609.4h1v1h-1zM310.2 606.0h1v1h-1zM312.7 608.2h1v1h-1zM330.6 608.7h1v1h-1zM323.5 608.9h1v1h-1zM338.2 610.4h1v1h-1zM332.2 609.6h1v1h-1zM308.9 607.7h1v1h-1zM310.7 614.4h1v1h-1zM337.2 610.0h1v1h-1zM322.3 612.1h1v1h-1zM335.2 610.7h1v1h-1zM326.6 608.8h1v1h-1zM334.4 610.5h1v1h-1zM319.0 610.2h1v1h-1zM308.4 611.1h1v1h-1zM308.5 611.8h1v1h-1zM334.9 609.4h1v1h-1zM325.1 609.8h1v1h-1zM315.0 608.6h1v1h-1zM318.5 611.0h1v1h-1zM335.4 610.2h1v1h-1zM301.0 602.0h1v1h-1zM327.7 608.9h1v1h-1zM331.9 609.7h1v1h-1zM299.5 615.4h1v1h-1zM333.1 610.2h1v1h-1zM335.0 609.4h1v1h-1zM326.0 611.6h1v1h-1zM318.9 609.1h1v1h-1zM322.1 608.7h1v1h-1zM310.8 611.1h1v1h-1zM321.3 608.8h1v1h-1zM335.7 610.4h1v1h-1zM323.3 610.9h1v1h-1zM333.5 610.7h1v1h-1zM308.2 610.0h1v1h-1zM329.9 610.2h1v1h-1zM334.6 609.8h1v1h-1zM308.9 612.7h1v1h-1zM329.8 608.8h1v1h-1zM321.0 609.7h1v1h-1zM328.5 612.4h1v1h-1zM333.2 610.8h1v1h-1zM323.4 610.2h1v1h-1zM337.9 610.7h1v1h-1zM336.1 611.1h1v1h-1zM334.8 608.9h1v1h-1zM317.5 608.3h1v1h-1zM314.2 610.3h1v1h-1zM319.2 609.8h1v1h-1zM330.0 612.0h1v1h-1zM319.8 612.4h1v1h-1zM299.5 609.1h1v1h-1zM335.5 610.8h1v1h-1zM308.6 612.7h1v1h-1zM312.8 607.6h1v1h-1zM337.4 610.3h1v1h-1zM337.8 610.6h1v1h-1zM327.3 607.9h1v1h-1zM323.1 608.4h1v1h-1zM326.4 609.5h1v1h-1zM320.7 610.6h1v1h-1zM325.9 606.7h1v1h-1zM337.4 609.9h1v1h-1zM305.6 609.4h1v1h-1zM322.7 612.0h1v1h-1zM312.6 609.6h1v1h-1zM331.6 609.3h1v1h-1zM334.5 609.9h1v1h-1zM313.0 608.2h1v1h-1zM325.2 607.9h1v1h-1zM334.8 610.6h1v1h-1zM324.7 612.0h1v1h-1zM332.4 610.3h1v1h-1zM329.7 609.0h1v1h-1zM324.4 609.6h1v1h-1zM316.4 609.7h1v1h-1zM322.3 610.2h1v1h-1zM322.0 610.3h1v1h-1zM305.7 608.1h1v1h-1zM329.6 608.5h1v1h-1zM317.1 609.7h1v1h-1zM332.6 610.1h1v1h-1zM331.9 610.6h1v1h-1zM319.8 612.3h1v1h-1zM328.7 610.8h1v1h-1zM334.5 610.2h1v1h-1zM327.0 610.8h1v1h-1zM305.3 610.9h1v1h-1zM331.3 611.2h1v1h-1zM334.1 609.4h1v1h-1zM326.4 609.7h1v1h-1zM331.1 607.5h1v1h-1zM314.1 607.4h1v1h-1zM326.6 609.1h1v1h-1zM335.7 609.7h1v1h-1zM328.5 609.7h1v1h-1zM325.1 609.5h1v1h-1zM307.6 613.3h1v1h-1zM315.4 608.9h1v1h-1zM324.6 610.4h1v1h-1zM328.2 609.4h1v1h-1zM328.9 608.4h1v1h-1zM327.1 609.1h1v1h-1zM335.1 610.4h1v1h-1zM329.7 611.3h1v1h-1zM312.4 607.5h1v1h-1zM319.0 606.9h1v1h-1zM320.2 610.8h1v1h-1zM323.0 613.2h1v1h-1zM337.2 610.8h1v1h-1zM310.8 613.8h1v1h-1zM337.5 611.4h1v1h-1zM332.3 608.7h1v1h-1zM330.6 610.7h1v1h-1zM330.1 609.5h1v1h-1zM322.9 610.3h1v1h-1zM302.2 609.0h1v1h-1zM321.4 606.2h1v1h-1zM335.7 609.8h1v1h-1zM328.9 609.1h1v1h-1zM307.3 612.5h1v1h-1zM337.2 610.5h1v1h-1zM326.3 610.1h1v1h-1zM329.9 610.8h1v1h-1zM333.2 608.8h1v1h-1zM329.7 609.2h1v1h-1zM331.6 610.1h1v1h-1zM331.2 609.4h1v1h-1zM338.5 609.4h1v1h-1zM338.6 609.5h1v1h-1zM338.3 609.5h1v1h-1zM326.5 610.6h1v1h-1zM317.9 607.7h1v1h-1zM329.6 609.7h1v1h-1zM327.7 610.9h1v1h-1zM336.9 610.2h1v1h-1zM305.3 610.6h1v1h-1zM323.0 607.8h1v1h-1zM325.2 610.8h1v1h-1zM321.2 609.9h1v1h-1zM314.7 609.4h1v1h-1zM325.1 607.6h1v1h-1zM319.6 611.2h1v1h-1zM299.5 612.0h1v1h-1zM305.3 610.2h1v1h-1zM321.4 609.4h1v1h-1zM333.3 609.9h1v1h-1zM299.5 603.7h1v1h-1zM310.2 606.0h1v1h-1zM322.1 613.0h1v1h-1zM325.5 609.4h1v1h-1zM337.9 610.0h1v1h-1zM325.9 609.2h1v1h-1zM334.0 609.5h1v1h-1zM334.9 610.2h1v1h-1zM313.8 610.4h1v1h-1zM303.2 608.1h1v1h-1zM337.5 609.3h1v1h-1zM329.7 610.1h1v1h-1zM332.5 609.9h1v1h-1zM326.5 607.2h1v1h-1zM329.3 611.1h1v1h-1zM323.9 612.5h1v1h-1zM325.7 608.7h1v1h-1zM332.7 609.6h1v1h-1zM329.3 609.4h1v1h-1zM327.2 609.6h1v1h-1zM321.0 608.4h1v1h-1zM314.8 613.3h1v1h-1zM334.4 610.8h1v1h-1zM329.6 610.2h1v1h-1zM313.3 607.5h1v1h-1zM330.3 610.4h1v1h-1zM328.1 609.2h1v1h-1zM321.9 609.2h1v1h-1zM313.6 607.7h1v1h-1zM330.2 611.1h1v1h-1zM324.6 609.7h1v1h-1zM333.7 612.2h1v1h-1zM335.0 608.8h1v1h-1zM330.6 611.3h1v1h-1zM317.0 609.4h1v1h-1zM335.2 609.5h1v1h-1zM316.6 611.2h1v1h-1zM318.4 612.0h1v1h-1zM332.8 610.8h1v1h-1zM310.0 608.7h1v1h-1zM323.9 612.3h1v1h-1zM334.6 610.0h1v1h-1zM335.8 609.6h1v1h-1zM324.3 611.2h1v1h-1zM321.7 606.3h1v1h-1zM301.7 610.7h1v1h-1zM324.5 609.6h1v1h-1zM330.3 608.1h1v1h-1zM334.3 610.5h1v1h-1zM320.1 611.1h1v1h-1zM323.2 609.1h1v1h-1zM335.1 610.7h1v1h-1zM333.8 610.2h1v1h-1zM334.5 610.5h1v1h-1zM328.4 610.3h1v1h-1zM327.8 608.6h1v1h-1zM322.0 608.7h1v1h-1zM328.2 610.3h1v1h-1zM334.9 611.0h1v1h-1zM334.3 610.7h1v1h-1zM323.2 609.5h1v1h-1zM325.4 609.7h1v1h-1zM331.4 608.9h1v1h-1zM331.6 608.9h1v1h-1zM325.2 610.4h1v1h-1zM327.2 608.5h1v1h-1zM330.7 610.4h1v1h-1zM319.5 611.6h1v1h-1zM318.9 611.6h1v1h-1zM334.4 609.4h1v1h-1zM331.0 610.6h1v1h-1zM303.5 609.5h1v1h-1zM333.8 609.3h1v1h-1zM333.0 609.3h1v1h-1zM336.0 610.5h1v1h-1zM321.7 609.3h1v1h-1zM336.9 610.0h1v1h-1zM330.5 610.2h1v1h-1zM324.7 608.4h1v1h-1zM334.1 609.7h1v1h-1zM305.8 612.9h1v1h-1zM326.1 611.1h1v1h-1zM326.5 612.5h1v1h-1zM330.1 609.2h1v1h-1zM299.9 611.4h1v1h-1zM330.7 608.4h1v1h-1zM322.2 611.3h1v1h-1zM332.3 610.9h1v1h-1zM337.4 609.5h1v1h-1zM314.8 608.8h1v1h-1zM322.9 608.3h1v1h-1zM324.2 609.0h1v1h-1zM321.5 610.2h1v1h-1zM321.8 609.7h1v1h-1zM335.9 609.5h1v1h-1zM307.2 610.8h1v1h-1zM303.2 606.3h1v1h-1zM336.0 610.1h1v1h-1zM333.9 610.7h1v1h-1zM330.6 609.9h1v1h-1zM317.6 610.0h1v1h-1zM334.0 610.9h1v1h-1zM330.7 611.4h1v1h-1zM337.9 609.8h1v1h-1zM329.5 609.8h1v1h-1zM329.0 609.2h1v1h-1zM315.2 610.5h1v1h-1zM313.4 613.9h1v1h-1zM320.8 608.7h1v1h-1zM316.4 608.4h1v1h-1zM329.8 609.7h1v1h-1zM329.1 608.4h1v1h-1zM299.5 608.7h1v1h-1zM328.9 609.1h1v1h-1zM317.6 611.1h1v1h-1zM314.8 607.7h1v1h-1zM311.0 605.8h1v1h-1zM317.9 612.4h1v1h-1zM322.1 611.0h1v1h-1zM334.7 609.9h1v1h-1zM320.7 607.3h1v1h-1zM312.6 609.7h1v1h-1zM311.0 609.9h1v1h-1zM334.1 610.1h1v1h-1zM315.5 610.6h1v1h-1zM321.9 609.3h1v1h-1zM336.0 610.3h1v1h-1zM316.2 609.2h1v1h-1zM306.7 610.9h1v1h-1zM331.8 610.6h1v1h-1zM334.5 610.0h1v1h-1zM338.0 609.0h1v1h-1zM324.7 610.8h1v1h-1zM331.5 610.1h1v1h-1zM333.3 610.1h1v1h-1zM337.4 609.5h1v1h-1zM320.9 609.8h1v1h-1zM324.5 609.9h1v1h-1zM335.3 610.1h1v1h-1zM317.4 610.1h1v1h-1zM306.9 606.7h1v1h-1zM325.8 608.9h1v1h-1zM322.3 609.5h1v1h-1zM316.2 610.3h1v1h-1zM320.0 610.1h1v1h-1zM299.5 607.1h1v1h-1zM331.0 611.2h1v1h-1zM326.4 608.5h1v1h-1zM327.4 609.1h1v1h-1zM311.7 609.4h1v1h-1zM314.0 610.3h1v1h-1zM326.6 610.3h1v1h-1zM320.4 609.3h1v1h-1zM326.4 609.4h1v1h-1zM333.1 608.5h1v1h-1zM307.7 611.2h1v1h-1zM335.6 610.0h1v1h-1zM327.9 607.8h1v1h-1zM317.0 610.3h1v1h-1zM314.5 611.2h1v1h-1zM338.1 609.1h1v1h-1zM316.3 607.1h1v1h-1zM313.7 609.2h1v1h-1zM318.4 610.7h1v1h-1zM299.5 608.1h1v1h-1zM338.1 610.4h1v1h-1zM301.5 610.1h1v1h-1zM338.1 610.6h1v1h-1zM330.2 610.0h1v1h-1zM318.7 611.3h1v1h-1zM299.5 607.7h1v1h-1zM321.6 610.2h1v1h-1zM316.5 612.1h1v1h-1zM333.1 610.6h1v1h-1zM333.8 610.6h1v1h-1zM323.1 608.2h1v1h-1zM328.1 610.8h1v1h-1zM299.5 609.8h1v1h-1zM332.3 610.7h1v1h-1zM319.4 611.1h1v1h-1zM317.8 608.4h1v1h-1zM330.8 611.9h1v1h-1zM326.2 611.6h1v1h-1zM334.5 609.8h1v1h-1zM330.4 609.8h1v1h-1zM323.2 610.4h1v1h-1zM316.3 611.8h1v1h-1zM324.3 607.5h1v1h-1zM335.3 609.7h1v1h-1zM324.3 610.7h1v1h-1zM322.1 610.7h1v1h-1zM335.8 609.8h1v1h-1zM318.7 609.5h1v1h-1zM337.3 610.1h1v1h-1zM329.1 608.8h1v1h-1zM301.6 614.4h1v1h-1zM321.0 611.5h1v1h-1zM327.6 610.3h1v1h-1zM330.6 610.3h1v1h-1zM327.9 607.8h1v1h-1zM313.1 611.3h1v1h-1zM324.8 609.7h1v1h-1zM315.9 610.0h1v1h-1zM336.9 608.8h1v1h-1zM327.7 610.0h1v1h-1zM337.0 608.9h1v1h-1zM336.4 610.3h1v1h-1zM327.6 610.3h1v1h-1zM323.5 611.4h1v1h-1zM328.3 609.9h1v1h-1zM322.3 608.9h1v1h-1zM331.5 609.5h1v1h-1zM330.0 608.4h1v1h-1zM308.7 612.0h1v1h-1zM315.5 612.2h1v1h-1zM330.6 609.4h1v1h-1zM338.3 609.9h1v1h-1zM312.5 608.0h1v1h-1zM335.0 609.5h1v1h-1zM312.4 607.4h1v1h-1zM303.0 609.5h1v1h-1zM331.0 608.7h1v1h-1zM329.9 609.8h1v1h-1zM328.1 610.1h1v1h-1zM326.5 612.3h1v1h-1zM299.5 607.7h1v1h-1zM329.5 609.7h1v1h-1zM331.8 609.9h1v1h-1zM331.0 611.0h1v1h-1zM334.3 610.5h1v1h-1zM302.6 608.9h1v1h-1zM333.9 609.1h1v1h-1zM322.3 608.5h1v1h-1zM327.3 609.7h1v1h-1zM323.3 609.6h1v1h-1zM336.5 610.2h1v1h-1zM335.3 609.0h1v1h-1zM317.8 612.4h1v1h-1zM317.8 612.7h1v1h-1zM316.6 606.4h1v1h-1zM330.0 609.8h1v1h-1zM314.7 607.8h1v1h-1zM299.5 610.1h1v1h-1zM299.5 611.1h1v1h-1zM326.4 610.7h1v1h-1zM311.4 610.9h1v1h-1zM331.3 608.8h1v1h-1zM335.4 609.9h1v1h-1zM320.8 611.9h1v1h-1zM319.9 612.0h1v1h-1zM320.0 607.8h1v1h-1zM312.6 610.3h1v1h-1zM324.2 609.8h1v1h-1zM316.1 608.9h1v1h-1zM330.3 610.0h1v1h-1zM322.6 612.8h1v1h-1zM318.4 607.2h1v1h-1zM330.4 609.2h1v1h-1zM305.9 612.1h1v1h-1zM331.3 610.0h1v1h-1zM318.1 610.9h1v1h-1zM336.3 610.3h1v1h-1zM334.8 609.6h1v1h-1zM331.4 609.0h1v1h-1zM317.0 608.5h1v1h-1zM330.7 610.7h1v1h-1zM316.0 611.2h1v1h-1zM332.4 609.4h1v1h-1zM314.1 610.7h1v1h-1zM313.1 609.0h1v1h-1zM325.5 608.9h1v1h-1zM337.4 610.3h1v1h-1zM336.1 609.1h1v1h-1zM332.5 610.1h1v1h-1zM324.6 611.8h1v1h-1zM327.3 608.3h1v1h-1zM318.8 611.8h1v1h-1zM323.9 610.2h1v1h-1zM325.8 609.9h1v1h-1zM321.5 609.5h1v1h-1zM328.7 609.4h1v1h-1zM328.9 609.0h1v1h-1zM312.0 611.3h1v1h-1zM337.3 609.2h1v1h-1zM332.1 609.4h1v1h-1zM310.4 605.4h1v1h-1zM308.7 611.8h1v1h-1zM333.9 609.5h1v1h-1zM326.9 609.3h1v1h-1zM336.7 609.9h1v1h-1zM315.1 608.5h1v1h-1zM332.9 610.4h1v1h-1zM307.6 609.9h1v1h-1zM327.6 609.2h1v1h-1zM330.8 609.3h1v1h-1zM337.2 609.5h1v1h-1zM336.3 609.2h1v1h-1zM332.8 610.6h1v1h-1zM321.3 609.0h1v1h-1zM322.3 612.1h1v1h-1zM327.9 610.0h1v1h-1zM333.6 610.5h1v1h-1zM319.7 610.9h1v1h-1zM324.9 610.4h1v1h-1zM336.6 609.9h1v1h-1zM306.0 612.3h1v1h-1zM331.3 609.8h1v1h-1zM327.8 611.1h1v1h-1zM314.2 609.4h1v1h-1zM331.9 609.4h1v1h-1zM327.4 611.7h1v1h-1zM320.2 610.1h1v1h-1zM302.7 610.9h1v1h-1zM301.9 610.2h1v1h-1zM335.1 609.7h1v1h-1zM334.8 610.3h1v1h-1zM310.3 610.3h1v1h-1zM333.3 610.4h1v1h-1zM337.4 610.1h1v1h-1zM304.2 612.1h1v1h-1zM324.5 610.2h1v1h-1zM310.6 610.0h1v1h-1zM329.1 612.1h1v1h-1zM317.7 610.8h1v1h-1zM329.3 611.0h1v1h-1zM338.2 609.5h1v1h-1zM338.3 609.8h1v1h-1zM325.8 610.8h1v1h-1zM333.8 610.0h1v1h-1zM336.2 610.3h1v1h-1zM332.1 609.2h1v1h-1zM314.4 610.7h1v1h-1zM327.7 609.7h1v1h-1zM322.7 609.5h1v1h-1zM320.0 610.2h1v1h-1zM322.4 612.7h1v1h-1zM324.0 609.5h1v1h-1zM327.8 609.5h1v1h-1zM319.1 608.1h1v1h-1zM320.8 608.0h1v1h-1zM331.2 608.6h1v1h-1zM324.4 607.7h1v1h-1zM309.9 607.8h1v1h-1zM316.1 610.4h1v1h-1zM322.1 609.7h1v1h-1zM313.6 610.4h1v1h-1zM337.5 610.5h1v1h-1zM303.3 612.1h1v1h-1zM321.0 611.3h1v1h-1zM336.9 609.9h1v1h-1zM330.9 608.4h1v1h-1zM321.5 612.1h1v1h-1zM335.3 610.0h1v1h-1zM325.5 609.7h1v1h-1zM315.6 609.6h1v1h-1zM304.9 612.3h1v1h-1zM318.4 608.3h1v1h-1zM326.5 611.5h1v1h-1zM327.7 609.4h1v1h-1zM310.2 613.2h1v1h-1zM334.0 610.8h1v1h-1zM324.9 609.7h1v1h-1zM337.8 609.5h1v1h-1zM333.1 608.7h1v1h-1zM334.0 610.3h1v1h-1zM338.1 609.9h1v1h-1zM316.5 610.6h1v1h-1zM329.9 610.6h1v1h-1zM325.8 612.4h1v1h-1zM336.0 609.6h1v1h-1zM335.5 610.4h1v1h-1zM322.6 608.8h1v1h-1zM333.9 609.4h1v1h-1zM337.1 609.7h1v1h-1zM329.2 611.2h1v1h-1zM330.3 610.6h1v1h-1zM331.6 612.2h1v1h-1zM333.5 609.9h1v1h-1zM335.8 609.6h1v1h-1zM313.4 609.4h1v1h-1zM325.9 610.7h1v1h-1zM314.9 610.5h1v1h-1zM320.3 609.9h1v1h-1zM333.7 610.2h1v1h-1zM314.1 610.6h1v1h-1zM336.0 609.0h1v1h-1zM325.5 608.8h1v1h-1zM323.0 610.9h1v1h-1zM332.0 609.4h1v1h-1zM320.7 608.2h1v1h-1zM328.0 609.6h1v1h-1zM330.8 609.2h1v1h-1zM323.5 608.4h1v1h-1zM323.4 609.7h1v1h-1zM300.1 609.8h1v1h-1zM330.3 609.8h1v1h-1zM330.3 608.2h1v1h-1zM311.5 611.4h1v1h-1zM329.6 608.0h1v1h-1zM330.3 609.8h1v1h-1zM321.5 608.6h1v1h-1zM318.3 611.3h1v1h-1zM311.1 611.1h1v1h-1zM338.2 610.2h1v1h-1zM305.6 613.0h1v1h-1zM335.2 610.1h1v1h-1zM333.9 610.8h1v1h-1zM325.2 610.1h1v1h-1zM334.1 611.3h1v1h-1zM336.8 610.4h1v1h-1zM338.0 610.1h1v1h-1zM336.8 610.0h1v1h-1zM330.4 609.9h1v1h-1zM310.0 615.3h1v1h-1zM314.1 609.3h1v1h-1zM310.0 612.2h1v1h-1zM307.1 610.8h1v1h-1zM335.3 609.7h1v1h-1zM327.6 610.5h1v1h-1zM336.7 611.1h1v1h-1zM333.0 609.4h1v1h-1zM308.9 607.8h1v1h-1zM305.9 616.4h1v1h-1zM335.1 608.9h1v1h-1zM326.8 610.8h1v1h-1zM328.0 610.3h1v1h-1zM326.9 610.9h1v1h-1zM313.3 609.6h1v1h-1zM325.2 607.7h1v1h-1zM320.8 609.5h1v1h-1zM334.7 611.0h1v1h-1zM329.7 612.0h1v1h-1zM332.1 610.7h1v1h-1zM317.1 612.8h1v1h-1zM314.6 608.9h1v1h-1zM321.2 610.2h1v1h-1zM328.1 609.3h1v1h-1zM338.6 610.9h1v1h-1zM309.5 610.2h1v1h-1zM314.9 612.5h1v1h-1zM325.0 608.1h1v1h-1zM318.8 612.0h1v1h-1zM334.1 608.7h1v1h-1zM324.3 609.0h1v1h-1zM335.5 610.9h1v1h-1zM322.3 608.3h1v1h-1zM327.6 609.6h1v1h-1zM321.2 613.0h1v1h-1zM337.8 609.0h1v1h-1zM330.2 608.8h1v1h-1zM334.4 609.6h1v1h-1zM318.5 609.0h1v1h-1zM333.8 610.2h1v1h-1zM338.2 609.9h1v1h-1zM335.1 609.4h1v1h-1zM321.1 613.3h1v1h-1zM334.2 609.1h1v1h-1zM318.6 610.2h1v1h-1zM299.5 611.8h1v1h-1zM321.3 609.5h1v1h-1zM313.8 610.4h1v1h-1zM307.0 610.8h1v1h-1zM322.8 608.9h1v1h-1zM333.4 610.3h1v1h-1zM327.5 608.4h1v1h-1zM325.2 608.6h1v1h-1zM330.7 609.5h1v1h-1zM323.2 607.7h1v1h-1zM320.4 611.3h1v1h-1zM326.4 610.8h1v1h-1zM315.5 610.3h1v1h-1zM334.1 610.1h1v1h-1zM338.6 609.3h1v1h-1zM312.5 610.8h1v1h-1zM308.8 608.4h1v1h-1zM333.1 608.8h1v1h-1zM336.4 609.7h1v1h-1zM335.7 610.6h1v1h-1zM317.1 611.7h1v1h-1zM323.6 610.7h1v1h-1zM329.3 608.7h1v1h-1zM338.3 609.5h1v1h-1zM332.7 610.6h1v1h-1zM333.8 611.0h1v1h-1zM308.8 609.0h1v1h-1zM337.9 609.9h1v1h-1zM321.8 612.0h1v1h-1zM335.7 611.4h1v1h-1zM323.2 609.1h1v1h-1zM311.8 612.8h1v1h-1zM332.9 608.5h1v1h-1zM325.8 610.2h1v1h-1zM328.3 609.8h1v1h-1zM331.2 610.4h1v1h-1zM331.3 610.0h1v1h-1zM325.8 610.6h1v1h-1zM324.7 610.5h1v1h-1zM318.6 608.2h1v1h-1zM326.0 607.0h1v1h-1zM332.7 610.5h1v1h-1zM316.6 609.8h1v1h-1zM336.6 610.4h1v1h-1zM319.3 610.7h1v1h-1zM319.7 611.0h1v1h-1zM322.9 609.3h1v1h-1zM299.5 604.0h1v1h-1zM330.4 610.0h1v1h-1zM315.3 607.8h1v1h-1zM335.6 610.1h1v1h-1zM322.3 609.0h1v1h-1zM330.9 610.5h1v1h-1zM311.0 612.0h1v1h-1zM318.3 609.6h1v1h-1zM314.5 610.5h1v1h-1zM329.7 610.4h1v1h-1zM337.5 610.0h1v1h-1zM331.8 610.5h1v1h-1zM307.2 609.2h1v1h-1zM313.5 610.5h1v1h-1zM335.5 610.6h1v1h-1zM338.2 609.2h1v1h-1zM333.6 610.5h1v1h-1zM328.8 609.3h1v1h-1zM335.4 608.5h1v1h-1zM334.9 609.9h1v1h-1zM326.3 607.9h1v1h-1zM312.1 611.5h1v1h-1zM326.4 612.4h1v1h-1zM335.5 610.0h1v1h-1zM324.3 609.0h1v1h-1zM327.6 609.2h1v1h-1zM330.9 607.2h1v1h-1zM313.2 610.6h1v1h-1zM322.8 609.2h1v1h-1zM321.3 609.2h1v1h-1zM325.3 608.6h1v1h-1zM331.5 610.8h1v1h-1zM329.9 611.7h1v1h-1zM322.8 610.7h1v1h-1zM335.6 608.5h1v1h-1zM324.7 609.9h1v1h-1zM324.5 612.4h1v1h-1zM321.8 610.1h1v1h-1zM337.4 609.5h1v1h-1zM335.0 609.4h1v1h-1zM317.0 611.2h1v1h-1zM331.2 609.8h1v1h-1zM320.5 605.9h1v1h-1zM321.3 607.5h1v1h-1zM336.8 609.5h1v1h-1zM332.2 610.0h1v1h-1zM317.2 609.9h1v1h-1zM323.3 607.8h1v1h-1zM331.0 610.5h1v1h-1zM332.2 608.9h1v1h-1zM314.2 609.5h1v1h-1zM336.2 610.5h1v1h-1zM320.7 610.6h1v1h-1zM320.7 609.6h1v1h-1zM327.7 610.0h1v1h-1zM321.5 611.4h1v1h-1zM324.5 610.0h1v1h-1zM329.2 609.3h1v1h-1zM322.0 611.7h1v1h-1zM336.8 610.0h1v1h-1zM333.9 611.1h1v1h-1zM329.8 611.0h1v1h-1zM311.6 614.4h1v1h-1zM322.6 610.7h1v1h-1zM308.4 611.0h1v1h-1zM325.3 612.0h1v1h-1zM330.0 608.6h1v1h-1zM336.6 609.1h1v1h-1zM317.2 609.7h1v1h-1zM333.2 611.7h1v1h-1zM303.4 609.4h1v1h-1zM337.8 609.8h1v1h-1zM323.5 610.3h1v1h-1zM320.0 608.5h1v1h-1zM337.4 611.0h1v1h-1zM328.3 608.6h1v1h-1zM320.5 611.7h1v1h-1zM321.8 610.8h1v1h-1zM337.3 610.0h1v1h-1zM336.2 610.3h1v1h-1zM327.9 608.3h1v1h-1zM323.3 609.5h1v1h-1zM333.6 609.8h1v1h-1zM337.7 609.7h1v1h-1zM334.8 610.4h1v1h-1zM325.3 609.0h1v1h-1zM329.6 611.8h1v1h-1zM330.4 610.4h1v1h-1zM324.1 608.5h1v1h-1zM320.0 607.9h1v1h-1zM333.0 608.7h1v1h-1zM329.7 609.2h1v1h-1zM326.3 608.0h1v1h-1zM316.8 610.0h1v1h-1zM336.6 610.0h1v1h-1zM323.7 610.3h1v1h-1zM337.3 608.9h1v1h-1zM337.8 609.4h1v1h-1zM329.9 609.7h1v1h-1zM338.0 609.9h1v1h-1zM314.1 609.9h1v1h-1zM299.5 609.9h1v1h-1zM316.6 605.7h1v1h-1zM330.8 609.6h1v1h-1zM312.7 610.5h1v1h-1zM334.7 610.0h1v1h-1zM321.6 608.9h1v1h-1zM316.3 607.8h1v1h-1zM338.3 610.1h1v1h-1zM312.4 609.2h1v1h-1zM332.5 611.1h1v1h-1zM310.3 610.4h1v1h-1zM312.7 607.4h1v1h-1zM320.7 611.3h1v1h-1zM314.4 611.8h1v1h-1zM333.7 610.7h1v1h-1zM334.4 610.7h1v1h-1zM336.4 611.3h1v1h-1zM328.9 610.0h1v1h-1zM328.6 610.3h1v1h-1zM337.3 609.7h1v1h-1zM323.2 609.2h1v1h-1zM334.1 610.3h1v1h-1zM317.2 607.7h1v1h-1zM320.8 609.7h1v1h-1zM320.8 607.7h1v1h-1zM335.7 609.6h1v1h-1zM329.5 609.4h1v1h-1zM336.1 610.2h1v1h-1zM326.1 609.7h1v1h-1zM311.4 609.0h1v1h-1zM337.5 610.6h1v1h-1zM336.1 609.7h1v1h-1zM335.8 610.4h1v1h-1zM299.5 612.6h1v1h-1zM336.9 609.0h1v1h-1zM318.7 609.1h1v1h-1zM316.2 608.2h1v1h-1zM313.9 603.7h1v1h-1zM324.9 608.6h1v1h-1zM320.5 614.5h1v1h-1zM304.6 609.3h1v1h-1zM329.6 613.4h1v1h-1zM315.8 606.7h1v1h-1zM324.7 607.4h1v1h-1zM309.0 618.4h1v1h-1zM313.3 607.7h1v1h-1zM303.5 606.7h1v1h-1zM321.9 613.4h1v1h-1zM322.1 608.5h1v1h-1zM310.1 612.1h1v1h-1zM301.4 602.5h1v1h-1zM322.2 609.2h1v1h-1zM302.4 609.6h1v1h-1zM317.7 609.1h1v1h-1zM303.7 609.2h1v1h-1zM326.2 607.1h1v1h-1zM309.7 611.4h1v1h-1zM320.7 611.0h1v1h-1zM323.8 611.5h1v1h-1zM329.5 605.8h1v1h-1zM295.4 608.2h1v1h-1zM334.0 607.9h1v1h-1zM328.0 611.9h1v1h-1zM333.0 610.8h1v1h-1zM314.9 608.7h1v1h-1zM316.3 606.4h1v1h-1zM311.4 603.7h1v1h-1zM304.5 609.6h1v1h-1zM307.0 604.4h1v1h-1zM303.9 606.6h1v1h-1zM316.4 602.2h1v1h-1zM331.1 607.3h1v1h-1zM299.2 611.3h1v1h-1zM326.1 606.2h1v1h-1zM312.8 608.1h1v1h-1zM307.9 612.0h1v1h-1zM304.5 612.4h1v1h-1zM314.1 607.1h1v1h-1zM320.5 606.3h1v1h-1zM312.9 608.5h1v1h-1zM323.9 607.7h1v1h-1zM308.3 606.4h1v1h-1zM318.5 609.4h1v1h-1zM300.0 606.9h1v1h-1zM302.5 607.0h1v1h-1zM318.3 607.4h1v1h-1zM314.9 610.6h1v1h-1zM322.3 610.2h1v1h-1zM303.8 608.6h1v1h-1zM308.6 607.9h1v1h-1zM327.1 613.2h1v1h-1zM308.4 605.9h1v1h-1zM324.0 611.7h1v1h-1zM313.8 606.1h1v1h-1zM309.7 614.9h1v1h-1zM305.2 608.1h1v1h-1zM333.8 609.5h1v1h-1zM316.6 610.5h1v1h-1zM302.2 609.9h1v1h-1zM312.8 610.9h1v1h-1zM304.3 618.6h1v1h-1zM305.0 612.6h1v1h-1zM304.2 613.1h1v1h-1zM303.6 611.8h1v1h-1zM328.4 604.0h1v1h-1zM313.4 607.8h1v1h-1zM299.4 611.1h1v1h-1zM315.3 610.2h1v1h-1zM332.2 611.9h1v1h-1zM324.4 615.9h1v1h-1zM312.1 614.0h1v1h-1zM313.8 612.8h1v1h-1zM306.3 607.1h1v1h-1zM300.3 612.8h1v1h-1zM320.7 605.7h1v1h-1zM324.3 606.6h1v1h-1zM310.4 608.7h1v1h-1zM314.3 615.5h1v1h-1zM316.5 608.0h1v1h-1zM307.2 617.8h1v1h-1zM321.2 612.8h1v1h-1zM316.9 609.6h1v1h-1zM303.1 612.8h1v1h-1zM321.6 607.4h1v1h-1zM312.3 606.4h1v1h-1zM322.3 611.6h1v1h-1zM314.5 601.2h1v1h-1zM306.4 613.7h1v1h-1zM323.1 607.8h1v1h-1zM327.6 607.3h1v1h-1zM322.3 614.4h1v1h-1zM318.3 611.1h1v1h-1zM310.2 610.4h1v1h-1zM295.3 611.4h1v1h-1zM329.5 613.4h1v1h-1zM313.2 614.5h1v1h-1zM299.7 612.5h1v1h-1zM323.7 602.7h1v1h-1zM313.3 604.4h1v1h-1zM299.5 615.8h1v1h-1zM310.7 614.4h1v1h-1zM305.8 615.5h1v1h-1zM304.8 616.2h1v1h-1zM296.1 611.9h1v1h-1zM326.4 608.7h1v1h-1zM316.4 614.8h1v1h-1zM316.0 611.7h1v1h-1zM296.5 610.3h1v1h-1zM313.6 609.6h1v1h-1zM308.5 609.6h1v1h-1zM326.6 604.3h1v1h-1zM298.9 617.9h1v1h-1zM310.2 607.1h1v1h-1zM305.9 607.9h1v1h-1zM295.5 603.1h1v1h-1zM328.4 611.7h1v1h-1zM299.8 610.9h1v1h-1zM327.7 583.1h1v1h-1zM322.7 595.1h1v1h-1zM327.0 596.6h1v1h-1zM281.3 606.8h1v1h-1zM287.9 609.1h1v1h-1zM293.7 613.0h1v1h-1zM325.6 598.2h1v1h-1z" fill="#2b5e9c" fill-opacity="0.8"/>
<path d="M313.0 609.0 L330.4 607.4 L339.4 610.4 L330.4 613.4 L313.0 611.8 Z" fill="#1d4f8c"/>
<path d="M315.9 610.6 L330.4 610.6" stroke="#fff" stroke-opacity="0.5" stroke-width="0.6"/>
<rect x="201.00" y="543.20" width="143.00" height="134.80" fill="none" stroke="#333" stroke-width="1.2" />
<line x1="198.40" y1="548.00" x2="201.00" y2="548.00" stroke="#222" stroke-width="0.9" />
<text x="196.10" y="551.10" font-size="8.6" fill="#222" stroke="#222" stroke-width="0.15" text-anchor="end" textLength="4.4" lengthAdjust="spacingAndGlyphs" >4</text>
<line x1="198.40" y1="579.20" x2="201.00" y2="579.20" stroke="#222" stroke-width="0.9" />
<text x="196.10" y="582.30" font-size="8.6" fill="#222" stroke="#222" stroke-width="0.15" text-anchor="end" textLength="4.4" lengthAdjust="spacingAndGlyphs" >2</text>
<line x1="198.40" y1="610.40" x2="201.00" y2="610.40" stroke="#222" stroke-width="0.9" />
<text x="196.10" y="613.50" font-size="8.6" fill="#222" stroke="#222" stroke-width="0.15" text-anchor="end" textLength="4.4" lengthAdjust="spacingAndGlyphs" >0</text>
<line x1="198.40" y1="641.60" x2="201.00" y2="641.60" stroke="#222" stroke-width="0.9" />
<text x="196.10" y="644.70" font-size="8.6" fill="#222" stroke="#222" stroke-width="0.15" text-anchor="end" textLength="8.2" lengthAdjust="spacingAndGlyphs" >−2</text>
<line x1="198.40" y1="672.80" x2="201.00" y2="672.80" stroke="#222" stroke-width="0.9" />
<text x="196.10" y="675.90" font-size="8.6" fill="#222" stroke="#222" stroke-width="0.15" text-anchor="end" textLength="8.2" lengthAdjust="spacingAndGlyphs" >−4</text>
<line x1="223.10" y1="678.00" x2="223.10" y2="680.60" stroke="#222" stroke-width="0.9" />
<text x="225.40" y="689.90" font-size="7.8" fill="#222" stroke="#222" stroke-width="0.15" text-anchor="end" textLength="7.8" lengthAdjust="spacingAndGlyphs" >−8</text>
<line x1="252.10" y1="678.00" x2="252.10" y2="680.60" stroke="#222" stroke-width="0.9" />
<text x="254.40" y="689.90" font-size="7.8" fill="#222" stroke="#222" stroke-width="0.15" text-anchor="end" textLength="7.8" lengthAdjust="spacingAndGlyphs" >−6</text>
<line x1="281.10" y1="678.00" x2="281.10" y2="680.60" stroke="#222" stroke-width="0.9" />
<text x="283.40" y="689.90" font-size="7.8" fill="#222" stroke="#222" stroke-width="0.15" text-anchor="end" textLength="7.8" lengthAdjust="spacingAndGlyphs" >−4</text>
<line x1="310.10" y1="678.00" x2="310.10" y2="680.60" stroke="#222" stroke-width="0.9" />
<text x="312.40" y="689.90" font-size="7.8" fill="#222" stroke="#222" stroke-width="0.15" text-anchor="end" textLength="7.8" lengthAdjust="spacingAndGlyphs" >−2</text>
<line x1="339.10" y1="678.00" x2="339.10" y2="680.60" stroke="#222" stroke-width="0.9" />
<text x="339.10" y="689.90" font-size="7.8" fill="#222" stroke="#222" stroke-width="0.15" text-anchor="middle" textLength="4.3" lengthAdjust="spacingAndGlyphs" >0</text>
<text x="277.48" y="704.60" font-size="8.8" fill="#222" stroke="#222" stroke-width="0.15" text-anchor="middle" textLength="45.0" lengthAdjust="spacingAndGlyphs" >log10 <tspan font-style="italic">P</tspan> value</text>
<text x="204.10" y="606.85" font-size="6.8" fill="#222" stroke="#222" stroke-width="0.15" textLength="60.6" lengthAdjust="spacingAndGlyphs" >1.5 –fold upregulated</text>
<text x="204.10" y="617.25" font-size="6.8" fill="#222" stroke="#222" stroke-width="0.15" textLength="69.2" lengthAdjust="spacingAndGlyphs" >1.5 –fold downregulated</text>
<text x="205.10" y="551.84" font-size="7.6" fill="#222" stroke="#222" stroke-width="0.15" textLength="12.1" lengthAdjust="spacingAndGlyphs" >Hits</text>
<circle cx="203.00" cy="549.00" r="0.8" fill="#cc1a3a"/>
<text x="310.20" y="675.48" font-size="8.0" fill="#222" stroke="#222" stroke-width="0.15" textLength="27.7" lengthAdjust="spacingAndGlyphs" >P = .001</text>
<circle cx="284.00" cy="601.04" r="0.85" fill="#cc1a3a"/>
<text x="287.00" y="600.66" font-size="6.0" fill="#333" stroke="#333" stroke-width="0.15" textLength="6.9" lengthAdjust="spacingAndGlyphs" >SLA</text>
<circle cx="251.38" cy="626.78" r="0.85" fill="#cc1a3a"/>
<circle cx="260.08" cy="629.12" r="0.85" fill="#cc1a3a"/>
<text x="264.20" y="628.06" font-size="6.0" fill="#333" stroke="#333" stroke-width="0.15" textLength="10.3" lengthAdjust="spacingAndGlyphs" >IL10</text>
<circle cx="262.25" cy="633.02" r="0.85" fill="#cc1a3a"/>
<text x="261.70" y="635.96" font-size="6.0" fill="#333" stroke="#333" stroke-width="0.15" textLength="12.8" lengthAdjust="spacingAndGlyphs" >ZFP91</text>
<circle cx="224.55" cy="651.74" r="0.85" fill="#cc1a3a"/>
<text x="228.20" y="653.96" font-size="6.0" fill="#333" stroke="#333" stroke-width="0.15" textLength="12.1" lengthAdjust="spacingAndGlyphs" >IKZF1</text>
<circle cx="257.90" cy="651.74" r="0.85" fill="#cc1a3a"/>
<text x="259.30" y="653.96" font-size="6.0" fill="#333" stroke="#333" stroke-width="0.15" textLength="17.3" lengthAdjust="spacingAndGlyphs" >ZNF827</text>
<ellipse cx="267.60" cy="634.50" rx="8.70" ry="5.70" fill="none" fill-opacity="1" stroke="#333" stroke-width="0.95" stroke-dasharray="1.8,1.1"/>
<ellipse cx="233.00" cy="651.80" rx="10.00" ry="6.10" fill="none" fill-opacity="1" stroke="#333" stroke-width="0.95" stroke-dasharray="1.8,1.1"/>
<text transform="translate(186.00,679.30) rotate(-90)" font-size="8.6" fill="#222" textLength="136.8" lengthAdjust="spacingAndGlyphs"><tspan fill="#1c4f8a">POM</tspan> – DMSO relative abundance log<tspan font-size="5.8" dy="1.8">2</tspan><tspan dy="-1.8">FC</tspan></text>
<text x="232.30" y="626.20" font-size="6.0" fill="#333" stroke="#333" stroke-width="0.15" textLength="14.5" lengthAdjust="spacingAndGlyphs" >RAB28</text>
<text x="232.30" y="633.20" font-size="6.0" fill="#333" stroke="#333" stroke-width="0.15" textLength="15.6" lengthAdjust="spacingAndGlyphs" >DTWD1</text>
<line x1="465.10" y1="543.20" x2="465.10" y2="678.00" stroke="#444" stroke-width="0.8" stroke-dasharray="0.9,1.1" />
<line x1="370.40" y1="601.27" x2="513.50" y2="601.27" stroke="#444" stroke-width="0.8" stroke-dasharray="0.9,1.1" />
<line x1="370.40" y1="619.53" x2="513.50" y2="619.53" stroke="#444" stroke-width="0.8" stroke-dasharray="0.9,1.1" />
<path d="M506.5 609.2h1v1h-1zM492.7 608.4h1v1h-1zM503.8 610.1h1v1h-1zM476.7 609.5h1v1h-1zM507.4 609.5h1v1h-1zM489.5 610.0h1v1h-1zM498.4 611.0h1v1h-1zM502.0 610.3h1v1h-1zM486.1 612.9h1v1h-1zM481.2 610.4h1v1h-1zM505.2 610.1h1v1h-1zM507.0 610.6h1v1h-1zM506.8 609.8h1v1h-1zM495.7 611.0h1v1h-1zM501.5 611.7h1v1h-1zM499.8 612.2h1v1h-1zM484.6 607.6h1v1h-1zM471.7 607.6h1v1h-1zM502.7 610.2h1v1h-1zM500.5 609.4h1v1h-1zM490.8 610.3h1v1h-1zM498.3 610.6h1v1h-1zM491.8 610.0h1v1h-1zM495.1 608.5h1v1h-1zM477.2 612.7h1v1h-1zM492.3 613.1h1v1h-1zM476.7 616.2h1v1h-1zM503.4 610.3h1v1h-1zM480.7 614.5h1v1h-1zM490.4 611.1h1v1h-1zM505.5 610.3h1v1h-1zM497.5 611.3h1v1h-1zM506.8 609.7h1v1h-1zM477.7 616.0h1v1h-1zM482.9 607.8h1v1h-1zM500.1 609.6h1v1h-1zM500.4 608.3h1v1h-1zM504.6 610.1h1v1h-1zM504.3 610.0h1v1h-1zM505.2 610.5h1v1h-1zM474.1 615.2h1v1h-1zM470.9 610.3h1v1h-1zM505.7 609.7h1v1h-1zM504.7 610.0h1v1h-1zM502.6 609.1h1v1h-1zM500.7 610.3h1v1h-1zM476.0 608.5h1v1h-1zM491.8 606.2h1v1h-1zM495.3 610.7h1v1h-1zM488.7 609.4h1v1h-1zM494.3 611.4h1v1h-1zM486.7 610.9h1v1h-1zM489.8 610.6h1v1h-1zM484.1 608.5h1v1h-1zM507.0 609.4h1v1h-1zM488.2 610.2h1v1h-1zM505.7 609.9h1v1h-1zM489.3 608.7h1v1h-1zM485.4 609.6h1v1h-1zM504.2 610.1h1v1h-1zM495.2 611.0h1v1h-1zM501.5 610.7h1v1h-1zM500.9 611.4h1v1h-1zM502.3 609.9h1v1h-1zM489.0 614.0h1v1h-1zM508.0 609.4h1v1h-1zM496.0 610.5h1v1h-1zM498.7 609.2h1v1h-1zM493.0 608.4h1v1h-1zM503.1 609.2h1v1h-1zM507.6 610.0h1v1h-1zM483.7 611.4h1v1h-1zM503.8 609.4h1v1h-1zM504.1 610.4h1v1h-1zM501.3 609.0h1v1h-1zM505.6 610.2h1v1h-1zM501.6 609.2h1v1h-1zM499.2 610.9h1v1h-1zM501.9 610.3h1v1h-1zM495.7 608.3h1v1h-1zM494.5 610.9h1v1h-1zM506.8 609.6h1v1h-1zM497.5 610.0h1v1h-1zM497.1 612.1h1v1h-1zM502.7 609.3h1v1h-1zM499.8 611.3h1v1h-1zM502.8 610.6h1v1h-1zM498.7 609.2h1v1h-1zM504.5 610.4h1v1h-1zM498.3 608.9h1v1h-1zM493.2 609.2h1v1h-1zM499.6 610.2h1v1h-1zM470.9 609.7h1v1h-1zM472.6 615.7h1v1h-1zM471.0 607.0h1v1h-1zM497.6 610.3h1v1h-1zM507.2 610.9h1v1h-1zM497.7 611.1h1v1h-1zM504.4 609.3h1v1h-1zM507.2 609.7h1v1h-1zM496.6 610.4h1v1h-1zM506.2 610.1h1v1h-1zM487.2 611.6h1v1h-1zM476.8 612.4h1v1h-1zM490.6 611.2h1v1h-1zM480.9 609.6h1v1h-1zM501.5 609.2h1v1h-1zM497.6 611.1h1v1h-1zM474.6 606.6h1v1h-1zM496.6 610.6h1v1h-1zM507.6 608.9h1v1h-1zM479.5 609.3h1v1h-1zM501.6 609.4h1v1h-1zM478.4 610.9h1v1h-1zM494.2 607.7h1v1h-1zM481.7 611.8h1v1h-1zM507.2 610.0h1v1h-1zM485.3 612.8h1v1h-1zM495.6 609.6h1v1h-1zM505.7 609.1h1v1h-1zM491.5 609.1h1v1h-1zM507.9 609.9h1v1h-1zM500.0 609.7h1v1h-1zM503.7 609.7h1v1h-1zM476.1 610.7h1v1h-1zM491.4 608.9h1v1h-1zM502.3 609.2h1v1h-1zM493.9 608.2h1v1h-1zM494.7 610.6h1v1h-1zM502.8 609.2h1v1h-1zM493.1 608.6h1v1h-1zM504.7 610.6h1v1h-1zM499.0 609.6h1v1h-1zM492.4 608.4h1v1h-1zM504.8 610.6h1v1h-1zM500.8 611.2h1v1h-1zM493.6 609.3h1v1h-1zM482.4 609.8h1v1h-1zM485.8 608.4h1v1h-1zM496.1 609.7h1v1h-1zM483.3 610.6h1v1h-1zM492.4 609.2h1v1h-1zM477.7 607.6h1v1h-1zM493.4 610.5h1v1h-1zM484.7 612.1h1v1h-1zM506.7 609.3h1v1h-1zM486.4 607.4h1v1h-1zM490.0 612.9h1v1h-1zM501.6 611.2h1v1h-1zM505.9 610.7h1v1h-1zM490.6 608.6h1v1h-1zM498.9 609.9h1v1h-1zM507.3 610.1h1v1h-1zM501.8 609.7h1v1h-1zM500.5 610.3h1v1h-1zM476.7 609.2h1v1h-1zM485.1 607.2h1v1h-1zM493.6 612.4h1v1h-1zM487.3 610.6h1v1h-1zM506.7 610.0h1v1h-1zM505.9 610.6h1v1h-1zM506.4 610.2h1v1h-1zM507.8 611.0h1v1h-1zM494.5 609.4h1v1h-1zM479.6 611.7h1v1h-1zM507.6 609.6h1v1h-1zM508.1 609.3h1v1h-1zM507.7 610.4h1v1h-1zM496.9 609.0h1v1h-1zM498.0 608.9h1v1h-1zM491.2 609.0h1v1h-1zM491.3 610.2h1v1h-1zM507.9 610.2h1v1h-1zM498.0 611.7h1v1h-1zM498.9 611.1h1v1h-1zM484.5 609.6h1v1h-1zM500.6 610.2h1v1h-1zM485.5 608.0h1v1h-1zM490.8 610.9h1v1h-1zM483.4 608.7h1v1h-1zM503.0 609.3h1v1h-1zM501.2 608.7h1v1h-1zM503.3 609.4h1v1h-1zM493.3 613.3h1v1h-1zM500.8 608.5h1v1h-1zM480.4 607.5h1v1h-1zM496.9 610.4h1v1h-1zM507.4 609.8h1v1h-1zM492.0 609.7h1v1h-1zM500.8 609.1h1v1h-1zM495.6 607.9h1v1h-1zM476.6 603.6h1v1h-1zM485.9 609.6h1v1h-1zM477.4 608.9h1v1h-1zM498.9 611.2h1v1h-1zM481.9 609.5h1v1h-1zM497.7 610.8h1v1h-1zM503.8 611.8h1v1h-1zM496.4 609.7h1v1h-1zM505.6 608.9h1v1h-1zM489.2 613.8h1v1h-1zM500.6 610.5h1v1h-1zM503.4 609.3h1v1h-1zM498.2 608.3h1v1h-1zM485.7 613.2h1v1h-1zM507.1 608.8h1v1h-1zM501.4 609.0h1v1h-1zM507.2 610.1h1v1h-1zM481.9 607.6h1v1h-1zM504.1 609.2h1v1h-1zM486.4 611.3h1v1h-1zM493.2 609.8h1v1h-1zM490.5 609.2h1v1h-1zM502.7 608.8h1v1h-1zM492.3 610.3h1v1h-1zM500.1 610.0h1v1h-1zM504.3 608.8h1v1h-1zM481.8 606.8h1v1h-1zM501.8 610.1h1v1h-1zM493.2 610.4h1v1h-1zM504.2 611.1h1v1h-1zM501.1 608.5h1v1h-1zM491.1 612.3h1v1h-1zM505.4 608.8h1v1h-1zM484.1 610.7h1v1h-1zM500.2 610.0h1v1h-1zM492.7 609.8h1v1h-1zM503.1 611.1h1v1h-1zM498.5 610.2h1v1h-1zM493.9 611.5h1v1h-1zM493.1 607.1h1v1h-1zM503.4 610.2h1v1h-1zM499.8 610.1h1v1h-1zM495.2 608.0h1v1h-1zM490.9 611.1h1v1h-1zM497.1 611.0h1v1h-1zM504.2 609.5h1v1h-1zM484.3 608.5h1v1h-1zM507.5 610.5h1v1h-1zM507.1 610.4h1v1h-1zM506.5 609.3h1v1h-1zM504.7 610.0h1v1h-1zM495.6 609.9h1v1h-1zM506.3 610.5h1v1h-1zM499.7 609.0h1v1h-1zM480.6 610.9h1v1h-1zM488.8 607.1h1v1h-1zM498.1 609.3h1v1h-1zM501.6 609.6h1v1h-1zM503.3 611.2h1v1h-1zM503.8 609.4h1v1h-1zM484.5 608.2h1v1h-1zM497.1 611.8h1v1h-1zM500.3 610.2h1v1h-1zM499.4 609.5h1v1h-1zM487.0 610.3h1v1h-1zM504.4 609.4h1v1h-1zM507.3 610.0h1v1h-1zM496.7 612.4h1v1h-1zM492.7 610.4h1v1h-1zM487.4 610.7h1v1h-1zM477.8 615.1h1v1h-1zM502.7 610.5h1v1h-1zM496.0 611.0h1v1h-1zM486.7 611.7h1v1h-1zM479.7 609.8h1v1h-1zM498.0 611.0h1v1h-1zM489.9 610.2h1v1h-1zM501.0 608.8h1v1h-1zM489.2 609.4h1v1h-1zM497.2 610.9h1v1h-1zM470.9 613.0h1v1h-1zM501.2 610.2h1v1h-1zM502.0 611.1h1v1h-1zM493.3 609.5h1v1h-1zM507.4 609.7h1v1h-1zM471.1 611.6h1v1h-1zM493.3 607.2h1v1h-1zM505.1 610.2h1v1h-1zM494.0 611.4h1v1h-1zM484.6 611.4h1v1h-1zM507.1 610.4h1v1h-1zM494.7 612.9h1v1h-1zM496.7 610.9h1v1h-1zM507.3 610.5h1v1h-1zM504.3 609.8h1v1h-1zM498.3 609.5h1v1h-1zM497.8 608.7h1v1h-1zM501.7 611.0h1v1h-1zM487.0 608.6h1v1h-1zM501.9 609.0h1v1h-1zM507.4 610.4h1v1h-1zM493.1 607.0h1v1h-1zM505.1 610.5h1v1h-1zM494.1 608.6h1v1h-1zM498.4 610.4h1v1h-1zM496.8 609.9h1v1h-1zM506.2 610.2h1v1h-1zM497.5 609.7h1v1h-1zM505.5 609.5h1v1h-1zM499.8 609.5h1v1h-1zM500.2 609.8h1v1h-1zM498.7 608.8h1v1h-1zM504.8 609.8h1v1h-1zM492.1 609.4h1v1h-1zM506.6 610.1h1v1h-1zM494.5 609.1h1v1h-1zM470.9 608.6h1v1h-1zM506.7 609.7h1v1h-1zM498.3 609.8h1v1h-1zM497.2 610.7h1v1h-1zM504.3 609.7h1v1h-1zM506.2 610.4h1v1h-1zM503.7 610.7h1v1h-1zM495.3 610.4h1v1h-1zM508.1 609.5h1v1h-1zM498.9 611.3h1v1h-1zM504.0 609.6h1v1h-1zM490.1 614.0h1v1h-1zM506.9 609.9h1v1h-1zM501.0 609.8h1v1h-1zM505.9 609.8h1v1h-1zM485.4 608.9h1v1h-1zM499.1 610.3h1v1h-1zM489.5 610.2h1v1h-1zM495.9 612.6h1v1h-1zM504.0 610.0h1v1h-1zM500.5 608.6h1v1h-1zM501.4 610.0h1v1h-1zM499.4 607.9h1v1h-1zM495.8 609.0h1v1h-1zM495.5 608.2h1v1h-1zM498.9 610.2h1v1h-1zM506.4 610.9h1v1h-1zM497.3 611.2h1v1h-1zM494.2 610.5h1v1h-1zM497.8 609.5h1v1h-1zM504.6 610.7h1v1h-1zM506.9 609.6h1v1h-1zM504.0 610.9h1v1h-1zM504.1 610.6h1v1h-1zM498.6 609.8h1v1h-1zM507.2 610.0h1v1h-1zM480.8 609.1h1v1h-1zM504.8 610.2h1v1h-1zM505.5 608.7h1v1h-1zM486.9 613.0h1v1h-1zM495.5 610.9h1v1h-1zM486.7 611.8h1v1h-1zM500.1 609.1h1v1h-1zM493.1 609.2h1v1h-1zM500.6 610.0h1v1h-1zM500.9 610.1h1v1h-1zM487.2 608.6h1v1h-1zM507.8 609.7h1v1h-1zM494.5 608.3h1v1h-1zM505.9 609.9h1v1h-1zM502.7 607.7h1v1h-1zM504.1 609.0h1v1h-1zM482.9 608.1h1v1h-1zM485.0 612.1h1v1h-1zM497.7 610.1h1v1h-1zM505.2 609.7h1v1h-1zM504.4 610.2h1v1h-1zM470.9 608.7h1v1h-1zM497.1 607.5h1v1h-1zM492.2 609.0h1v1h-1zM502.8 608.4h1v1h-1zM490.4 611.5h1v1h-1zM505.7 611.2h1v1h-1zM495.3 608.4h1v1h-1zM500.5 609.7h1v1h-1zM496.8 611.3h1v1h-1zM503.7 610.4h1v1h-1zM490.2 610.4h1v1h-1zM507.2 610.1h1v1h-1zM497.3 608.8h1v1h-1zM489.2 608.9h1v1h-1zM506.5 610.5h1v1h-1zM494.7 611.4h1v1h-1zM504.7 609.3h1v1h-1zM493.2 609.9h1v1h-1zM501.8 609.7h1v1h-1zM506.1 609.5h1v1h-1zM484.0 611.3h1v1h-1zM473.8 615.7h1v1h-1zM479.0 613.6h1v1h-1zM491.3 610.3h1v1h-1zM474.3 611.8h1v1h-1zM490.0 610.5h1v1h-1zM505.6 610.5h1v1h-1zM470.9 610.0h1v1h-1zM498.0 607.3h1v1h-1zM505.1 609.6h1v1h-1zM505.7 610.4h1v1h-1zM484.7 610.3h1v1h-1zM481.6 609.0h1v1h-1zM505.2 609.2h1v1h-1zM492.8 607.8h1v1h-1zM507.8 610.3h1v1h-1zM497.0 609.3h1v1h-1zM502.5 609.7h1v1h-1zM492.1 607.7h1v1h-1zM494.2 613.6h1v1h-1zM474.6 610.6h1v1h-1zM501.3 609.5h1v1h-1zM501.1 608.9h1v1h-1zM487.7 610.3h1v1h-1zM487.5 607.1h1v1h-1zM504.1 609.1h1v1h-1zM485.4 612.3h1v1h-1zM504.5 609.4h1v1h-1zM507.3 610.0h1v1h-1zM494.3 608.6h1v1h-1zM498.4 610.1h1v1h-1zM497.5 609.7h1v1h-1zM505.8 610.6h1v1h-1zM479.3 610.5h1v1h-1zM503.7 609.9h1v1h-1zM507.0 609.8h1v1h-1zM494.4 609.4h1v1h-1zM488.4 609.2h1v1h-1zM496.2 609.3h1v1h-1zM507.6 609.0h1v1h-1zM496.9 609.4h1v1h-1zM491.3 609.4h1v1h-1zM490.8 611.7h1v1h-1zM482.5 612.0h1v1h-1zM508.0 609.6h1v1h-1zM506.6 610.9h1v1h-1zM477.0 610.2h1v1h-1zM495.4 610.2h1v1h-1zM506.6 609.8h1v1h-1zM486.2 613.2h1v1h-1zM492.7 610.8h1v1h-1zM488.9 613.4h1v1h-1zM499.3 611.2h1v1h-1zM490.9 608.9h1v1h-1zM503.1 609.4h1v1h-1zM487.3 615.3h1v1h-1zM491.9 610.4h1v1h-1zM497.2 608.8h1v1h-1zM502.2 610.8h1v1h-1zM498.8 610.1h1v1h-1zM500.1 608.8h1v1h-1zM480.7 607.5h1v1h-1zM490.2 613.3h1v1h-1zM505.0 610.0h1v1h-1zM489.5 610.9h1v1h-1zM494.7 609.8h1v1h-1zM498.9 612.2h1v1h-1zM488.4 608.3h1v1h-1zM494.4 608.7h1v1h-1zM474.8 614.1h1v1h-1zM501.3 610.4h1v1h-1zM498.9 610.2h1v1h-1zM485.0 607.3h1v1h-1zM502.8 609.3h1v1h-1zM470.9 612.1h1v1h-1zM501.3 609.1h1v1h-1zM506.3 609.6h1v1h-1zM508.0 608.6h1v1h-1zM497.6 609.5h1v1h-1zM506.0 609.7h1v1h-1zM481.2 610.5h1v1h-1zM495.8 611.5h1v1h-1zM507.4 609.9h1v1h-1zM499.6 607.3h1v1h-1zM496.3 609.5h1v1h-1zM495.1 609.8h1v1h-1zM503.2 610.0h1v1h-1zM504.4 608.1h1v1h-1zM486.0 606.5h1v1h-1zM485.4 604.2h1v1h-1zM497.2 611.5h1v1h-1zM504.6 609.7h1v1h-1zM507.5 610.2h1v1h-1zM496.7 607.8h1v1h-1zM504.4 610.1h1v1h-1zM488.3 610.4h1v1h-1zM502.3 609.6h1v1h-1zM470.9 604.2h1v1h-1zM506.4 609.6h1v1h-1zM502.8 609.6h1v1h-1zM486.1 606.4h1v1h-1zM498.5 609.6h1v1h-1zM470.9 613.7h1v1h-1zM495.8 610.0h1v1h-1zM483.4 605.7h1v1h-1zM482.4 609.6h1v1h-1zM506.8 609.8h1v1h-1zM492.6 607.8h1v1h-1zM503.8 610.9h1v1h-1zM488.1 609.4h1v1h-1zM489.0 609.1h1v1h-1zM502.6 610.4h1v1h-1zM476.2 613.3h1v1h-1zM502.1 610.3h1v1h-1zM477.3 611.0h1v1h-1zM501.7 609.3h1v1h-1zM506.5 609.7h1v1h-1zM491.3 610.1h1v1h-1zM502.4 610.2h1v1h-1zM474.9 609.4h1v1h-1zM494.2 614.1h1v1h-1zM500.1 611.0h1v1h-1zM507.4 610.1h1v1h-1zM490.8 610.3h1v1h-1zM494.5 608.4h1v1h-1zM499.4 608.8h1v1h-1zM498.0 609.2h1v1h-1zM494.0 608.4h1v1h-1zM470.9 610.8h1v1h-1zM487.8 612.6h1v1h-1zM497.7 606.8h1v1h-1zM507.1 609.6h1v1h-1zM481.3 609.9h1v1h-1zM495.2 608.3h1v1h-1zM499.4 607.2h1v1h-1zM490.1 609.3h1v1h-1zM475.1 611.0h1v1h-1zM487.9 610.1h1v1h-1zM486.7 608.9h1v1h-1zM492.3 609.2h1v1h-1zM491.6 612.2h1v1h-1zM477.9 608.1h1v1h-1zM473.3 604.6h1v1h-1zM500.4 609.4h1v1h-1zM475.4 611.6h1v1h-1zM477.9 607.8h1v1h-1zM504.3 610.6h1v1h-1zM502.0 608.9h1v1h-1zM495.2 609.1h1v1h-1zM488.6 612.9h1v1h-1zM500.1 610.2h1v1h-1zM505.1 609.3h1v1h-1zM501.3 610.2h1v1h-1zM495.4 609.3h1v1h-1zM507.3 609.8h1v1h-1zM471.9 611.5h1v1h-1zM481.7 610.7h1v1h-1zM493.2 612.4h1v1h-1zM492.9 610.7h1v1h-1zM504.6 610.2h1v1h-1zM496.4 610.7h1v1h-1zM473.8 609.0h1v1h-1zM505.6 609.5h1v1h-1zM498.1 611.3h1v1h-1zM504.7 609.8h1v1h-1zM506.9 609.8h1v1h-1zM502.9 610.4h1v1h-1zM505.6 609.3h1v1h-1zM490.6 610.0h1v1h-1zM491.3 611.6h1v1h-1zM501.2 609.7h1v1h-1zM483.0 610.3h1v1h-1zM492.7 609.1h1v1h-1zM507.0 611.6h1v1h-1zM506.0 609.9h1v1h-1zM490.9 609.7h1v1h-1zM483.7 612.3h1v1h-1zM499.7 609.0h1v1h-1zM478.3 612.5h1v1h-1zM503.2 609.1h1v1h-1zM488.0 608.5h1v1h-1zM470.9 608.7h1v1h-1zM486.7 610.3h1v1h-1zM497.8 609.5h1v1h-1zM476.1 608.9h1v1h-1zM495.0 610.2h1v1h-1zM483.9 610.2h1v1h-1zM497.2 610.0h1v1h-1zM497.4 607.5h1v1h-1zM494.4 608.6h1v1h-1zM496.8 610.7h1v1h-1zM503.8 611.5h1v1h-1zM491.2 612.0h1v1h-1zM506.4 609.7h1v1h-1zM495.1 609.4h1v1h-1zM496.5 607.5h1v1h-1zM501.6 608.2h1v1h-1zM500.4 610.1h1v1h-1zM493.9 610.6h1v1h-1zM505.6 609.5h1v1h-1zM489.2 609.4h1v1h-1zM484.0 607.2h1v1h-1zM505.3 610.1h1v1h-1zM494.7 609.1h1v1h-1zM502.6 609.3h1v1h-1zM506.0 609.0h1v1h-1zM503.8 609.6h1v1h-1zM504.8 609.2h1v1h-1zM496.7 610.3h1v1h-1zM504.5 610.4h1v1h-1zM497.3 611.3h1v1h-1zM495.7 607.9h1v1h-1zM491.9 608.7h1v1h-1zM489.1 611.3h1v1h-1zM502.9 609.8h1v1h-1zM500.6 611.8h1v1h-1zM486.4 609.7h1v1h-1zM504.0 608.3h1v1h-1zM503.5 610.4h1v1h-1zM488.2 614.7h1v1h-1zM477.3 603.0h1v1h-1zM497.8 609.8h1v1h-1zM505.0 610.5h1v1h-1zM505.7 610.7h1v1h-1zM492.3 608.7h1v1h-1zM496.9 611.0h1v1h-1zM476.1 611.2h1v1h-1zM489.9 609.2h1v1h-1zM481.4 612.0h1v1h-1zM506.0 609.6h1v1h-1zM506.6 610.6h1v1h-1zM496.7 607.4h1v1h-1zM492.7 611.2h1v1h-1zM476.8 610.3h1v1h-1zM507.9 610.3h1v1h-1zM483.3 609.7h1v1h-1zM506.7 610.4h1v1h-1zM486.9 609.6h1v1h-1zM508.1 609.2h1v1h-1zM493.0 610.5h1v1h-1zM491.9 608.6h1v1h-1zM496.8 608.1h1v1h-1zM500.4 609.0h1v1h-1zM502.5 609.1h1v1h-1zM501.1 610.1h1v1h-1zM490.2 609.2h1v1h-1zM502.2 608.9h1v1h-1zM504.3 609.6h1v1h-1zM471.7 611.5h1v1h-1zM494.6 611.1h1v1h-1zM503.2 609.7h1v1h-1zM505.7 609.4h1v1h-1zM500.4 610.1h1v1h-1zM490.3 610.5h1v1h-1zM496.3 609.5h1v1h-1zM497.8 610.1h1v1h-1zM490.3 610.8h1v1h-1zM504.4 609.4h1v1h-1zM479.0 610.3h1v1h-1zM504.4 611.4h1v1h-1zM487.1 608.2h1v1h-1zM508.1 610.2h1v1h-1zM470.9 607.7h1v1h-1zM495.1 607.9h1v1h-1zM495.7 608.2h1v1h-1zM505.7 609.2h1v1h-1zM484.9 606.9h1v1h-1zM507.5 610.5h1v1h-1zM501.4 610.8h1v1h-1zM503.8 610.5h1v1h-1zM487.0 610.6h1v1h-1zM504.2 609.8h1v1h-1zM496.7 608.3h1v1h-1zM501.4 608.4h1v1h-1zM470.9 610.1h1v1h-1zM492.7 611.9h1v1h-1zM504.7 609.7h1v1h-1zM482.5 611.2h1v1h-1zM498.3 610.3h1v1h-1zM482.9 604.8h1v1h-1zM506.8 610.5h1v1h-1zM507.4 610.2h1v1h-1zM484.5 610.7h1v1h-1zM500.3 610.3h1v1h-1zM493.0 608.3h1v1h-1zM501.4 610.2h1v1h-1zM501.2 609.9h1v1h-1zM504.5 610.6h1v1h-1zM470.9 607.3h1v1h-1zM498.2 610.5h1v1h-1zM507.8 609.9h1v1h-1zM503.1 608.7h1v1h-1zM506.1 609.8h1v1h-1zM493.5 610.0h1v1h-1zM500.6 610.0h1v1h-1zM502.8 610.7h1v1h-1zM502.0 610.8h1v1h-1zM500.8 610.6h1v1h-1zM505.2 609.2h1v1h-1zM503.4 610.6h1v1h-1zM505.9 609.3h1v1h-1zM496.2 609.3h1v1h-1zM489.5 610.9h1v1h-1zM496.9 610.5h1v1h-1zM504.3 609.9h1v1h-1zM502.3 609.4h1v1h-1zM496.3 610.3h1v1h-1zM506.4 610.7h1v1h-1zM494.0 611.9h1v1h-1zM490.8 610.1h1v1h-1zM506.0 609.7h1v1h-1zM502.7 610.8h1v1h-1zM477.5 606.5h1v1h-1zM488.0 611.2h1v1h-1zM500.1 609.7h1v1h-1zM498.1 609.9h1v1h-1zM470.9 601.4h1v1h-1zM494.1 608.7h1v1h-1zM495.7 609.8h1v1h-1zM492.9 610.6h1v1h-1zM489.4 609.8h1v1h-1zM482.2 609.8h1v1h-1zM483.7 613.3h1v1h-1zM484.4 609.0h1v1h-1zM501.8 608.9h1v1h-1zM503.7 609.3h1v1h-1zM492.5 608.3h1v1h-1zM471.9 605.9h1v1h-1zM470.9 607.8h1v1h-1zM505.6 609.7h1v1h-1zM507.4 610.5h1v1h-1zM505.8 610.6h1v1h-1zM503.4 610.1h1v1h-1zM499.0 611.1h1v1h-1zM506.3 609.9h1v1h-1zM485.5 608.6h1v1h-1zM492.6 610.6h1v1h-1zM502.9 610.9h1v1h-1zM493.8 608.9h1v1h-1zM504.9 610.0h1v1h-1zM498.8 608.2h1v1h-1zM507.1 609.3h1v1h-1zM507.4 609.4h1v1h-1zM492.1 612.0h1v1h-1zM490.0 610.4h1v1h-1zM503.7 609.2h1v1h-1zM496.7 609.6h1v1h-1zM488.5 611.2h1v1h-1zM507.5 609.6h1v1h-1zM499.6 609.5h1v1h-1zM495.4 609.9h1v1h-1zM492.2 611.2h1v1h-1zM498.7 608.9h1v1h-1zM482.1 609.0h1v1h-1zM508.0 610.4h1v1h-1zM506.1 610.4h1v1h-1zM505.8 609.5h1v1h-1zM500.7 608.6h1v1h-1zM491.4 611.9h1v1h-1zM485.7 607.8h1v1h-1zM492.1 609.7h1v1h-1zM490.5 609.9h1v1h-1zM503.0 609.1h1v1h-1zM492.2 611.9h1v1h-1zM498.7 610.3h1v1h-1zM485.1 612.2h1v1h-1zM497.5 613.1h1v1h-1zM489.6 607.6h1v1h-1zM501.3 610.2h1v1h-1zM474.9 613.6h1v1h-1zM499.4 607.9h1v1h-1zM493.4 610.8h1v1h-1zM501.1 609.4h1v1h-1zM499.8 610.8h1v1h-1zM500.9 609.0h1v1h-1zM496.7 610.3h1v1h-1zM470.9 609.1h1v1h-1zM501.4 609.1h1v1h-1zM494.8 610.1h1v1h-1zM478.4 607.2h1v1h-1zM507.6 609.5h1v1h-1zM497.1 610.2h1v1h-1zM496.0 610.6h1v1h-1zM504.3 609.4h1v1h-1zM487.7 610.5h1v1h-1zM492.3 608.8h1v1h-1zM498.7 607.9h1v1h-1zM482.8 611.4h1v1h-1zM505.4 610.1h1v1h-1zM508.1 609.6h1v1h-1zM483.6 605.3h1v1h-1zM477.8 613.0h1v1h-1zM500.4 610.1h1v1h-1zM503.1 609.8h1v1h-1zM497.4 610.4h1v1h-1zM498.6 607.3h1v1h-1zM496.7 607.2h1v1h-1zM498.9 608.4h1v1h-1zM480.4 606.8h1v1h-1zM495.9 609.2h1v1h-1zM495.6 611.4h1v1h-1zM508.0 609.7h1v1h-1zM504.8 610.0h1v1h-1zM497.6 610.7h1v1h-1zM501.0 609.2h1v1h-1zM497.2 609.2h1v1h-1zM491.8 610.3h1v1h-1zM501.2 609.2h1v1h-1zM479.5 609.5h1v1h-1zM482.0 608.4h1v1h-1zM499.8 609.8h1v1h-1zM492.7 607.3h1v1h-1zM492.0 609.7h1v1h-1zM476.3 610.4h1v1h-1zM497.0 609.1h1v1h-1zM506.5 609.8h1v1h-1zM490.0 610.4h1v1h-1zM490.0 609.9h1v1h-1zM482.3 609.3h1v1h-1zM489.9 605.5h1v1h-1zM483.2 607.0h1v1h-1zM494.7 607.7h1v1h-1zM507.7 609.7h1v1h-1zM477.5 611.1h1v1h-1zM489.0 612.9h1v1h-1zM502.7 609.9h1v1h-1zM502.4 609.6h1v1h-1zM507.5 610.5h1v1h-1zM507.0 610.9h1v1h-1zM483.3 609.9h1v1h-1zM493.3 611.2h1v1h-1zM477.7 607.3h1v1h-1zM502.2 609.7h1v1h-1zM501.6 610.5h1v1h-1zM506.0 610.0h1v1h-1zM501.7 608.5h1v1h-1zM488.9 609.4h1v1h-1zM497.5 610.2h1v1h-1zM500.5 611.5h1v1h-1zM487.6 612.1h1v1h-1zM507.2 610.0h1v1h-1zM500.8 608.8h1v1h-1zM496.7 610.1h1v1h-1zM500.7 610.2h1v1h-1zM497.8 610.9h1v1h-1zM483.7 610.3h1v1h-1zM490.6 607.9h1v1h-1zM498.0 612.1h1v1h-1zM505.7 609.4h1v1h-1zM490.1 606.8h1v1h-1zM492.9 609.3h1v1h-1zM482.7 610.3h1v1h-1zM501.9 609.2h1v1h-1zM505.2 611.0h1v1h-1zM506.3 609.7h1v1h-1zM484.0 611.4h1v1h-1zM494.1 610.7h1v1h-1zM491.1 610.3h1v1h-1zM506.5 609.6h1v1h-1zM494.8 608.4h1v1h-1zM481.7 605.8h1v1h-1zM497.3 611.0h1v1h-1zM496.1 611.4h1v1h-1zM493.8 611.0h1v1h-1zM489.1 610.2h1v1h-1zM502.8 610.4h1v1h-1zM505.0 610.5h1v1h-1zM504.4 610.1h1v1h-1zM490.3 609.7h1v1h-1zM505.4 610.3h1v1h-1zM507.4 609.6h1v1h-1zM488.0 610.8h1v1h-1zM497.8 609.9h1v1h-1zM495.2 606.7h1v1h-1zM487.6 609.2h1v1h-1zM502.1 608.7h1v1h-1zM498.6 611.4h1v1h-1zM490.3 609.9h1v1h-1zM503.1 609.9h1v1h-1zM504.5 610.5h1v1h-1zM501.9 608.7h1v1h-1zM491.4 610.9h1v1h-1zM495.4 611.1h1v1h-1zM504.8 609.7h1v1h-1zM493.2 610.4h1v1h-1zM493.2 610.2h1v1h-1zM503.5 609.9h1v1h-1zM504.1 609.6h1v1h-1zM495.1 611.3h1v1h-1zM506.2 609.0h1v1h-1zM504.2 610.1h1v1h-1zM508.0 610.2h1v1h-1zM499.0 609.9h1v1h-1zM505.3 609.4h1v1h-1zM488.3 612.5h1v1h-1zM499.9 610.2h1v1h-1zM484.9 608.5h1v1h-1zM473.3 607.6h1v1h-1zM487.3 613.6h1v1h-1zM500.8 611.2h1v1h-1zM495.2 610.1h1v1h-1zM505.2 609.6h1v1h-1zM495.6 607.8h1v1h-1zM485.5 608.0h1v1h-1zM481.2 607.0h1v1h-1zM506.6 610.8h1v1h-1zM505.4 610.1h1v1h-1zM506.6 609.4h1v1h-1zM485.9 608.6h1v1h-1zM488.4 611.9h1v1h-1zM485.1 611.3h1v1h-1zM495.9 608.7h1v1h-1zM507.8 610.8h1v1h-1zM497.5 609.1h1v1h-1zM499.1 610.4h1v1h-1zM508.0 609.9h1v1h-1zM478.4 612.2h1v1h-1zM481.4 609.7h1v1h-1zM485.2 603.0h1v1h-1zM480.8 611.6h1v1h-1zM469.6 608.4h1v1h-1zM471.4 611.3h1v1h-1zM471.1 604.1h1v1h-1zM488.4 610.2h1v1h-1zM495.7 611.3h1v1h-1zM474.1 611.8h1v1h-1zM481.3 608.4h1v1h-1zM491.9 612.8h1v1h-1zM468.3 611.6h1v1h-1zM481.8 612.8h1v1h-1zM486.7 612.5h1v1h-1zM492.6 613.1h1v1h-1zM465.4 605.6h1v1h-1zM492.9 613.7h1v1h-1zM496.1 610.7h1v1h-1zM478.2 616.2h1v1h-1zM495.4 610.7h1v1h-1zM489.1 614.0h1v1h-1zM480.7 614.6h1v1h-1zM474.3 608.3h1v1h-1zM465.3 606.5h1v1h-1zM466.7 607.0h1v1h-1zM478.0 615.8h1v1h-1zM502.5 613.1h1v1h-1zM472.7 613.2h1v1h-1zM491.6 613.1h1v1h-1zM479.5 606.9h1v1h-1zM493.7 606.9h1v1h-1zM467.3 608.6h1v1h-1zM474.2 613.6h1v1h-1zM488.7 611.9h1v1h-1zM470.2 610.2h1v1h-1zM473.8 609.8h1v1h-1zM471.7 611.3h1v1h-1zM503.3 613.5h1v1h-1zM501.4 611.5h1v1h-1zM487.2 606.3h1v1h-1zM491.4 613.0h1v1h-1zM471.9 614.4h1v1h-1zM488.1 604.1h1v1h-1zM500.7 608.6h1v1h-1zM493.8 610.1h1v1h-1zM473.6 606.7h1v1h-1zM470.1 607.1h1v1h-1zM480.7 613.2h1v1h-1zM471.4 605.2h1v1h-1zM481.1 612.0h1v1h-1zM487.8 612.1h1v1h-1zM464.9 609.7h1v1h-1zM496.1 609.9h1v1h-1zM494.9 609.3h1v1h-1zM497.1 612.1h1v1h-1zM473.8 605.3h1v1h-1zM485.9 601.7h1v1h-1zM468.6 608.9h1v1h-1zM473.0 612.0h1v1h-1zM487.5 609.7h1v1h-1zM476.2 608.9h1v1h-1zM481.8 612.0h1v1h-1zM496.0 603.8h1v1h-1zM486.3 607.2h1v1h-1zM469.1 608.2h1v1h-1zM484.2 608.5h1v1h-1zM478.5 607.8h1v1h-1zM492.9 609.0h1v1h-1zM469.7 610.7h1v1h-1zM479.4 608.5h1v1h-1zM501.0 612.8h1v1h-1zM497.0 610.4h1v1h-1zM499.4 610.5h1v1h-1zM473.1 605.0h1v1h-1zM471.0 614.6h1v1h-1zM482.0 606.1h1v1h-1zM481.9 613.6h1v1h-1zM487.1 608.4h1v1h-1zM494.0 609.7h1v1h-1zM485.7 603.3h1v1h-1zM481.2 603.6h1v1h-1zM474.8 608.0h1v1h-1zM469.1 611.4h1v1h-1zM466.2 610.1h1v1h-1zM472.4 608.1h1v1h-1zM468.9 608.8h1v1h-1zM480.2 613.3h1v1h-1zM499.3 609.6h1v1h-1zM474.6 606.3h1v1h-1zM500.3 609.1h1v1h-1zM465.8 610.3h1v1h-1zM494.5 607.2h1v1h-1zM466.4 615.7h1v1h-1zM485.3 610.8h1v1h-1zM471.1 612.6h1v1h-1zM499.5 606.5h1v1h-1zM501.3 613.0h1v1h-1zM466.9 610.4h1v1h-1zM493.6 608.7h1v1h-1zM502.7 611.0h1v1h-1zM465.0 604.6h1v1h-1zM479.0 606.0h1v1h-1zM475.8 615.0h1v1h-1zM488.7 609.9h1v1h-1zM482.3 607.9h1v1h-1zM495.8 610.1h1v1h-1zM481.1 612.9h1v1h-1zM482.4 611.3h1v1h-1zM493.7 611.3h1v1h-1zM476.8 608.7h1v1h-1zM466.0 604.9h1v1h-1zM488.5 605.3h1v1h-1zM466.8 611.0h1v1h-1zM483.1 609.8h1v1h-1zM496.1 615.1h1v1h-1zM483.5 613.2h1v1h-1zM477.9 611.8h1v1h-1zM468.2 608.2h1v1h-1zM498.1 615.9h1v1h-1zM493.6 631.0h1v1h-1zM480.6 598.2h1v1h-1zM471.9 602.9h1v1h-1zM473.3 605.2h1v1h-1zM484.9 596.6h1v1h-1zM467.5 613.0h1v1h-1z" fill="#2b5e9c" fill-opacity="0.8"/>
<path d="M483.8 609.0 L500.3 607.4 L508.9 610.4 L500.3 613.4 L483.8 611.8 Z" fill="#1d4f8c"/>
<path d="M486.6 610.6 L500.3 610.6" stroke="#fff" stroke-opacity="0.5" stroke-width="0.6"/>
<rect x="370.40" y="543.20" width="143.10" height="134.80" fill="none" stroke="#333" stroke-width="1.2" />
<line x1="367.80" y1="548.00" x2="370.40" y2="548.00" stroke="#222" stroke-width="0.9" />
<text x="365.50" y="551.10" font-size="8.6" fill="#222" stroke="#222" stroke-width="0.15" text-anchor="end" textLength="4.4" lengthAdjust="spacingAndGlyphs" >4</text>
<line x1="367.80" y1="579.20" x2="370.40" y2="579.20" stroke="#222" stroke-width="0.9" />
<text x="365.50" y="582.30" font-size="8.6" fill="#222" stroke="#222" stroke-width="0.15" text-anchor="end" textLength="4.4" lengthAdjust="spacingAndGlyphs" >2</text>
<line x1="367.80" y1="610.40" x2="370.40" y2="610.40" stroke="#222" stroke-width="0.9" />
<text x="365.50" y="613.50" font-size="8.6" fill="#222" stroke="#222" stroke-width="0.15" text-anchor="end" textLength="4.4" lengthAdjust="spacingAndGlyphs" >0</text>
<line x1="367.80" y1="641.60" x2="370.40" y2="641.60" stroke="#222" stroke-width="0.9" />
<text x="365.50" y="644.70" font-size="8.6" fill="#222" stroke="#222" stroke-width="0.15" text-anchor="end" textLength="8.2" lengthAdjust="spacingAndGlyphs" >−2</text>
<line x1="367.80" y1="672.80" x2="370.40" y2="672.80" stroke="#222" stroke-width="0.9" />
<text x="365.50" y="675.90" font-size="8.6" fill="#222" stroke="#222" stroke-width="0.15" text-anchor="end" textLength="8.2" lengthAdjust="spacingAndGlyphs" >−4</text>
<line x1="392.60" y1="678.00" x2="392.60" y2="680.60" stroke="#222" stroke-width="0.9" />
<text x="394.90" y="689.90" font-size="7.8" fill="#222" stroke="#222" stroke-width="0.15" text-anchor="end" textLength="7.8" lengthAdjust="spacingAndGlyphs" >−8</text>
<line x1="421.60" y1="678.00" x2="421.60" y2="680.60" stroke="#222" stroke-width="0.9" />
<text x="423.90" y="689.90" font-size="7.8" fill="#222" stroke="#222" stroke-width="0.15" text-anchor="end" textLength="7.8" lengthAdjust="spacingAndGlyphs" >−6</text>
<line x1="450.60" y1="678.00" x2="450.60" y2="680.60" stroke="#222" stroke-width="0.9" />
<text x="452.90" y="689.90" font-size="7.8" fill="#222" stroke="#222" stroke-width="0.15" text-anchor="end" textLength="7.8" lengthAdjust="spacingAndGlyphs" >−4</text>
<line x1="479.60" y1="678.00" x2="479.60" y2="680.60" stroke="#222" stroke-width="0.9" />
<text x="481.90" y="689.90" font-size="7.8" fill="#222" stroke="#222" stroke-width="0.15" text-anchor="end" textLength="7.8" lengthAdjust="spacingAndGlyphs" >−2</text>
<line x1="508.60" y1="678.00" x2="508.60" y2="680.60" stroke="#222" stroke-width="0.9" />
<text x="508.60" y="689.90" font-size="7.8" fill="#222" stroke="#222" stroke-width="0.15" text-anchor="middle" textLength="4.3" lengthAdjust="spacingAndGlyphs" >0</text>
<text x="446.98" y="704.60" font-size="8.8" fill="#222" stroke="#222" stroke-width="0.15" text-anchor="middle" textLength="45.0" lengthAdjust="spacingAndGlyphs" >log10 <tspan font-style="italic">P</tspan> value</text>
<text x="373.50" y="606.85" font-size="6.8" fill="#222" stroke="#222" stroke-width="0.15" textLength="60.6" lengthAdjust="spacingAndGlyphs" >1.5 –fold upregulated</text>
<text x="373.50" y="617.25" font-size="6.8" fill="#222" stroke="#222" stroke-width="0.15" textLength="69.2" lengthAdjust="spacingAndGlyphs" >1.5 –fold downregulated</text>
<text x="374.50" y="551.84" font-size="7.6" fill="#222" stroke="#222" stroke-width="0.15" textLength="12.1" lengthAdjust="spacingAndGlyphs" >Hits</text>
<circle cx="372.40" cy="549.00" r="0.8" fill="#cc1a3a"/>
<text x="468.80" y="675.19" font-size="7.2" fill="#222" stroke="#222" stroke-width="0.15" textLength="24.2" lengthAdjust="spacingAndGlyphs" >P = .001</text>
<circle cx="441.18" cy="593.55" r="0.85" fill="#cc1a3a"/>
<text x="443.10" y="596.16" font-size="6.0" fill="#333" stroke="#333" stroke-width="0.15" textLength="8.4" lengthAdjust="spacingAndGlyphs" >SLA</text>
<circle cx="458.58" cy="601.04" r="0.85" fill="#cc1a3a"/>
<text x="457.00" y="597.96" font-size="6.0" fill="#333" stroke="#333" stroke-width="0.15" textLength="11.8" lengthAdjust="spacingAndGlyphs" >PERP</text>
<circle cx="457.12" cy="620.70" r="0.85" fill="#cc1a3a"/>
<text x="448.00" y="626.36" font-size="6.0" fill="#333" stroke="#333" stroke-width="0.15" textLength="13.8" lengthAdjust="spacingAndGlyphs" >LIMD1</text>
<circle cx="464.38" cy="631.30" r="0.85" fill="#cc1a3a"/>
<text x="465.30" y="634.26" font-size="6.0" fill="#333" stroke="#333" stroke-width="0.15" textLength="17.7" lengthAdjust="spacingAndGlyphs" >ZNF827</text>
<circle cx="415.80" cy="634.58" r="0.85" fill="#cc1a3a"/>
<text x="417.90" y="637.06" font-size="6.0" fill="#333" stroke="#333" stroke-width="0.15" textLength="10.4" lengthAdjust="spacingAndGlyphs" >IL10</text>
<circle cx="407.10" cy="653.30" r="0.85" fill="#cc1a3a"/>
<text x="412.70" y="655.76" font-size="6.0" fill="#333" stroke="#333" stroke-width="0.15" textLength="13.1" lengthAdjust="spacingAndGlyphs" >ZFP91</text>
<circle cx="391.15" cy="675.92" r="0.85" fill="#cc1a3a"/>
<text x="391.90" y="676.86" font-size="6.0" fill="#333" stroke="#333" stroke-width="0.15" textLength="12.1" lengthAdjust="spacingAndGlyphs" >IKZF1</text>
<ellipse cx="417.90" cy="653.60" rx="10.70" ry="6.00" fill="none" fill-opacity="1" stroke="#333" stroke-width="0.95" stroke-dasharray="1.8,1.1"/>
<ellipse cx="397.10" cy="675.40" rx="9.30" ry="5.20" fill="none" fill-opacity="1" stroke="#333" stroke-width="0.95" stroke-dasharray="1.8,1.1"/>
<text transform="translate(356.00,687.50) rotate(-90)" font-size="8.6" fill="#222" textLength="143.7" lengthAdjust="spacingAndGlyphs"><tspan fill="#f7941d">CC-92480</tspan> – DMSO relative abundance log2FC</text>
<rect x="0.50" y="0.50" width="519.00" height="711.00" fill="none" stroke="#000" stroke-width="1.2" />
</svg></body></html>
